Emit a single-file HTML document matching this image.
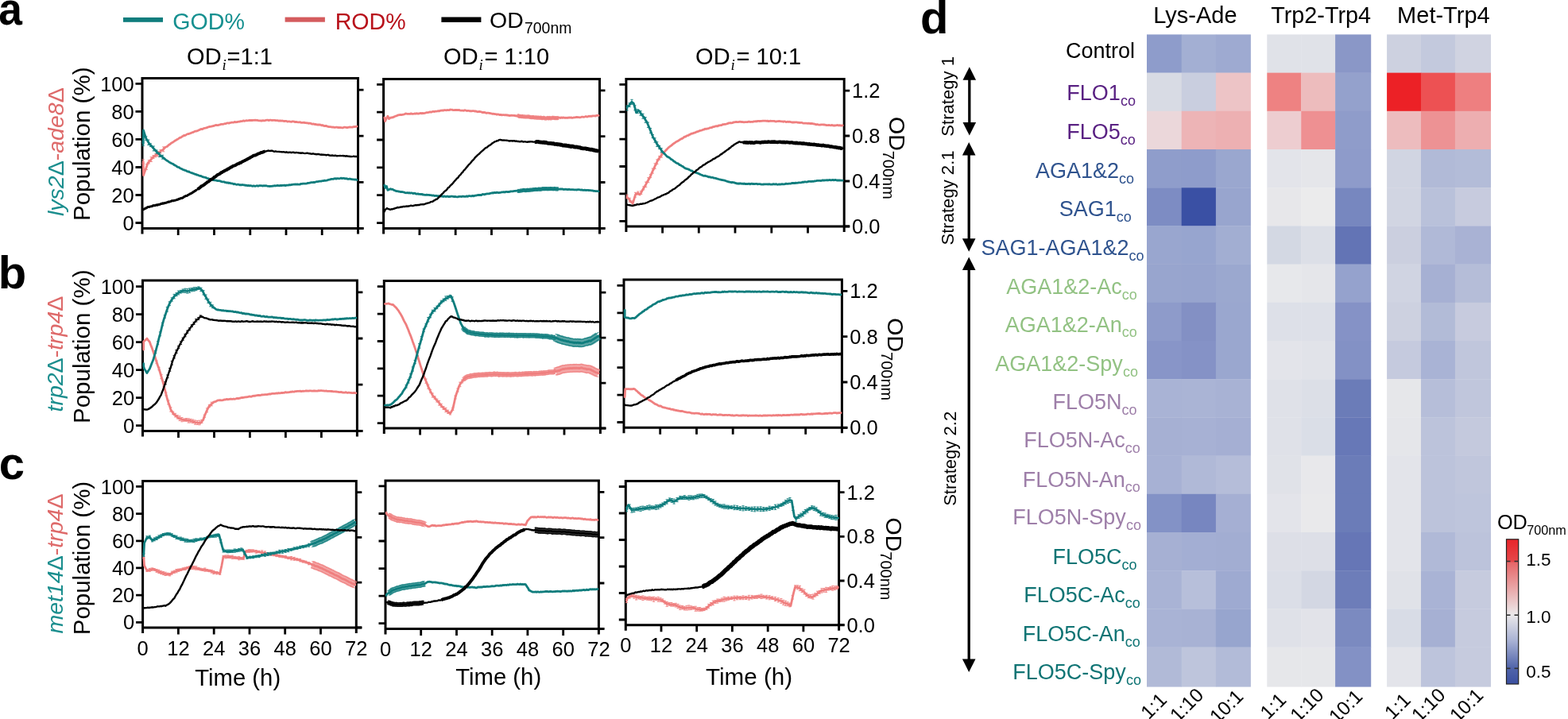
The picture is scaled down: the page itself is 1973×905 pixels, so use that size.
<!DOCTYPE html>
<html><head><meta charset="utf-8"><title>Figure</title><style>html,body{margin:0;padding:0;background:#fff;}svg{display:block;}</style></head><body>
<svg width="1973" height="905" viewBox="0 0 1973 905" font-family="'Liberation Sans', sans-serif">
<rect width="1973" height="905" fill="#fff"/>
<text transform="translate(-1.7,30.8) scale(0.92,1)" font-size="58" font-weight="bold">a</text>
<text x="-2.3" y="362.9" font-size="58" font-weight="bold">b</text>
<text x="-1.3" y="602.9" font-size="58" font-weight="bold">c</text>
<text x="1157.9" y="41.7" font-size="58" font-weight="bold">d</text>
<rect x="155" y="22" width="50" height="5.8" fill="#0f7d7d"/>
<text x="217.3" y="36.8" font-size="28.6" fill="#169090">GOD%</text>
<rect x="358.6" y="21.6" width="50.3" height="6.1" fill="#d45c5e"/>
<text x="421.7" y="36.8" font-size="28.6" fill="#b8111b">ROD%</text>
<rect x="555.4" y="21.5" width="50" height="6.5" fill="#000"/>
<text x="616.1" y="34.7" font-size="28.5">OD<tspan font-size="19.4" dx="1.2" dy="7.3">700nm</tspan></text>
<text x="235.1" y="80.6" font-size="29">OD<tspan font-size="19" font-style="italic" dx="0.9" dy="7.3" font-family="'Liberation Serif', serif">i</tspan><tspan dx="0.8" dy="-7.3">=1:1</tspan></text>
<text x="558.1" y="80.7" font-size="29">OD<tspan font-size="19" font-style="italic" dx="0.9" dy="7.3" font-family="'Liberation Serif', serif">i</tspan><tspan dx="1.8" dy="-7.3">= 1:10</tspan></text>
<text x="875.1" y="80.9" font-size="29">OD<tspan font-size="19" font-style="italic" dx="0.9" dy="7.3" font-family="'Liberation Serif', serif">i</tspan><tspan dx="1.8" dy="-7.3">= 10:1</tspan></text>
<path d="M179.0,294.4 L179.0,98.5 L450.5,98.5 L450.5,294.4 M179.0,287.4 L457.5,287.4" fill="none" stroke="#000" stroke-width="3.0" stroke-linejoin="miter" stroke-linecap="butt"/>
<path d="M170.5,280.5 L179.0,280.5 M170.5,245.5 L179.0,245.5 M170.5,210.5 L179.0,210.5 M170.5,175.4 L179.0,175.4 M170.5,140.4 L179.0,140.4 M170.5,105.4 L179.0,105.4 M450.5,287.4 L457.5,287.4 M450.5,229.3 L457.5,229.3 M450.5,171.2 L457.5,171.2 M450.5,113.1 L457.5,113.1 M224.2,287.4 L224.2,295.9 M269.5,287.4 L269.5,295.9 M314.8,287.4 L314.8,295.9 M360.0,287.4 L360.0,295.9 M405.2,287.4 L405.2,295.9" stroke="#000" stroke-width="2.8" fill="none"/>
<text x="168.7" y="289.6" font-size="25.5" text-anchor="end">0</text>
<text x="168.7" y="254.6" font-size="25.5" text-anchor="end">20</text>
<text x="168.7" y="219.6" font-size="25.5" text-anchor="end">40</text>
<text x="168.7" y="184.5" font-size="25.5" text-anchor="end">60</text>
<text x="168.7" y="149.5" font-size="25.5" text-anchor="end">80</text>
<text x="168.7" y="114.5" font-size="25.5" text-anchor="end">100</text>
<path d="M482.6,294.4 L482.6,99.4 L754.5,99.4 L754.5,294.4 M482.6,287.4 L761.5,287.4" fill="none" stroke="#000" stroke-width="3.0" stroke-linejoin="miter" stroke-linecap="butt"/>
<path d="M474.1,280.6 L482.6,280.6 M474.1,245.7 L482.6,245.7 M474.1,210.9 L482.6,210.9 M474.1,176.0 L482.6,176.0 M474.1,141.2 L482.6,141.2 M474.1,106.3 L482.6,106.3 M754.5,287.4 L761.5,287.4 M754.5,229.5 L761.5,229.5 M754.5,171.7 L761.5,171.7 M754.5,113.8 L761.5,113.8 M527.9,287.4 L527.9,295.9 M573.2,287.4 L573.2,295.9 M618.5,287.4 L618.5,295.9 M663.9,287.4 L663.9,295.9 M709.2,287.4 L709.2,295.9" stroke="#000" stroke-width="2.8" fill="none"/>
<path d="M787.9,291.9 L787.9,99.6 L1062.2,99.6 L1062.2,291.9 M787.9,284.9 L1069.2,284.9" fill="none" stroke="#000" stroke-width="3.0" stroke-linejoin="miter" stroke-linecap="butt"/>
<path d="M779.4,278.3 L787.9,278.3 M779.4,243.9 L787.9,243.9 M779.4,209.5 L787.9,209.5 M779.4,175.2 L787.9,175.2 M779.4,140.8 L787.9,140.8 M779.4,106.4 L787.9,106.4 M1062.2,284.9 L1069.2,284.9 M1062.2,228.0 L1069.2,228.0 M1062.2,171.0 L1069.2,171.0 M1062.2,114.1 L1069.2,114.1 M833.6,284.9 L833.6,293.4 M879.3,284.9 L879.3,293.4 M925.0,284.9 L925.0,293.4 M970.8,284.9 L970.8,293.4 M1016.5,284.9 L1016.5,293.4" stroke="#000" stroke-width="2.8" fill="none"/>
<text x="1072.0" y="294.0" font-size="25.5">0.0</text>
<text x="1072.0" y="237.1" font-size="25.5">0.4</text>
<text x="1072.0" y="180.1" font-size="25.5">0.8</text>
<text x="1072.0" y="123.2" font-size="25.5">1.2</text>
<path d="M179.5,549.4 L179.5,352.9 L449.4,352.9 L449.4,549.4 M179.5,542.4 L456.4,542.4" fill="none" stroke="#000" stroke-width="3.0" stroke-linejoin="miter" stroke-linecap="butt"/>
<path d="M171.0,535.6 L179.5,535.6 M171.0,500.6 L179.5,500.6 M171.0,465.6 L179.5,465.6 M171.0,430.7 L179.5,430.7 M171.0,395.7 L179.5,395.7 M171.0,360.7 L179.5,360.7 M449.4,542.4 L456.4,542.4 M449.4,484.2 L456.4,484.2 M449.4,426.0 L456.4,426.0 M449.4,367.8 L456.4,367.8 M224.5,542.4 L224.5,550.9 M269.5,542.4 L269.5,550.9 M314.4,542.4 L314.4,550.9 M359.4,542.4 L359.4,550.9 M404.4,542.4 L404.4,550.9" stroke="#000" stroke-width="2.8" fill="none"/>
<text x="169.2" y="544.7" font-size="25.5" text-anchor="end">0</text>
<text x="169.2" y="509.7" font-size="25.5" text-anchor="end">20</text>
<text x="169.2" y="474.7" font-size="25.5" text-anchor="end">40</text>
<text x="169.2" y="439.8" font-size="25.5" text-anchor="end">60</text>
<text x="169.2" y="404.8" font-size="25.5" text-anchor="end">80</text>
<text x="169.2" y="369.8" font-size="25.5" text-anchor="end">100</text>
<path d="M483.3,546.1 L483.3,353.6 L755.4,353.6 L755.4,546.1 M483.3,539.1 L762.4,539.1" fill="none" stroke="#000" stroke-width="3.0" stroke-linejoin="miter" stroke-linecap="butt"/>
<path d="M474.8,532.6 L483.3,532.6 M474.8,498.2 L483.3,498.2 M474.8,463.8 L483.3,463.8 M474.8,429.5 L483.3,429.5 M474.8,395.1 L483.3,395.1 M474.8,360.7 L483.3,360.7 M755.4,539.1 L762.4,539.1 M755.4,482.1 L762.4,482.1 M755.4,425.1 L762.4,425.1 M755.4,368.1 L762.4,368.1 M528.6,539.1 L528.6,547.6 M574.0,539.1 L574.0,547.6 M619.4,539.1 L619.4,547.6 M664.7,539.1 L664.7,547.6 M710.0,539.1 L710.0,547.6" stroke="#000" stroke-width="2.8" fill="none"/>
<path d="M785.0,545.3 L785.0,352.0 L1059.4,352.0 L1059.4,545.3 M785.0,538.3 L1066.4,538.3" fill="none" stroke="#000" stroke-width="3.0" stroke-linejoin="miter" stroke-linecap="butt"/>
<path d="M776.5,531.5 L785.0,531.5 M776.5,497.1 L785.0,497.1 M776.5,462.7 L785.0,462.7 M776.5,428.2 L785.0,428.2 M776.5,393.8 L785.0,393.8 M776.5,359.4 L785.0,359.4 M1059.4,538.3 L1066.4,538.3 M1059.4,481.0 L1066.4,481.0 M1059.4,423.6 L1066.4,423.6 M1059.4,366.3 L1066.4,366.3 M830.7,538.3 L830.7,546.8 M876.5,538.3 L876.5,546.8 M922.2,538.3 L922.2,546.8 M967.9,538.3 L967.9,546.8 M1013.7,538.3 L1013.7,546.8" stroke="#000" stroke-width="2.8" fill="none"/>
<text x="1069.2" y="547.4" font-size="25.5">0.0</text>
<text x="1069.2" y="490.1" font-size="25.5">0.4</text>
<text x="1069.2" y="432.7" font-size="25.5">0.8</text>
<text x="1069.2" y="375.4" font-size="25.5">1.2</text>
<path d="M179.6,796.9 L179.6,605.5 L448.3,605.5 L448.3,796.9 M179.6,789.9 L455.3,789.9" fill="none" stroke="#000" stroke-width="3.0" stroke-linejoin="miter" stroke-linecap="butt"/>
<path d="M171.1,783.3 L179.6,783.3 M171.1,749.1 L179.6,749.1 M171.1,714.9 L179.6,714.9 M171.1,680.8 L179.6,680.8 M171.1,646.6 L179.6,646.6 M171.1,612.4 L179.6,612.4 M448.3,789.9 L455.3,789.9 M448.3,733.1 L455.3,733.1 M448.3,676.4 L455.3,676.4 M448.3,619.6 L455.3,619.6 M224.4,789.9 L224.4,798.4 M269.2,789.9 L269.2,798.4 M314.0,789.9 L314.0,798.4 M358.7,789.9 L358.7,798.4 M403.5,789.9 L403.5,798.4" stroke="#000" stroke-width="2.8" fill="none"/>
<text x="169.3" y="792.4" font-size="25.5" text-anchor="end">0</text>
<text x="169.3" y="758.2" font-size="25.5" text-anchor="end">20</text>
<text x="169.3" y="724.0" font-size="25.5" text-anchor="end">40</text>
<text x="169.3" y="689.9" font-size="25.5" text-anchor="end">60</text>
<text x="169.3" y="655.7" font-size="25.5" text-anchor="end">80</text>
<text x="169.3" y="621.5" font-size="25.5" text-anchor="end">100</text>
<text x="179.6" y="824.6" font-size="25.5" text-anchor="middle">0</text>
<text x="224.4" y="824.6" font-size="25.5" text-anchor="middle">12</text>
<text x="269.2" y="824.6" font-size="25.5" text-anchor="middle">24</text>
<text x="314.0" y="824.6" font-size="25.5" text-anchor="middle">36</text>
<text x="358.7" y="824.6" font-size="25.5" text-anchor="middle">48</text>
<text x="403.5" y="824.6" font-size="25.5" text-anchor="middle">60</text>
<text x="448.3" y="824.6" font-size="25.5" text-anchor="middle">72</text>
<path d="M485.0,798.4 L485.0,605.0 L753.4,605.0 L753.4,798.4 M485.0,791.4 L760.4,791.4" fill="none" stroke="#000" stroke-width="3.0" stroke-linejoin="miter" stroke-linecap="butt"/>
<path d="M476.5,784.7 L485.0,784.7 M476.5,750.1 L485.0,750.1 M476.5,715.6 L485.0,715.6 M476.5,681.0 L485.0,681.0 M476.5,646.5 L485.0,646.5 M476.5,611.9 L485.0,611.9 M753.4,791.4 L760.4,791.4 M753.4,734.0 L760.4,734.0 M753.4,676.7 L760.4,676.7 M753.4,619.3 L760.4,619.3 M529.7,791.4 L529.7,799.9 M574.5,791.4 L574.5,799.9 M619.2,791.4 L619.2,799.9 M663.9,791.4 L663.9,799.9 M708.7,791.4 L708.7,799.9" stroke="#000" stroke-width="2.8" fill="none"/>
<text x="485.0" y="826.1" font-size="25.5" text-anchor="middle">0</text>
<text x="529.7" y="826.1" font-size="25.5" text-anchor="middle">12</text>
<text x="574.5" y="826.1" font-size="25.5" text-anchor="middle">24</text>
<text x="619.2" y="826.1" font-size="25.5" text-anchor="middle">36</text>
<text x="663.9" y="826.1" font-size="25.5" text-anchor="middle">48</text>
<text x="708.7" y="826.1" font-size="25.5" text-anchor="middle">60</text>
<text x="753.4" y="826.1" font-size="25.5" text-anchor="middle">72</text>
<path d="M787.3,793.7 L787.3,605.5 L1055.6,605.5 L1055.6,793.7 M787.3,786.7 L1062.6,786.7" fill="none" stroke="#000" stroke-width="3.0" stroke-linejoin="miter" stroke-linecap="butt"/>
<path d="M778.8,780.0 L787.3,780.0 M778.8,746.5 L787.3,746.5 M778.8,713.0 L787.3,713.0 M778.8,679.5 L787.3,679.5 M778.8,646.0 L787.3,646.0 M778.8,612.5 L787.3,612.5 M1055.6,786.7 L1062.6,786.7 M1055.6,731.0 L1062.6,731.0 M1055.6,675.3 L1062.6,675.3 M1055.6,619.6 L1062.6,619.6 M832.0,786.7 L832.0,795.2 M876.7,786.7 L876.7,795.2 M921.4,786.7 L921.4,795.2 M966.2,786.7 L966.2,795.2 M1010.9,786.7 L1010.9,795.2" stroke="#000" stroke-width="2.8" fill="none"/>
<text x="1065.4" y="795.8" font-size="25.5">0.0</text>
<text x="1065.4" y="740.1" font-size="25.5">0.4</text>
<text x="1065.4" y="684.4" font-size="25.5">0.8</text>
<text x="1065.4" y="628.7" font-size="25.5">1.2</text>
<text x="787.3" y="821.4" font-size="25.5" text-anchor="middle">0</text>
<text x="832.0" y="821.4" font-size="25.5" text-anchor="middle">12</text>
<text x="876.7" y="821.4" font-size="25.5" text-anchor="middle">24</text>
<text x="921.4" y="821.4" font-size="25.5" text-anchor="middle">36</text>
<text x="966.2" y="821.4" font-size="25.5" text-anchor="middle">48</text>
<text x="1010.9" y="821.4" font-size="25.5" text-anchor="middle">60</text>
<text x="1055.6" y="821.4" font-size="25.5" text-anchor="middle">72</text>
<path d="M180.2,203.3 L180.5,220.7 L182.7,214.6 L184.4,210.1 L186.0,205.3 L187.4,203.8 L188.8,202.1 L190.2,200.6 L191.6,199.1 L193.0,197.5 L194.3,196.3 L195.7,195.8 L197.1,194.4 L198.3,193.6 L199.6,192.1 L200.8,191.5 L202.0,190.7 L203.2,189.3 L204.5,188.9 L205.7,187.9 L206.9,186.3 L208.1,185.3 L209.4,184.8 L210.6,184.2 L211.8,182.9 L213.1,182.0 L214.3,181.3 L215.5,180.1 L216.7,179.4 L218.0,178.7 L219.2,177.9 L220.4,176.9 L221.7,176.2 L222.9,175.5 L224.1,174.9 L225.3,174.0 L226.6,173.1 L227.8,173.0 L229.0,172.0 L230.2,171.3 L231.5,170.5 L232.7,170.6 L233.9,170.0 L235.2,169.0 L236.4,168.7 L237.6,168.5 L238.8,168.0 L240.1,167.6 L241.3,166.8 L242.5,166.6 L243.8,166.1 L245.0,165.4 L246.2,165.2 L247.4,165.0 L248.7,164.6 L249.9,163.9 L251.1,163.5 L252.3,162.7 L253.6,162.5 L254.8,162.5 L256.0,161.8 L257.3,161.3 L258.5,161.1 L259.7,160.9 L260.9,160.4 L262.2,159.8 L263.4,159.5 L264.6,159.3 L265.9,159.2 L267.1,158.8 L268.3,158.5 L269.5,158.3 L270.8,157.7 L272.0,157.5 L273.2,157.7 L274.4,157.7 L275.7,157.1 L276.9,156.8 L278.1,156.4 L279.4,156.3 L280.6,156.4 L281.8,156.0 L283.0,155.6 L284.3,155.6 L285.5,154.9 L286.7,154.9 L288.0,155.1 L289.2,154.6 L290.4,154.4 L291.6,154.1 L292.9,154.1 L294.1,154.2 L295.3,153.4 L296.5,153.8 L297.8,153.6 L299.0,153.5 L300.2,153.2 L301.5,153.1 L302.7,152.7 L303.9,152.6 L305.1,152.3 L306.4,151.9 L307.6,152.3 L308.8,152.0 L310.1,151.7 L311.3,151.8 L312.5,151.7 L313.7,151.5 L315.0,151.5 L316.2,151.5 L317.4,151.5 L318.6,151.4 L319.9,151.4 L321.1,151.1 L322.3,151.3 L323.6,151.3 L324.8,151.7 L326.0,151.9 L327.2,151.9 L328.5,152.0 L329.7,152.0 L330.9,151.6 L332.2,151.9 L333.4,151.8 L334.6,151.3 L335.8,151.2 L337.1,151.2 L338.3,151.6 L339.5,151.2 L340.7,151.1 L342.0,151.5 L343.2,151.4 L344.4,151.3 L345.7,151.4 L346.9,151.7 L348.1,151.6 L349.3,151.7 L350.6,152.1 L351.8,152.0 L353.0,152.0 L354.3,152.2 L355.5,152.0 L356.7,152.3 L357.9,152.5 L359.2,152.4 L360.4,152.4 L361.6,153.1 L362.8,152.9 L364.1,152.8 L365.3,153.1 L366.5,153.3 L367.8,152.9 L369.0,152.9 L370.2,153.1 L371.4,153.6 L372.7,153.3 L373.9,153.7 L375.1,153.8 L376.4,153.8 L377.6,153.7 L378.8,154.4 L380.0,154.4 L381.3,154.3 L382.5,154.2 L383.7,154.6 L384.9,154.6 L386.2,154.9 L387.4,154.9 L388.6,155.3 L389.9,155.0 L391.1,155.4 L392.3,156.0 L393.5,156.1 L394.8,155.9 L396.0,156.5 L397.2,156.3 L398.4,156.9 L399.7,157.0 L400.9,156.9 L402.1,157.0 L403.4,157.1 L404.6,157.9 L405.8,157.5 L407.0,158.2 L408.3,158.6 L409.5,158.5 L410.7,158.5 L412.0,159.2 L413.2,159.5 L414.4,159.6 L415.6,159.7 L416.9,159.9 L418.1,160.1 L419.3,160.0 L420.5,160.4 L421.8,160.3 L423.0,160.2 L424.2,160.2 L425.5,160.6 L426.7,160.4 L427.9,160.6 L429.1,160.5 L430.4,160.8 L431.6,160.8 L432.8,160.2 L434.1,160.2 L435.3,160.3 L436.5,160.7 L437.7,160.5 L439.0,160.1 L440.2,160.0 L441.5,160.2 L442.7,160.1 L444.0,160.0 L445.2,159.5 L446.5,159.7 L447.8,159.4 L449.0,159.1" fill="none" stroke="#ef7f7f" stroke-width="2.8" stroke-linejoin="round" stroke-linecap="round"/>
<path d="M180.2,200.8 L180.2,205.8 M178.6,200.8 L181.8,200.8 M178.6,205.8 L181.8,205.8 M184.4,206.8 L184.4,213.4 M182.8,206.8 L186.0,206.8 M182.8,213.4 L186.0,213.4 M187.4,201.7 L187.4,206.0 M185.8,201.7 L189.0,201.7 M185.8,206.0 L189.0,206.0 M190.2,197.7 L190.2,203.5 M188.6,197.7 L191.8,197.7 M188.6,203.5 L191.8,203.5 M193.0,195.6 L193.0,199.4 M191.4,195.6 L194.6,195.6 M191.4,199.4 L194.6,199.4 M195.7,193.7 L195.7,197.8 M194.1,193.7 L197.3,193.7 M194.1,197.8 L197.3,197.8 M198.3,190.5 L198.3,196.8 M196.7,190.5 L199.9,190.5 M196.7,196.8 L199.9,196.8 M202.0,188.6 L202.0,192.8 M200.4,188.6 L203.6,188.6 M200.4,192.8 L203.6,192.8 M205.7,184.9 L205.7,190.8 M204.1,184.9 L207.3,184.9 M204.1,190.8 L207.3,190.8" fill="none" stroke="#ef7f7f" stroke-width="0.9"/>
<path d="M180.2,181.2 L180.5,163.8 L182.2,169.3 L183.8,174.2 L185.3,176.5 L186.8,179.2 L188.3,181.4 L189.5,182.7 L190.8,183.9 L192.0,185.5 L193.3,186.9 L194.6,188.3 L195.8,189.5 L197.1,191.1 L198.3,192.2 L199.6,193.5 L200.8,194.8 L202.0,195.9 L203.2,196.7 L204.5,197.7 L205.7,198.7 L206.9,199.6 L208.1,200.7 L209.4,201.8 L210.6,202.4 L211.8,203.2 L213.1,204.3 L214.3,204.8 L215.5,205.5 L216.7,206.0 L218.0,206.6 L219.2,207.6 L220.4,208.1 L221.7,208.9 L222.9,209.9 L224.1,210.3 L225.3,210.6 L226.6,211.7 L227.8,212.2 L229.0,212.8 L230.2,213.5 L231.5,213.9 L232.7,214.4 L233.9,214.6 L235.2,215.5 L236.4,216.0 L237.6,215.9 L238.8,216.8 L240.1,217.3 L241.3,217.6 L242.5,218.1 L243.8,218.5 L245.0,219.2 L246.2,219.3 L247.4,220.0 L248.7,220.1 L249.9,220.8 L251.1,221.3 L252.3,221.4 L253.6,221.9 L254.8,222.6 L256.0,222.9 L257.3,223.2 L258.5,223.4 L259.7,223.9 L260.9,224.6 L262.2,224.7 L263.4,225.7 L264.6,225.5 L265.9,226.2 L267.1,226.0 L268.3,226.7 L269.5,226.8 L270.8,226.9 L272.0,227.1 L273.2,227.5 L274.4,227.7 L275.7,227.7 L276.9,227.9 L278.1,228.3 L279.4,228.9 L280.6,228.9 L281.8,228.8 L283.0,229.5 L284.3,229.7 L285.5,230.1 L286.7,229.8 L288.0,230.5 L289.2,230.2 L290.4,230.9 L291.6,230.9 L292.9,231.1 L294.1,231.8 L295.3,231.5 L296.5,232.0 L297.8,232.4 L299.0,232.1 L300.2,232.2 L301.5,232.8 L302.7,232.6 L303.9,232.9 L305.1,232.5 L306.4,232.9 L307.6,232.9 L308.8,233.4 L310.1,233.1 L311.3,233.8 L312.5,233.3 L313.7,233.9 L315.0,233.5 L316.2,233.8 L317.4,234.3 L318.6,234.0 L319.9,234.0 L321.1,234.3 L322.3,234.0 L323.6,233.7 L324.8,234.3 L326.0,233.7 L327.2,233.6 L328.5,233.7 L329.7,233.9 L330.9,234.0 L332.2,233.6 L333.4,233.8 L334.6,233.7 L335.8,234.0 L337.1,234.3 L338.3,234.3 L339.5,234.5 L340.7,234.4 L342.0,234.4 L343.2,234.2 L344.4,234.0 L345.7,233.7 L346.9,234.0 L348.1,233.7 L349.3,233.4 L350.6,233.6 L351.8,233.8 L353.0,233.3 L354.3,233.5 L355.5,233.3 L356.7,233.4 L357.9,233.1 L359.2,233.6 L360.4,233.1 L361.6,233.2 L362.8,233.1 L364.1,232.7 L365.3,232.9 L366.5,232.5 L367.8,232.3 L369.0,232.2 L370.2,232.1 L371.4,232.0 L372.7,232.2 L373.9,232.0 L375.1,232.2 L376.4,232.1 L377.6,232.0 L378.8,231.3 L380.0,231.4 L381.3,231.1 L382.5,231.2 L383.7,231.1 L384.9,231.1 L386.2,230.9 L387.4,230.4 L388.6,230.3 L389.9,230.2 L391.1,229.7 L392.3,229.6 L393.5,229.6 L394.8,229.3 L396.0,229.5 L397.2,229.0 L398.4,228.7 L399.7,228.6 L400.9,228.4 L402.1,228.2 L403.4,228.2 L404.6,228.0 L405.8,227.7 L407.0,227.7 L408.3,227.1 L409.5,227.4 L410.7,227.2 L412.0,226.8 L413.2,226.3 L414.4,226.1 L415.6,225.9 L416.9,225.3 L418.1,225.3 L419.3,225.3 L420.5,224.9 L421.8,224.7 L423.0,225.1 L424.2,224.7 L425.5,224.7 L426.7,224.8 L427.9,224.5 L429.1,224.1 L430.4,224.7 L431.6,224.4 L432.8,224.3 L434.1,224.9 L435.3,224.6 L436.5,224.9 L437.7,225.4 L439.0,225.4 L440.2,225.0 L441.5,225.5 L442.7,225.6 L444.0,225.9 L445.2,225.8 L446.5,226.2 L447.8,226.0 L449.0,226.5" fill="none" stroke="#0f7d7d" stroke-width="2.8" stroke-linejoin="round" stroke-linecap="round"/>
<path d="M180.2,179.0 L180.2,183.4 M178.6,179.0 L181.8,179.0 M178.6,183.4 L181.8,183.4 M183.8,171.9 L183.8,176.6 M182.2,171.9 L185.4,171.9 M182.2,176.6 L185.4,176.6 M186.8,176.0 L186.8,182.4 M185.2,176.0 L188.4,176.0 M185.2,182.4 L188.4,182.4 M189.5,180.8 L189.5,184.6 M187.9,180.8 L191.1,180.8 M187.9,184.6 L191.1,184.6 M193.3,184.0 L193.3,189.9 M191.7,184.0 L194.9,184.0 M191.7,189.9 L194.9,189.9 M197.1,189.0 L197.1,193.2 M195.5,189.0 L198.7,189.0 M195.5,193.2 L198.7,193.2 M200.8,192.1 L200.8,197.5 M199.2,192.1 L202.4,192.1 M199.2,197.5 L202.4,197.5 M204.5,195.3 L204.5,200.1 M202.9,195.3 L206.1,195.3 M202.9,200.1 L206.1,200.1" fill="none" stroke="#0f7d7d" stroke-width="0.9"/>
<path d="M180.2,264.1 L180.7,263.4 L182.1,262.7 L183.4,262.1 L184.7,261.4 L186.0,260.6 L187.3,260.5 L188.5,260.1 L189.7,259.9 L191.0,259.7 L192.2,259.0 L193.4,258.6 L194.6,258.9 L195.9,258.2 L197.1,257.9 L198.3,258.1 L199.6,257.4 L200.8,257.4 L202.0,256.8 L203.2,256.6 L204.5,255.9 L205.7,256.0 L206.9,255.8 L208.1,255.2 L209.4,255.1 L210.6,254.7 L211.8,254.0 L213.1,254.1 L214.3,253.7 L215.5,253.2 L216.7,252.7 L218.0,252.9 L219.2,252.3 L220.4,252.1 L221.7,251.8 L222.9,251.2 L224.1,251.0 L225.3,250.2 L226.6,250.1 L227.8,249.4 L229.0,249.3 L230.2,248.9 L231.5,247.7 L232.7,247.1 L233.9,246.6 L235.2,246.5 L236.4,245.5 L237.6,245.0 L238.8,244.2 L240.1,243.7 L241.3,243.0 L242.5,242.1 L243.8,241.4 L245.0,240.5 L246.2,239.9 L247.4,238.9 L248.7,238.2 L249.9,237.3 L251.1,236.5 L252.3,235.5 L253.6,234.2 L254.8,233.9 L256.0,233.1 L257.3,232.2 L258.5,231.1 L259.7,230.3 L260.9,229.1 L262.2,228.7 L263.4,227.6 L264.6,226.6 L265.9,225.6 L267.1,225.3 L268.3,224.5 L269.5,223.0 L270.8,222.7 L272.0,221.5 L273.2,220.5 L274.4,219.7 L275.7,219.3 L276.9,218.6 L278.1,217.3 L279.4,217.0 L280.6,215.9 L281.8,215.6 L283.0,214.6 L284.3,214.2 L285.5,213.6 L286.7,212.6 L288.0,212.4 L289.2,211.3 L290.4,210.5 L291.6,210.2 L292.9,209.2 L294.1,208.7 L295.3,208.3 L296.5,207.8 L297.8,206.9 L299.0,206.2 L300.2,206.1 L301.5,205.1 L302.7,205.0 L303.9,204.3 L305.1,203.3 L306.4,202.8 L307.6,202.2 L308.8,201.6 L310.1,200.9 L311.3,200.2 L312.5,199.6 L313.7,199.2 L315.0,198.2 L316.2,197.5 L317.4,197.0 L318.6,196.0 L319.9,195.6 L321.1,195.6 L322.3,194.8 L323.6,194.3 L324.8,193.4 L326.0,193.2 L327.2,192.8 L328.5,192.0 L329.7,191.9 L331.0,191.5 L332.3,190.8 L333.6,190.8 L334.9,190.3 L336.1,190.1 L337.4,189.5 L338.7,189.9 L340.0,190.0 L341.3,189.7 L342.7,189.8 L344.0,190.4 L345.3,190.8 L346.6,190.4 L347.9,190.7 L349.2,190.9 L350.5,190.9 L351.8,191.0 L353.0,191.1 L354.3,191.2 L355.5,191.4 L356.7,191.3 L357.9,191.4 L359.2,191.8 L360.4,191.3 L361.6,191.8 L362.8,192.0 L364.1,191.7 L365.3,191.7 L366.5,192.2 L367.8,191.8 L369.0,191.8 L370.2,192.0 L371.4,192.3 L372.7,191.9 L373.9,192.1 L375.1,192.2 L376.4,192.6 L377.6,192.4 L378.8,192.8 L380.0,192.4 L381.3,192.6 L382.5,192.9 L383.7,193.1 L384.9,192.9 L386.2,192.8 L387.4,192.8 L388.6,193.2 L389.9,193.1 L391.1,193.6 L392.3,193.7 L393.5,193.4 L394.8,193.5 L396.0,194.0 L397.2,194.0 L398.4,194.2 L399.7,194.0 L400.9,194.0 L402.1,194.3 L403.4,194.7 L404.6,194.5 L405.8,194.7 L407.0,194.8 L408.3,194.9 L409.5,195.0 L410.7,195.4 L412.0,194.9 L413.2,194.9 L414.4,195.6 L415.6,195.7 L416.9,195.8 L418.1,195.5 L419.3,195.9 L420.5,196.0 L421.8,195.6 L423.0,196.0 L424.2,196.2 L425.5,196.1 L426.7,196.1 L427.9,196.0 L429.1,196.1 L430.4,196.1 L431.6,196.0 L432.8,196.4 L434.1,196.3 L435.3,196.7 L436.5,196.2 L437.7,196.8 L439.0,196.7 L440.2,197.0 L441.5,197.0 L442.7,197.1 L444.0,196.9 L445.2,196.6 L446.5,197.1 L447.8,196.8 L449.0,197.1" fill="none" stroke="#000" stroke-width="2.4" stroke-linejoin="round" stroke-linecap="round"/>
<path d="M180.2,264.1 L180.7,263.4 L182.1,262.7 L183.4,262.1 L184.7,261.4 L186.0,260.6 L187.3,260.5 L188.5,260.1 L189.7,259.9 L191.0,259.7 L192.2,259.0 L193.4,258.6 L194.6,258.9 L195.9,258.2 L197.1,257.9 L198.3,258.1 L199.6,257.4 L200.8,257.4 L202.0,256.8 L203.2,256.6 L204.5,255.9 L205.7,256.0 L206.9,255.8 L208.1,255.2 L209.4,255.1 L210.6,254.7 L211.8,254.0 L213.1,254.1 L214.3,253.7 L215.5,253.2 L216.7,252.7 L218.0,252.9 L219.2,252.3 L220.4,252.1 L221.7,251.8 L222.9,251.2 L224.1,251.0 L225.3,250.2 L226.6,250.1 L227.8,249.4 L229.0,249.3 L230.2,248.9 L231.5,247.7 L232.7,247.1 L233.9,246.6 L235.2,246.5 L236.4,245.5 L237.6,245.0 L238.8,244.2 L240.1,243.7 L241.3,243.0 L242.5,242.1 L243.8,241.4 L245.0,240.5 L246.2,239.9 L247.4,238.9" fill="none" stroke="#000" stroke-width="2.9" stroke-linejoin="round" stroke-linecap="butt"/>
<path d="M248.7,238.2 L249.9,237.3 L251.1,236.5 L252.3,235.5 L253.6,234.2 L254.8,233.9 L256.0,233.1 L257.3,232.2 L258.5,231.1 L259.7,230.3 L260.9,229.1 L262.2,228.7 L263.4,227.6 L264.6,226.6 L265.9,225.6 L267.1,225.3 L268.3,224.5 L269.5,223.0 L270.8,222.7 L272.0,221.5 L273.2,220.5 L274.4,219.7 L275.7,219.3 L276.9,218.6 L278.1,217.3 L279.4,217.0 L280.6,215.9 L281.8,215.6 L283.0,214.6 L284.3,214.2 L285.5,213.6 L286.7,212.6 L288.0,212.4 L289.2,211.3 L290.4,210.5 L291.6,210.2 L292.9,209.2 L294.1,208.7 L295.3,208.3 L296.5,207.8 L297.8,206.9 L299.0,206.2 L300.2,206.1 L301.5,205.1 L302.7,205.0 L303.9,204.3 L305.1,203.3 L306.4,202.8 L307.6,202.2 L308.8,201.6 L310.1,200.9 L311.3,200.2 L312.5,199.6 L313.7,199.2 L315.0,198.2 L316.2,197.5 L317.4,197.0 L318.6,196.0 L319.9,195.6 L321.1,195.6 L322.3,194.8 L323.6,194.3 L324.8,193.4 L326.0,193.2 L327.2,192.8 L328.5,192.0 L329.7,191.9 L331.0,191.5 L332.3,190.8 L333.6,190.8" fill="none" stroke="#000" stroke-width="4.0" stroke-linejoin="round" stroke-linecap="butt"/>
<path d="M483.8,148.0 L484.6,152.7 L486.4,148.9 L487.9,146.2 L489.5,149.6 L491.3,148.2 L492.5,148.0 L493.8,147.9 L495.0,147.4 L496.3,146.9 L497.6,146.1 L498.8,145.9 L500.1,145.2 L501.3,144.9 L502.6,144.6 L503.8,144.5 L505.0,144.7 L506.2,144.4 L507.5,144.1 L508.7,143.9 L509.9,143.2 L511.1,143.0 L512.4,143.3 L513.6,143.3 L514.8,143.4 L516.1,143.4 L517.3,142.9 L518.5,143.3 L519.7,143.3 L521.0,143.2 L522.2,143.0 L523.4,143.1 L524.7,142.7 L525.9,143.2 L527.1,143.0 L528.3,142.7 L529.6,142.4 L530.8,142.8 L532.0,142.4 L533.2,142.6 L534.5,142.4 L535.7,142.0 L536.9,141.7 L538.2,141.7 L539.4,141.4 L540.6,141.0 L541.8,141.0 L543.1,141.1 L544.3,140.4 L545.5,140.3 L546.8,140.5 L548.0,140.1 L549.2,140.1 L550.4,139.9 L551.7,139.6 L552.9,139.9 L554.1,139.2 L555.3,139.1 L556.6,138.9 L557.8,139.1 L559.0,138.7 L560.3,138.7 L561.5,138.9 L562.7,138.5 L563.9,138.6 L565.2,138.7 L566.4,138.0 L567.6,138.1 L568.9,138.2 L570.1,138.6 L571.3,138.6 L572.5,138.4 L573.8,138.5 L575.0,138.4 L576.2,138.7 L577.4,138.4 L578.7,138.9 L579.9,139.1 L581.1,139.2 L582.4,139.1 L583.6,139.3 L584.8,138.7 L586.0,139.0 L587.3,139.5 L588.5,139.4 L589.7,139.3 L591.0,139.8 L592.2,139.7 L593.4,139.9 L594.6,139.7 L595.9,139.7 L597.1,140.0 L598.3,139.9 L599.5,140.2 L600.8,140.8 L602.0,140.5 L603.2,140.5 L604.5,140.7 L605.7,140.9 L606.9,141.5 L608.1,141.4 L609.4,141.5 L610.6,141.6 L611.8,142.4 L613.1,142.2 L614.3,142.2 L615.5,142.3 L616.7,142.5 L618.0,142.8 L619.2,143.3 L620.4,143.2 L621.6,143.3 L622.9,143.7 L624.1,143.7 L625.3,144.3 L626.6,143.8 L627.8,144.3 L629.0,144.5 L630.2,144.4 L631.5,144.9 L632.7,144.7 L633.9,144.6 L635.2,144.8 L636.4,144.6 L637.6,145.0 L638.8,144.9 L640.1,145.4 L641.3,145.5 L642.5,145.3 L643.7,145.1 L645.0,145.3 L646.2,145.4 L647.4,145.5 L648.7,145.6 L649.9,146.1 L651.1,145.7 L652.3,145.8 L653.6,146.5 L654.8,146.3 L656.0,146.7 L657.3,146.4 L658.5,146.8 L659.7,146.8 L660.9,147.0 L662.2,147.0 L663.4,147.0 L664.6,146.8 L665.8,147.0 L667.1,147.5 L668.3,147.6 L669.5,147.7 L670.8,147.4 L672.0,147.8 L673.2,148.0 L674.4,147.9 L675.7,148.2 L676.9,148.1 L678.1,148.2 L679.4,148.3 L680.6,148.1 L681.8,148.6 L683.0,148.7 L684.3,148.2 L685.5,148.9 L686.7,149.0 L687.9,148.8 L689.2,148.4 L690.4,148.9 L691.6,148.4 L692.9,148.9 L694.1,148.7 L695.3,148.2 L696.5,148.3 L697.8,148.6 L699.0,148.5 L700.2,148.6 L701.4,148.7 L702.7,148.1 L703.9,147.9 L705.1,148.5 L706.4,147.8 L707.6,148.4 L708.8,147.8 L710.0,148.3 L711.3,148.2 L712.5,148.3 L713.7,148.1 L715.0,148.3 L716.2,147.8 L717.4,148.2 L718.6,147.9 L719.9,148.3 L721.1,148.2 L722.3,147.9 L723.5,147.9 L724.8,147.5 L726.0,147.4 L727.2,147.7 L728.5,147.6 L729.7,147.8 L730.9,147.5 L732.1,147.1 L733.4,147.2 L734.6,147.3 L735.8,147.0 L737.1,146.5 L738.3,147.0 L739.5,146.9 L740.7,146.2 L742.0,146.4 L743.2,146.2 L744.4,146.4 L745.7,145.9 L746.9,145.8 L748.2,145.8 L749.4,146.0 L750.7,145.3 L751.9,145.2 L753.1,145.4" fill="none" stroke="#ef7f7f" stroke-width="2.8" stroke-linejoin="round" stroke-linecap="round"/>
<path d="M651.1,145.7 L652.3,145.8 L653.6,146.5 L654.8,146.3 L656.0,146.7 L657.3,146.4 L658.5,146.8 L659.7,146.8 L660.9,147.0 L662.2,147.0 L663.4,147.0 L664.6,146.8 L665.8,147.0 L667.1,147.5 L668.3,147.6 L669.5,147.7 L670.8,147.4 L672.0,147.8 L673.2,148.0 L674.4,147.9 L675.7,148.2 L676.9,148.1 L678.1,148.2 L679.4,148.3 L680.6,148.1 L681.8,148.6 L683.0,148.7 L684.3,148.2 L685.5,148.9 L686.7,149.0 L687.9,148.8 L689.2,148.4 L690.4,148.9 L691.6,148.4 L692.9,148.9 L694.1,148.7 L695.3,148.2 L696.5,148.3 L697.8,148.6 L699.0,148.5 L700.2,148.6 L701.4,148.7 L702.7,148.1" fill="none" stroke="#ef7f7f" stroke-width="5.1" stroke-opacity="0.7" stroke-linejoin="round" stroke-linecap="butt"/>
<path d="M651.1,143.9 L652.3,144.0 L653.6,144.7 L654.8,144.5 L656.0,144.9 L657.3,144.6 L658.5,145.0 L659.7,145.0 L660.9,145.2 L662.2,145.2 L663.4,145.2 L664.6,145.0 L665.8,145.2 L667.1,145.7 L668.3,145.8 L669.5,145.9 L670.8,145.6 L672.0,146.0 L673.2,146.2 L674.4,146.1 L675.7,146.4 L676.9,146.3 L678.1,146.4 L679.4,146.5 L680.6,146.3 L681.8,146.8 L683.0,146.9 L684.3,146.4 L685.5,147.1 L686.7,147.2 L687.9,147.0 L689.2,146.6 L690.4,147.1 L691.6,146.6 L692.9,147.1 L694.1,146.9 L695.3,146.4 L696.5,146.5 L697.8,146.8 L699.0,146.7 L700.2,146.8 L701.4,146.9 L702.7,146.3 M651.1,147.5 L652.3,147.6 L653.6,148.3 L654.8,148.1 L656.0,148.5 L657.3,148.2 L658.5,148.6 L659.7,148.6 L660.9,148.8 L662.2,148.8 L663.4,148.8 L664.6,148.6 L665.8,148.8 L667.1,149.3 L668.3,149.4 L669.5,149.5 L670.8,149.2 L672.0,149.6 L673.2,149.8 L674.4,149.7 L675.7,150.0 L676.9,149.9 L678.1,150.0 L679.4,150.1 L680.6,149.9 L681.8,150.4 L683.0,150.5 L684.3,150.0 L685.5,150.7 L686.7,150.8 L687.9,150.6 L689.2,150.2 L690.4,150.7 L691.6,150.2 L692.9,150.7 L694.1,150.5 L695.3,150.0 L696.5,150.1 L697.8,150.4 L699.0,150.3 L700.2,150.4 L701.4,150.5 L702.7,149.9" fill="none" stroke="#ef7f7f" stroke-width="1.1" stroke-opacity="0.85"/>
<path d="M483.8,233.1 L484.6,236.5 L486.4,234.4 L487.9,239.3 L489.6,238.6 L491.3,237.7 L492.5,238.3 L493.8,238.2 L495.0,238.9 L496.3,239.7 L497.6,240.0 L498.8,240.7 L500.1,240.6 L501.3,241.0 L502.6,241.1 L503.8,241.5 L505.0,241.7 L506.2,241.5 L507.5,241.8 L508.7,242.1 L509.9,242.7 L511.1,242.8 L512.4,242.5 L513.6,243.0 L514.8,242.7 L516.1,243.1 L517.3,242.9 L518.5,242.9 L519.7,243.6 L521.0,243.2 L522.2,243.3 L523.4,244.0 L524.7,244.1 L525.9,243.8 L527.1,244.4 L528.3,244.3 L529.6,244.5 L530.8,244.3 L532.0,245.0 L533.2,245.0 L534.5,245.3 L535.7,245.4 L536.9,245.1 L538.2,245.3 L539.4,245.3 L540.6,245.5 L541.8,245.6 L543.1,245.9 L544.3,246.2 L545.5,245.9 L546.8,246.5 L548.0,246.3 L549.2,246.4 L550.4,246.9 L551.7,246.7 L552.9,246.7 L554.1,246.9 L555.3,247.2 L556.6,246.8 L557.8,247.5 L559.0,246.9 L560.3,247.4 L561.5,247.5 L562.7,247.0 L563.9,247.6 L565.2,247.3 L566.4,247.5 L567.6,247.1 L568.9,247.2 L570.1,247.3 L571.3,247.8 L572.5,247.3 L573.8,247.7 L575.0,247.8 L576.2,247.8 L577.4,247.4 L578.7,247.3 L579.9,247.4 L581.1,247.5 L582.4,247.0 L583.6,247.4 L584.8,247.4 L586.0,247.4 L587.3,246.8 L588.5,247.4 L589.7,246.7 L591.0,246.7 L592.2,246.8 L593.4,246.9 L594.6,246.4 L595.9,246.8 L597.1,246.4 L598.3,246.1 L599.5,246.0 L600.8,245.7 L602.0,245.5 L603.2,245.3 L604.5,245.5 L605.7,245.5 L606.9,244.7 L608.1,244.5 L609.4,244.9 L610.6,244.4 L611.8,244.1 L613.1,243.8 L614.3,243.9 L615.5,243.8 L616.7,243.4 L618.0,243.2 L619.2,242.7 L620.4,243.1 L621.6,242.3 L622.9,242.5 L624.1,242.7 L625.3,242.1 L626.6,242.5 L627.8,242.6 L629.0,242.3 L630.2,242.3 L631.5,241.8 L632.7,241.9 L633.9,241.6 L635.2,242.0 L636.4,241.4 L637.6,241.4 L638.8,241.7 L640.1,241.5 L641.3,241.4 L642.5,240.9 L643.7,240.8 L645.0,240.9 L646.2,240.6 L647.4,240.4 L648.7,240.4 L649.9,240.1 L651.1,240.2 L652.3,240.5 L653.6,240.4 L654.8,240.1 L656.0,239.9 L657.3,239.7 L658.5,239.4 L659.7,239.4 L660.9,239.7 L662.2,239.6 L663.4,239.2 L664.6,239.4 L665.8,239.3 L667.1,239.1 L668.3,239.0 L669.5,239.0 L670.8,238.6 L672.0,238.7 L673.2,238.3 L674.4,238.4 L675.7,238.5 L676.9,238.3 L678.1,238.0 L679.4,238.4 L680.6,238.1 L681.8,238.0 L683.0,237.5 L684.3,237.8 L685.5,237.5 L686.7,237.7 L687.9,237.5 L689.2,237.8 L690.4,237.6 L691.6,237.7 L692.9,237.4 L694.1,237.6 L695.3,237.7 L696.5,237.8 L697.8,237.4 L699.0,237.8 L700.2,237.9 L701.4,237.8 L702.7,238.1 L703.9,238.2 L705.1,237.9 L706.4,238.0 L707.6,237.8 L708.8,238.4 L710.0,238.5 L711.3,238.2 L712.5,238.4 L713.7,238.5 L715.0,238.6 L716.2,238.2 L717.4,238.7 L718.6,238.6 L719.9,238.7 L721.1,238.6 L722.3,238.8 L723.5,238.9 L724.8,238.9 L726.0,239.0 L727.2,238.6 L728.5,238.7 L729.7,238.9 L730.9,239.1 L732.1,238.9 L733.4,239.3 L734.6,239.4 L735.8,239.1 L737.1,239.5 L738.3,239.4 L739.5,239.4 L740.7,239.5 L742.0,239.7 L743.2,239.7 L744.4,239.9 L745.7,239.9 L746.9,240.3 L748.2,240.3 L749.4,240.6 L750.7,240.7 L751.9,240.6 L753.1,240.9" fill="none" stroke="#0f7d7d" stroke-width="2.8" stroke-linejoin="round" stroke-linecap="round"/>
<path d="M651.1,240.2 L652.3,240.5 L653.6,240.4 L654.8,240.1 L656.0,239.9 L657.3,239.7 L658.5,239.4 L659.7,239.4 L660.9,239.7 L662.2,239.6 L663.4,239.2 L664.6,239.4 L665.8,239.3 L667.1,239.1 L668.3,239.0 L669.5,239.0 L670.8,238.6 L672.0,238.7 L673.2,238.3 L674.4,238.4 L675.7,238.5 L676.9,238.3 L678.1,238.0 L679.4,238.4 L680.6,238.1 L681.8,238.0 L683.0,237.5 L684.3,237.8 L685.5,237.5 L686.7,237.7 L687.9,237.5 L689.2,237.8 L690.4,237.6 L691.6,237.7 L692.9,237.4 L694.1,237.6 L695.3,237.7 L696.5,237.8 L697.8,237.4 L699.0,237.8 L700.2,237.9 L701.4,237.8 L702.7,238.1" fill="none" stroke="#0f7d7d" stroke-width="5.1" stroke-opacity="0.7" stroke-linejoin="round" stroke-linecap="butt"/>
<path d="M651.1,238.4 L652.3,238.7 L653.6,238.6 L654.8,238.3 L656.0,238.1 L657.3,237.9 L658.5,237.6 L659.7,237.6 L660.9,237.9 L662.2,237.8 L663.4,237.4 L664.6,237.6 L665.8,237.5 L667.1,237.3 L668.3,237.2 L669.5,237.2 L670.8,236.8 L672.0,236.9 L673.2,236.5 L674.4,236.6 L675.7,236.7 L676.9,236.5 L678.1,236.2 L679.4,236.6 L680.6,236.3 L681.8,236.2 L683.0,235.7 L684.3,236.0 L685.5,235.7 L686.7,235.9 L687.9,235.7 L689.2,236.0 L690.4,235.8 L691.6,235.9 L692.9,235.6 L694.1,235.8 L695.3,235.9 L696.5,236.0 L697.8,235.6 L699.0,236.0 L700.2,236.1 L701.4,236.0 L702.7,236.3 M651.1,242.0 L652.3,242.3 L653.6,242.2 L654.8,241.9 L656.0,241.7 L657.3,241.5 L658.5,241.2 L659.7,241.2 L660.9,241.5 L662.2,241.4 L663.4,241.0 L664.6,241.2 L665.8,241.1 L667.1,240.9 L668.3,240.8 L669.5,240.8 L670.8,240.4 L672.0,240.5 L673.2,240.1 L674.4,240.2 L675.7,240.3 L676.9,240.1 L678.1,239.8 L679.4,240.2 L680.6,239.9 L681.8,239.8 L683.0,239.3 L684.3,239.6 L685.5,239.3 L686.7,239.5 L687.9,239.3 L689.2,239.6 L690.4,239.4 L691.6,239.5 L692.9,239.2 L694.1,239.4 L695.3,239.5 L696.5,239.6 L697.8,239.2 L699.0,239.6 L700.2,239.7 L701.4,239.6 L702.7,239.9" fill="none" stroke="#0f7d7d" stroke-width="1.1" stroke-opacity="0.85"/>
<path d="M483.8,266.3 L484.2,264.8 L485.5,263.3 L486.8,262.1 L488.3,262.8 L489.8,263.3 L491.3,263.9 L492.5,263.3 L493.8,263.4 L495.0,262.8 L496.3,262.6 L497.6,261.9 L498.8,261.8 L500.1,261.0 L501.3,261.2 L502.6,261.0 L503.8,260.6 L505.0,260.5 L506.2,260.5 L507.5,259.9 L508.7,260.0 L509.9,260.0 L511.1,259.5 L512.4,259.7 L513.6,259.5 L514.8,259.5 L516.1,259.0 L517.3,258.7 L518.5,259.1 L519.7,259.0 L521.0,258.6 L522.2,258.3 L523.4,258.2 L524.7,258.3 L525.9,257.9 L527.1,258.2 L528.3,257.7 L529.6,257.3 L530.8,257.4 L532.0,257.1 L533.2,257.3 L534.5,256.9 L535.7,256.3 L536.9,256.0 L538.2,255.7 L539.4,255.4 L540.6,255.1 L541.8,254.1 L543.1,253.9 L544.3,253.7 L545.6,252.7 L547.0,252.1 L548.3,251.0 L549.6,250.8 L550.9,249.7 L552.4,248.0 L553.9,246.9 L555.3,245.1 L556.6,243.8 L557.8,242.8 L559.0,241.3 L560.3,240.2 L561.5,239.4 L562.7,238.0 L563.9,236.3 L565.2,235.6 L566.4,233.9 L567.6,232.8 L568.9,231.8 L570.1,230.3 L571.3,228.7 L572.5,227.4 L573.8,226.0 L575.0,224.5 L576.2,223.8 L577.4,221.8 L578.7,220.5 L579.9,219.3 L581.1,217.6 L582.4,216.5 L583.6,214.5 L584.8,213.6 L586.0,212.0 L587.3,210.4 L588.5,209.1 L589.7,207.4 L591.0,206.3 L592.2,205.0 L593.4,203.4 L594.6,202.0 L595.9,200.9 L597.1,199.3 L598.3,197.7 L599.5,196.8 L600.8,195.4 L602.0,194.4 L603.2,193.5 L604.5,192.0 L605.7,190.8 L606.9,189.8 L608.1,189.0 L609.4,187.7 L610.6,186.5 L611.8,185.8 L613.1,185.3 L614.3,184.0 L615.5,183.2 L616.7,182.7 L618.0,181.6 L619.2,180.5 L620.4,179.8 L621.6,179.0 L622.9,178.2 L624.2,177.8 L625.5,177.2 L626.8,177.0 L628.1,176.1 L629.4,175.8 L631.0,176.3 L632.7,176.6 L633.9,176.4 L635.2,176.6 L636.4,176.6 L637.6,176.7 L638.8,176.9 L640.1,177.3 L641.3,177.5 L642.5,177.2 L643.7,177.1 L645.0,177.5 L646.2,177.3 L647.4,177.3 L648.7,177.9 L649.9,177.5 L651.1,178.0 L652.3,177.9 L653.6,178.3 L654.8,178.3 L656.0,177.8 L657.3,178.0 L658.5,178.6 L659.7,178.4 L660.9,178.3 L662.2,178.6 L663.4,178.7 L664.6,178.5 L665.8,178.5 L667.1,178.3 L668.3,178.4 L669.5,178.3 L670.8,178.6 L672.0,178.6 L673.2,178.3 L674.4,178.6 L675.7,178.3 L676.9,178.3 L678.1,178.8 L679.4,178.8 L680.6,179.2 L681.8,179.1 L683.0,179.3 L684.3,179.0 L685.5,179.6 L686.7,179.2 L687.9,179.7 L689.2,180.1 L690.4,180.3 L691.6,180.4 L692.9,180.3 L694.1,180.6 L695.3,180.9 L696.5,180.6 L697.8,181.3 L699.0,181.5 L700.2,181.3 L701.4,181.8 L702.7,181.7 L703.9,181.8 L705.1,182.3 L706.4,182.1 L707.6,182.8 L708.8,183.1 L710.0,182.8 L711.3,183.4 L712.5,183.0 L713.7,183.7 L715.0,183.5 L716.2,184.1 L717.4,183.9 L718.6,184.5 L719.9,184.0 L721.1,184.2 L722.3,184.9 L723.5,185.0 L724.8,185.1 L726.0,185.0 L727.2,185.3 L728.5,185.6 L729.7,185.6 L730.9,186.4 L732.1,186.5 L733.4,186.8 L734.6,186.9 L735.8,186.8 L737.1,186.9 L738.3,187.5 L739.5,187.3 L740.7,187.9 L742.0,188.0 L743.2,188.3 L744.4,188.2 L745.7,188.5 L746.9,189.1 L748.2,189.0 L749.4,189.7 L750.7,189.7 L751.9,190.0 L753.1,190.5" fill="none" stroke="#000" stroke-width="2.4" stroke-linejoin="round" stroke-linecap="round"/>
<path d="M673.2,178.3 L674.4,178.6 L675.7,178.3 L676.9,178.3 L678.1,178.8 L679.4,178.8 L680.6,179.2 L681.8,179.1 L683.0,179.3 L684.3,179.0 L685.5,179.6 L686.7,179.2 L687.9,179.7 L689.2,180.1 L690.4,180.3 L691.6,180.4 L692.9,180.3 L694.1,180.6 L695.3,180.9 L696.5,180.6 L697.8,181.3 L699.0,181.5 L700.2,181.3 L701.4,181.8 L702.7,181.7 L703.9,181.8 L705.1,182.3 L706.4,182.1 L707.6,182.8 L708.8,183.1 L710.0,182.8 L711.3,183.4 L712.5,183.0 L713.7,183.7 L715.0,183.5 L716.2,184.1 L717.4,183.9 L718.6,184.5 L719.9,184.0 L721.1,184.2 L722.3,184.9 L723.5,185.0 L724.8,185.1 L726.0,185.0 L727.2,185.3 L728.5,185.6 L729.7,185.6 L730.9,186.4 L732.1,186.5 L733.4,186.8 L734.6,186.9 L735.8,186.8 L737.1,186.9 L738.3,187.5 L739.5,187.3 L740.7,187.9 L742.0,188.0 L743.2,188.3 L744.4,188.2 L745.7,188.5 L746.9,189.1 L748.2,189.0 L749.4,189.7 L750.7,189.7 L751.9,190.0 L753.1,190.5" fill="none" stroke="#000" stroke-width="4.8" stroke-linejoin="round" stroke-linecap="butt"/>
<path d="M789.1,247.5 L789.1,248.6 L790.6,249.6 L792.3,251.7 L793.9,254.2 L796.2,256.0 L797.8,250.8 L799.5,245.2 L801.1,243.9 L802.8,243.1 L805.0,245.0 L806.7,242.5 L808.3,239.5 L809.8,236.9 L811.3,234.5 L812.7,232.2 L814.2,229.2 L815.7,226.7 L817.1,224.4 L818.5,221.6 L819.9,218.3 L821.3,215.1 L822.7,212.5 L824.1,209.0 L825.4,206.9 L826.8,203.7 L828.2,200.8 L829.6,198.9 L831.0,197.1 L832.3,195.5 L833.7,193.1 L835.1,192.0 L836.5,190.7 L837.9,189.1 L839.2,187.9 L840.6,186.3 L842.0,185.1 L843.4,184.0 L844.8,183.1 L846.2,181.9 L847.5,180.8 L848.9,180.0 L850.3,178.9 L851.5,178.1 L852.8,177.7 L854.0,176.9 L855.2,175.9 L856.4,175.3 L857.7,174.6 L858.9,174.1 L860.1,173.2 L861.3,172.2 L862.6,172.1 L863.8,171.0 L865.0,170.7 L866.3,170.4 L867.5,169.4 L868.7,169.1 L869.9,168.2 L871.2,168.1 L872.4,167.7 L873.6,167.1 L874.9,166.9 L876.1,166.0 L877.3,165.9 L878.5,165.3 L879.8,164.9 L881.0,164.4 L882.2,164.2 L883.4,163.8 L884.7,163.2 L885.9,163.0 L887.1,162.2 L888.4,162.4 L889.6,162.0 L890.8,161.9 L892.0,161.5 L893.3,160.8 L894.5,160.6 L895.7,160.5 L897.0,159.7 L898.2,159.7 L899.4,159.2 L900.6,158.9 L901.9,158.6 L903.1,158.8 L904.3,158.0 L905.5,157.8 L906.8,157.6 L908.0,157.6 L909.2,156.7 L910.5,156.7 L911.7,156.4 L912.9,156.3 L914.1,156.0 L915.4,155.7 L916.6,155.0 L917.8,154.9 L919.1,154.7 L920.3,154.9 L921.5,154.7 L922.7,154.0 L924.0,153.9 L925.2,153.7 L926.4,153.5 L927.6,153.6 L928.9,153.6 L930.1,153.4 L931.3,153.2 L932.6,153.5 L933.8,153.5 L935.0,153.6 L936.2,153.9 L937.5,153.7 L938.7,153.6 L939.9,153.6 L941.2,153.5 L942.4,153.0 L943.6,153.5 L944.8,153.4 L946.1,153.4 L947.3,153.3 L948.5,152.9 L949.7,152.8 L951.0,152.6 L952.2,152.9 L953.4,152.4 L954.7,152.4 L955.9,152.5 L957.1,152.4 L958.3,152.4 L959.6,152.2 L960.8,152.1 L962.0,152.2 L963.3,152.2 L964.5,152.4 L965.7,152.1 L966.9,152.7 L968.2,152.5 L969.4,152.2 L970.6,152.3 L971.8,152.4 L973.1,152.4 L974.3,152.3 L975.5,152.9 L976.8,153.0 L978.0,152.7 L979.2,152.7 L980.4,152.5 L981.7,152.6 L982.9,152.8 L984.1,152.8 L985.4,153.3 L986.6,152.9 L987.8,152.9 L989.0,153.6 L990.3,153.4 L991.5,153.2 L992.7,153.5 L993.9,153.2 L995.2,153.7 L996.4,154.0 L997.6,154.0 L998.9,154.0 L1000.1,153.8 L1001.3,153.9 L1002.5,153.8 L1003.8,154.3 L1005.0,154.2 L1006.2,154.5 L1007.4,154.3 L1008.7,154.3 L1009.9,154.8 L1011.1,155.1 L1012.4,155.1 L1013.6,155.1 L1014.8,155.2 L1016.0,155.3 L1017.3,155.1 L1018.5,155.4 L1019.7,155.5 L1021.0,155.4 L1022.2,155.5 L1023.4,155.8 L1024.6,156.0 L1025.9,156.4 L1027.1,156.8 L1028.3,156.5 L1029.5,156.9 L1030.8,157.1 L1032.0,157.1 L1033.2,156.8 L1034.5,156.8 L1035.7,156.9 L1036.9,157.0 L1038.1,157.1 L1039.4,157.5 L1040.6,157.7 L1041.8,157.7 L1043.1,157.5 L1044.3,157.7 L1045.5,157.8 L1046.7,157.4 L1048.0,157.8 L1049.2,158.0 L1050.4,158.0 L1051.6,157.9 L1052.9,157.7 L1054.1,157.5 L1055.3,158.0 L1056.6,157.6 L1057.8,158.0 L1059.0,158.1 L1060.2,157.8" fill="none" stroke="#ef7f7f" stroke-width="2.8" stroke-linejoin="round" stroke-linecap="round"/>
<path d="M789.1,245.1 L789.1,249.9 M787.5,245.1 L790.7,245.1 M787.5,249.9 L790.7,249.9 M792.3,249.3 L792.3,254.1 M790.7,249.3 L793.9,249.3 M790.7,254.1 L793.9,254.1 M796.2,252.8 L796.2,259.2 M794.6,252.8 L797.8,252.8 M794.6,259.2 L797.8,259.2 M799.5,242.3 L799.5,248.1 M797.9,242.3 L801.1,242.3 M797.9,248.1 L801.1,248.1 M802.8,241.0 L802.8,245.1 M801.2,241.0 L804.4,241.0 M801.2,245.1 L804.4,245.1 M806.7,240.5 L806.7,244.5 M805.1,240.5 L808.3,240.5 M805.1,244.5 L808.3,244.5 M809.8,234.9 L809.8,238.9 M808.2,234.9 L811.4,234.9 M808.2,238.9 L811.4,238.9 M812.7,229.1 L812.7,235.4 M811.1,229.1 L814.3,229.1 M811.1,235.4 L814.3,235.4 M815.7,223.7 L815.7,229.7 M814.1,223.7 L817.3,223.7 M814.1,229.7 L817.3,229.7 M818.5,219.5 L818.5,223.6 M816.9,219.5 L820.1,219.5 M816.9,223.6 L820.1,223.6 M821.3,212.1 L821.3,218.1 M819.7,212.1 L822.9,212.1 M819.7,218.1 L822.9,218.1 M824.1,205.8 L824.1,212.3 M822.5,205.8 L825.7,205.8 M822.5,212.3 L825.7,212.3 M826.8,200.9 L826.8,206.5 M825.2,200.9 L828.4,200.9 M825.2,206.5 L828.4,206.5 M829.6,196.6 L829.6,201.2 M828.0,196.6 L831.2,196.6 M828.0,201.2 L831.2,201.2 M832.3,192.9 L832.3,198.1 M830.7,192.9 L833.9,192.9 M830.7,198.1 L833.9,198.1" fill="none" stroke="#ef7f7f" stroke-width="0.9"/>
<path d="M789.1,135.9 L789.1,134.8 L790.6,133.5 L792.1,132.2 L793.6,129.7 L795.0,128.3 L797.3,130.1 L798.9,135.7 L800.6,141.8 L802.2,140.1 L803.9,139.3 L806.1,142.5 L807.6,144.3 L809.0,146.2 L810.5,147.8 L812.2,151.0 L813.8,153.3 L815.5,157.2 L817.1,161.0 L818.5,164.4 L819.9,167.9 L821.3,171.5 L822.7,174.5 L824.1,176.5 L825.4,178.8 L826.8,181.5 L828.2,183.1 L829.6,185.4 L831.0,187.2 L832.3,189.3 L833.7,191.0 L835.1,192.6 L836.5,193.9 L837.9,195.4 L839.2,196.9 L840.5,197.6 L841.7,198.1 L842.9,198.9 L844.2,200.4 L845.4,200.9 L846.6,201.6 L847.8,203.0 L849.1,203.6 L850.3,204.6 L851.5,205.4 L852.8,205.7 L854.0,206.5 L855.2,207.6 L856.4,207.8 L857.7,209.0 L858.9,209.3 L860.1,210.4 L861.3,211.2 L862.6,211.9 L863.8,212.4 L865.0,212.7 L866.3,213.1 L867.5,213.6 L868.7,214.4 L869.9,215.0 L871.2,215.2 L872.4,216.4 L873.6,216.6 L874.9,217.2 L876.1,217.4 L877.3,217.9 L878.5,218.2 L879.8,218.9 L881.0,219.4 L882.2,220.0 L883.4,220.4 L884.7,221.1 L885.9,221.4 L887.1,221.2 L888.4,221.6 L889.6,221.8 L890.8,222.4 L892.0,222.9 L893.3,222.7 L894.5,223.4 L895.7,223.3 L897.0,223.4 L898.2,224.2 L899.4,224.2 L900.6,224.4 L901.9,224.9 L903.1,225.1 L904.3,225.5 L905.5,225.8 L906.8,226.1 L908.0,226.5 L909.2,226.6 L910.5,226.8 L911.7,227.1 L912.9,227.5 L914.1,228.1 L915.4,228.3 L916.6,228.9 L917.8,229.0 L919.1,229.3 L920.3,229.8 L921.5,229.4 L922.7,229.6 L924.0,229.9 L925.2,230.3 L926.4,230.7 L927.6,231.1 L928.9,230.9 L930.1,231.3 L931.3,230.7 L932.6,231.3 L933.8,231.0 L935.0,231.5 L936.2,230.9 L937.5,231.6 L938.7,231.5 L939.9,231.7 L941.2,231.5 L942.4,231.2 L943.6,231.8 L944.8,231.4 L946.1,231.2 L947.3,231.6 L948.5,231.5 L949.7,231.6 L951.0,231.4 L952.2,231.4 L953.4,231.8 L954.7,231.7 L955.9,231.6 L957.1,231.8 L958.3,232.1 L959.6,232.1 L960.8,232.0 L962.0,231.9 L963.3,231.9 L964.5,231.8 L965.7,231.8 L966.9,232.0 L968.2,231.7 L969.4,232.2 L970.6,232.2 L971.8,232.1 L973.1,231.7 L974.3,231.9 L975.5,232.0 L976.8,231.7 L978.0,232.3 L979.2,232.2 L980.4,232.0 L981.7,232.2 L982.9,231.8 L984.1,231.7 L985.4,231.8 L986.6,231.8 L987.8,231.6 L989.0,231.1 L990.3,231.4 L991.5,231.4 L992.7,231.2 L993.9,231.2 L995.2,231.1 L996.4,230.5 L997.6,230.4 L998.9,230.5 L1000.1,230.6 L1001.3,230.1 L1002.5,230.4 L1003.8,230.2 L1005.0,229.8 L1006.2,229.8 L1007.4,229.9 L1008.7,229.6 L1009.9,229.2 L1011.1,229.4 L1012.4,228.9 L1013.6,228.9 L1014.8,229.1 L1016.0,228.9 L1017.3,228.4 L1018.5,228.3 L1019.7,228.4 L1021.0,228.5 L1022.2,228.2 L1023.4,228.3 L1024.6,228.0 L1025.9,227.9 L1027.1,227.7 L1028.3,227.4 L1029.5,227.4 L1030.8,227.4 L1032.0,227.3 L1033.2,227.5 L1034.5,227.0 L1035.7,226.8 L1036.9,227.2 L1038.1,226.8 L1039.4,226.8 L1040.6,226.6 L1041.8,227.0 L1043.1,226.6 L1044.3,226.5 L1045.5,226.9 L1046.7,226.6 L1048.0,226.4 L1049.2,226.8 L1050.4,226.5 L1051.6,226.5 L1052.9,227.0 L1054.1,227.0 L1055.3,227.0 L1056.6,226.8 L1057.8,227.2 L1059.0,227.1 L1060.2,227.2" fill="none" stroke="#0f7d7d" stroke-width="2.8" stroke-linejoin="round" stroke-linecap="round"/>
<path d="M789.1,132.8 L789.1,138.9 M787.5,132.8 L790.7,132.8 M787.5,138.9 L790.7,138.9 M792.1,129.8 L792.1,134.5 M790.5,129.8 L793.7,129.8 M790.5,134.5 L793.7,134.5 M795.0,125.3 L795.0,131.3 M793.4,125.3 L796.6,125.3 M793.4,131.3 L796.6,131.3 M798.9,132.7 L798.9,138.7 M797.3,132.7 L800.5,132.7 M797.3,138.7 L800.5,138.7 M802.2,137.7 L802.2,142.5 M800.6,137.7 L803.8,137.7 M800.6,142.5 L803.8,142.5 M806.1,139.7 L806.1,145.3 M804.5,139.7 L807.7,139.7 M804.5,145.3 L807.7,145.3 M809.0,143.2 L809.0,149.2 M807.4,143.2 L810.6,143.2 M807.4,149.2 L810.6,149.2 M812.2,147.7 L812.2,154.3 M810.6,147.7 L813.8,147.7 M810.6,154.3 L813.8,154.3 M815.5,154.1 L815.5,160.4 M813.9,154.1 L817.1,154.1 M813.9,160.4 L817.1,160.4 M818.5,161.5 L818.5,167.4 M816.9,161.5 L820.1,161.5 M816.9,167.4 L820.1,167.4 M821.3,169.5 L821.3,173.5 M819.7,169.5 L822.9,169.5 M819.7,173.5 L822.9,173.5 M824.1,173.8 L824.1,179.2 M822.5,173.8 L825.7,173.8 M822.5,179.2 L825.7,179.2 M826.8,178.7 L826.8,184.4 M825.2,178.7 L828.4,178.7 M825.2,184.4 L828.4,184.4 M829.6,183.5 L829.6,187.3 M828.0,183.5 L831.2,183.5 M828.0,187.3 L831.2,187.3 M832.3,186.8 L832.3,191.8 M830.7,186.8 L833.9,186.8 M830.7,191.8 L833.9,191.8" fill="none" stroke="#0f7d7d" stroke-width="0.9"/>
<path d="M789.1,257.4 L789.1,257.7 L789.8,257.9 L791.1,258.1 L792.4,258.3 L793.6,258.5 L794.9,258.8 L796.2,259.0 L797.5,258.5 L798.9,258.0 L800.3,258.1 L801.7,257.1 L802.9,257.3 L804.2,257.4 L805.5,256.7 L806.7,256.8 L808.0,256.7 L809.3,256.2 L810.5,256.2 L811.8,255.9 L813.2,255.2 L814.5,254.9 L815.8,254.0 L817.1,253.5 L818.4,252.8 L819.6,252.5 L820.8,252.3 L822.1,251.5 L823.3,251.0 L824.5,250.2 L825.7,249.9 L827.0,248.9 L828.2,248.4 L829.4,248.1 L830.7,247.6 L831.9,246.8 L833.1,246.0 L834.3,245.6 L835.6,245.0 L836.8,244.5 L838.0,244.3 L839.2,243.3 L840.5,243.0 L841.7,242.2 L842.9,240.8 L844.2,240.3 L845.4,239.6 L846.6,238.5 L847.8,238.0 L849.1,237.5 L850.3,236.2 L851.5,235.5 L852.8,234.2 L854.0,233.5 L855.2,232.8 L856.4,231.3 L857.7,230.2 L858.9,229.3 L860.1,228.6 L861.3,227.3 L862.6,226.2 L863.8,225.4 L865.0,224.6 L866.3,223.1 L867.5,222.0 L868.7,221.1 L869.9,219.6 L871.2,218.8 L872.4,217.4 L873.6,216.7 L874.9,216.0 L876.1,214.4 L877.3,213.8 L878.5,212.8 L879.8,211.5 L881.0,210.6 L882.2,210.1 L883.4,209.2 L884.7,207.8 L885.9,207.5 L887.1,206.9 L888.4,205.7 L889.6,205.2 L890.8,204.1 L892.0,203.6 L893.3,203.0 L894.5,202.2 L895.7,201.6 L897.0,200.4 L898.2,199.9 L899.4,199.5 L900.6,198.6 L901.9,197.7 L903.1,197.0 L904.3,196.6 L905.5,195.6 L906.8,194.4 L908.0,194.0 L909.2,192.9 L910.5,192.1 L911.7,191.1 L912.9,190.4 L914.1,189.4 L915.4,188.4 L916.6,187.9 L917.9,186.4 L919.2,185.8 L920.6,184.2 L921.9,183.6 L923.2,182.5 L924.6,181.5 L925.9,180.9 L927.2,179.9 L928.5,179.5 L929.9,178.5 L931.1,178.5 L932.4,179.1 L933.6,178.8 L934.9,179.0 L936.2,179.4 L937.4,179.2 L938.7,179.5 L939.9,179.2 L941.2,179.7 L942.4,179.3 L943.6,179.1 L944.8,179.8 L946.1,179.2 L947.3,179.7 L948.5,179.8 L949.7,179.5 L951.0,179.0 L952.2,179.0 L953.4,179.1 L954.7,179.1 L955.9,179.3 L957.1,179.5 L958.3,179.0 L959.6,178.8 L960.8,179.0 L962.0,178.7 L963.3,178.6 L964.5,178.9 L965.7,178.9 L966.9,178.4 L968.2,178.6 L969.4,178.8 L970.6,178.8 L971.8,178.5 L973.1,178.9 L974.3,178.4 L975.5,178.8 L976.8,178.9 L978.0,179.0 L979.2,178.8 L980.4,178.6 L981.7,178.6 L982.9,179.0 L984.1,178.8 L985.4,179.2 L986.6,178.8 L987.8,179.4 L989.0,179.0 L990.3,178.9 L991.5,179.1 L992.7,179.3 L993.9,179.5 L995.2,179.4 L996.4,179.3 L997.6,179.6 L998.9,180.0 L1000.1,179.8 L1001.3,180.2 L1002.5,179.6 L1003.8,180.4 L1005.0,180.4 L1006.2,180.2 L1007.4,180.3 L1008.7,180.5 L1009.9,180.9 L1011.1,180.4 L1012.4,180.9 L1013.6,181.0 L1014.8,180.9 L1016.0,181.3 L1017.3,181.5 L1018.5,181.2 L1019.7,181.7 L1021.0,181.6 L1022.2,181.8 L1023.4,182.0 L1024.6,181.7 L1025.9,182.2 L1027.1,182.2 L1028.3,182.7 L1029.5,182.4 L1030.8,182.9 L1032.0,182.9 L1033.2,183.0 L1034.5,183.3 L1035.7,182.8 L1036.9,183.3 L1038.1,183.5 L1039.4,183.7 L1040.6,183.7 L1041.8,183.7 L1043.1,184.0 L1044.3,184.5 L1045.5,184.4 L1046.7,184.5 L1048.0,184.9 L1049.2,185.1 L1050.4,185.4 L1051.6,185.2 L1052.9,185.9 L1054.1,185.7 L1055.3,186.2 L1056.6,185.9 L1057.8,186.7 L1059.0,186.6 L1060.2,186.7" fill="none" stroke="#000" stroke-width="2.4" stroke-linejoin="round" stroke-linecap="round"/>
<path d="M934.9,179.0 L936.2,179.4 L937.4,179.2 L938.7,179.5 L939.9,179.2 L941.2,179.7 L942.4,179.3 L943.6,179.1 L944.8,179.8 L946.1,179.2 L947.3,179.7 L948.5,179.8 L949.7,179.5 L951.0,179.0 L952.2,179.0 L953.4,179.1 L954.7,179.1 L955.9,179.3 L957.1,179.5 L958.3,179.0 L959.6,178.8 L960.8,179.0 L962.0,178.7 L963.3,178.6 L964.5,178.9 L965.7,178.9 L966.9,178.4 L968.2,178.6 L969.4,178.8 L970.6,178.8 L971.8,178.5 L973.1,178.9 L974.3,178.4 L975.5,178.8 L976.8,178.9 L978.0,179.0 L979.2,178.8 L980.4,178.6 L981.7,178.6 L982.9,179.0 L984.1,178.8 L985.4,179.2 L986.6,178.8 L987.8,179.4 L989.0,179.0 L990.3,178.9 L991.5,179.1 L992.7,179.3 L993.9,179.5 L995.2,179.4 L996.4,179.3 L997.6,179.6 L998.9,180.0 L1000.1,179.8 L1001.3,180.2 L1002.5,179.6 L1003.8,180.4 L1005.0,180.4 L1006.2,180.2 L1007.4,180.3 L1008.7,180.5 L1009.9,180.9 L1011.1,180.4 L1012.4,180.9 L1013.6,181.0 L1014.8,180.9 L1016.0,181.3 L1017.3,181.5 L1018.5,181.2 L1019.7,181.7 L1021.0,181.6 L1022.2,181.8 L1023.4,182.0 L1024.6,181.7 L1025.9,182.2 L1027.1,182.2 L1028.3,182.7 L1029.5,182.4 L1030.8,182.9 L1032.0,182.9 L1033.2,183.0 L1034.5,183.3 L1035.7,182.8 L1036.9,183.3 L1038.1,183.5 L1039.4,183.7 L1040.6,183.7 L1041.8,183.7 L1043.1,184.0 L1044.3,184.5 L1045.5,184.4 L1046.7,184.5 L1048.0,184.9 L1049.2,185.1 L1050.4,185.4 L1051.6,185.2 L1052.9,185.9 L1054.1,185.7 L1055.3,186.2 L1056.6,185.9 L1057.8,186.7 L1059.0,186.6 L1060.2,186.7" fill="none" stroke="#000" stroke-width="4.4" stroke-linejoin="round" stroke-linecap="butt"/>
<path d="M180.7,440.0 L180.7,430.1 L182.0,428.8 L183.5,427.6 L184.9,426.1 L186.6,428.4 L188.3,430.3 L189.7,434.2 L191.2,437.9 L192.7,442.3 L194.2,446.5 L195.6,450.9 L197.1,455.8 L198.6,460.3 L200.0,464.0 L201.5,469.0 L203.0,474.0 L204.5,479.0 L205.9,484.1 L207.4,490.2 L208.9,496.0 L210.4,502.0 L211.8,506.4 L213.3,510.5 L214.8,515.4 L216.3,517.7 L217.7,519.9 L219.2,521.9 L220.6,522.6 L222.0,523.7 L223.3,524.9 L224.7,526.5 L226.1,526.6 L227.5,527.2 L228.9,528.2 L230.2,528.3 L231.6,528.6 L233.0,528.6 L234.4,528.5 L235.8,528.9 L237.2,529.4 L238.5,529.3 L239.9,529.7 L241.3,530.1 L242.7,530.3 L244.1,531.0 L245.4,531.6 L246.8,531.9 L248.2,531.9 L249.6,532.3 L251.0,532.0 L252.3,532.5 L254.0,530.3 L255.7,528.5 L257.3,523.7 L259.0,519.8 L260.5,516.4 L261.9,513.5 L263.4,511.0 L264.8,510.0 L266.2,508.5 L267.5,507.4 L268.9,506.1 L270.3,505.6 L271.7,505.3 L273.1,504.4 L274.4,503.8 L275.7,503.9 L276.9,503.6 L278.1,503.8 L279.4,503.8 L280.6,503.6 L281.8,503.2 L283.0,503.0 L284.3,502.9 L285.5,502.4 L286.7,502.8 L288.0,502.5 L289.2,502.4 L290.4,502.1 L291.6,502.3 L292.9,502.3 L294.1,502.0 L295.3,502.3 L296.5,502.0 L297.8,501.5 L299.0,501.5 L300.2,501.6 L301.5,501.1 L302.7,501.0 L303.9,500.4 L305.1,500.5 L306.4,500.3 L307.6,500.1 L308.8,499.9 L310.1,499.9 L311.3,499.6 L312.5,499.4 L313.7,499.0 L315.0,499.1 L316.2,499.3 L317.4,498.7 L318.6,498.3 L319.9,498.1 L321.1,498.3 L322.3,497.8 L323.6,497.6 L324.8,497.5 L326.0,497.5 L327.2,497.7 L328.5,497.2 L329.7,497.0 L330.9,496.9 L332.2,496.8 L333.4,496.6 L334.6,496.6 L335.8,496.6 L337.1,496.3 L338.3,496.0 L339.5,496.0 L340.7,496.0 L342.0,495.4 L343.2,495.3 L344.4,495.4 L345.7,495.4 L346.9,495.2 L348.1,495.0 L349.3,495.1 L350.6,494.7 L351.8,494.8 L353.0,494.8 L354.3,494.3 L355.5,494.5 L356.7,494.3 L357.9,494.3 L359.2,493.6 L360.4,494.0 L361.6,493.8 L362.8,493.8 L364.1,493.7 L365.3,493.2 L366.5,493.3 L367.8,492.9 L369.0,493.1 L370.2,493.2 L371.4,492.6 L372.7,492.6 L373.9,492.3 L375.1,492.3 L376.4,492.3 L377.6,492.1 L378.8,492.7 L380.0,492.5 L381.3,492.2 L382.5,492.3 L383.7,492.2 L384.9,492.0 L386.2,491.9 L387.4,492.1 L388.6,492.0 L389.9,491.8 L391.1,491.9 L392.3,492.1 L393.5,492.1 L394.8,491.8 L396.0,492.0 L397.2,492.2 L398.4,492.2 L399.7,492.1 L400.9,491.7 L402.1,491.9 L403.4,491.7 L404.6,491.7 L405.8,491.8 L407.0,491.9 L408.3,492.2 L409.5,492.2 L410.7,492.0 L412.0,492.4 L413.2,492.3 L414.4,492.4 L415.6,492.3 L416.9,492.5 L418.1,492.5 L419.3,492.9 L420.5,492.8 L421.8,492.9 L423.0,493.0 L424.2,493.1 L425.5,493.3 L426.7,493.5 L427.9,493.6 L429.1,493.4 L430.4,493.8 L431.6,494.0 L432.8,494.1 L434.1,494.1 L435.3,493.7 L436.5,494.3 L437.7,494.4 L439.0,494.0 L440.2,494.3 L441.5,494.3 L442.8,494.7 L444.1,494.7 L445.3,494.5 L446.6,494.5 L447.9,494.8" fill="none" stroke="#ef7f7f" stroke-width="2.8" stroke-linejoin="round" stroke-linecap="round"/>
<path d="M197.1,454.0 L197.1,457.6 M195.5,454.0 L198.7,454.0 M195.5,457.6 L198.7,457.6 M200.0,462.3 L200.0,465.7 M198.4,462.3 L201.6,462.3 M198.4,465.7 L201.6,465.7 M203.0,471.4 L203.0,476.6 M201.4,471.4 L204.6,471.4 M201.4,476.6 L204.6,476.6 M205.9,481.3 L205.9,486.9 M204.3,481.3 L207.5,481.3 M204.3,486.9 L207.5,486.9 M208.9,494.1 L208.9,497.8 M207.3,494.1 L210.5,494.1 M207.3,497.8 L210.5,497.8 M211.8,503.9 L211.8,509.0 M210.2,503.9 L213.4,503.9 M210.2,509.0 L213.4,509.0 M214.8,512.6 L214.8,518.1 M213.2,512.6 L216.4,512.6 M213.2,518.1 L216.4,518.1 M217.7,518.1 L217.7,521.7 M216.1,518.1 L219.3,518.1 M216.1,521.7 L219.3,521.7 M220.6,520.3 L220.6,524.9 M219.0,520.3 L222.2,520.3 M219.0,524.9 L222.2,524.9 M223.3,522.7 L223.3,527.0 M221.7,522.7 L224.9,522.7 M221.7,527.0 L224.9,527.0 M226.1,523.8 L226.1,529.5 M224.5,523.8 L227.7,523.8 M224.5,529.5 L227.7,529.5 M228.9,525.5 L228.9,530.8 M227.3,525.5 L230.5,525.5 M227.3,530.8 L230.5,530.8 M231.6,527.0 L231.6,530.2 M230.0,527.0 L233.2,527.0 M230.0,530.2 L233.2,530.2 M234.4,526.6 L234.4,530.3 M232.8,526.6 L236.0,526.6 M232.8,530.3 L236.0,530.3 M237.2,526.8 L237.2,532.1 M235.6,526.8 L238.8,526.8 M235.6,532.1 L238.8,532.1 M239.9,527.4 L239.9,532.0 M238.3,527.4 L241.5,527.4 M238.3,532.0 L241.5,532.0 M242.7,528.0 L242.7,532.5 M241.1,528.0 L244.3,528.0 M241.1,532.5 L244.3,532.5 M245.4,529.0 L245.4,534.2 M243.8,529.0 L247.0,529.0 M243.8,534.2 L247.0,534.2 M248.2,529.4 L248.2,534.5 M246.6,529.4 L249.8,529.4 M246.6,534.5 L249.8,534.5 M251.0,529.2 L251.0,534.8 M249.4,529.2 L252.6,529.2 M249.4,534.8 L252.6,534.8 M254.0,528.3 L254.0,532.3 M252.4,528.3 L255.6,528.3 M252.4,532.3 L255.6,532.3 M257.3,522.1 L257.3,525.4 M255.7,522.1 L258.9,522.1 M255.7,525.4 L258.9,525.4 M260.5,513.9 L260.5,518.8 M258.9,513.9 L262.1,513.9 M258.9,518.8 L262.1,518.8 M263.4,509.3 L263.4,512.6 M261.8,509.3 L265.0,509.3 M261.8,512.6 L265.0,512.6 M266.2,506.2 L266.2,510.8 M264.6,506.2 L267.8,506.2 M264.6,510.8 L267.8,510.8" fill="none" stroke="#ef7f7f" stroke-width="0.9"/>
<path d="M180.7,457.7 L180.7,461.0 L181.6,464.3 L183.3,466.8 L184.9,469.5 L186.6,466.7 L188.3,464.3 L189.7,460.7 L191.2,456.7 L192.7,453.3 L194.2,448.2 L195.6,443.2 L197.1,437.5 L198.6,431.8 L200.0,425.7 L201.5,420.4 L203.0,414.4 L204.5,408.0 L205.9,402.8 L207.4,398.4 L208.9,393.7 L210.4,389.3 L211.8,385.6 L213.3,382.2 L214.8,379.3 L216.3,377.0 L217.7,375.1 L219.2,373.1 L220.6,371.7 L222.0,370.7 L223.3,369.4 L224.7,368.4 L226.1,367.7 L227.5,367.2 L228.9,366.5 L230.2,366.1 L231.6,366.0 L233.0,365.8 L234.4,366.3 L235.8,366.3 L237.2,366.0 L238.5,365.6 L239.9,365.0 L241.3,364.7 L242.7,364.5 L244.1,364.0 L245.4,364.2 L246.8,363.7 L248.3,363.5 L249.8,362.7 L251.2,362.6 L252.9,364.4 L254.6,365.6 L256.0,368.4 L257.5,371.4 L259.0,373.7 L260.5,376.6 L261.9,378.8 L263.4,381.2 L264.8,383.0 L266.2,384.6 L267.5,385.8 L268.9,387.1 L270.3,388.0 L271.7,389.2 L273.1,389.8 L274.4,390.0 L275.7,390.2 L276.9,390.3 L278.1,390.4 L279.4,391.0 L280.6,390.7 L281.8,391.1 L283.0,391.1 L284.3,391.1 L285.5,391.6 L286.7,391.3 L288.0,391.8 L289.2,391.5 L290.4,391.8 L291.6,391.8 L292.9,392.0 L294.1,392.6 L295.3,392.6 L296.5,392.4 L297.8,393.0 L299.0,392.8 L300.2,393.2 L301.5,393.7 L302.7,393.8 L303.9,393.7 L305.1,394.6 L306.4,394.3 L307.6,394.6 L308.8,395.1 L310.1,395.0 L311.3,395.2 L312.5,395.2 L313.7,395.4 L315.0,396.0 L316.2,395.9 L317.4,396.4 L318.6,396.4 L319.9,396.6 L321.1,397.2 L322.3,397.0 L323.6,397.2 L324.8,397.6 L326.0,397.3 L327.2,397.5 L328.5,398.2 L329.7,398.3 L330.9,398.0 L332.2,398.1 L333.4,398.6 L334.6,398.8 L335.8,398.4 L337.1,399.1 L338.3,399.2 L339.5,399.1 L340.7,399.1 L342.0,399.0 L343.2,399.1 L344.4,399.8 L345.7,399.5 L346.9,399.9 L348.1,399.7 L349.3,400.2 L350.6,400.2 L351.8,400.1 L353.0,400.1 L354.3,400.6 L355.5,400.3 L356.7,400.5 L357.9,400.9 L359.2,401.2 L360.4,401.2 L361.6,401.1 L362.8,401.6 L364.1,401.3 L365.3,401.3 L366.5,401.6 L367.8,401.8 L369.0,401.7 L370.2,401.9 L371.4,402.1 L372.7,402.4 L373.9,402.2 L375.1,402.4 L376.4,402.9 L377.6,403.0 L378.8,402.9 L380.0,403.0 L381.3,403.0 L382.5,402.7 L383.7,402.7 L384.9,402.8 L386.2,403.4 L387.4,403.3 L388.6,403.4 L389.9,402.8 L391.1,403.2 L392.3,403.1 L393.5,403.3 L394.8,403.0 L396.0,403.5 L397.2,402.8 L398.4,403.1 L399.7,403.2 L400.9,403.3 L402.1,403.2 L403.4,403.1 L404.6,403.2 L405.8,403.2 L407.0,402.8 L408.3,402.9 L409.5,403.0 L410.7,402.9 L412.0,402.4 L413.2,402.6 L414.4,402.6 L415.6,402.3 L416.9,402.2 L418.1,401.9 L419.3,402.0 L420.5,401.9 L421.8,401.5 L423.0,401.8 L424.2,402.0 L425.5,401.8 L426.7,401.7 L427.9,401.3 L429.1,401.5 L430.4,401.3 L431.6,401.2 L432.8,401.4 L434.1,400.8 L435.3,401.2 L436.5,400.6 L437.7,400.9 L439.0,400.8 L440.2,400.5 L441.5,400.8 L442.8,400.5 L444.1,400.5 L445.3,400.7 L446.6,400.2 L447.9,400.2" fill="none" stroke="#0f7d7d" stroke-width="2.8" stroke-linejoin="round" stroke-linecap="round"/>
<path d="M195.6,441.6 L195.6,444.8 M194.0,441.6 L197.2,441.6 M194.0,444.8 L197.2,444.8 M198.6,429.8 L198.6,433.7 M197.0,429.8 L200.2,429.8 M197.0,433.7 L200.2,433.7 M201.5,417.9 L201.5,422.8 M199.9,417.9 L203.1,417.9 M199.9,422.8 L203.1,422.8 M204.5,406.2 L204.5,409.9 M202.9,406.2 L206.1,406.2 M202.9,409.9 L206.1,409.9 M207.4,396.6 L207.4,400.1 M205.8,396.6 L209.0,396.6 M205.8,400.1 L209.0,400.1 M210.4,386.5 L210.4,392.0 M208.8,386.5 L212.0,386.5 M208.8,392.0 L212.0,392.0 M213.3,379.8 L213.3,384.6 M211.7,379.8 L214.9,379.8 M211.7,384.6 L214.9,384.6 M216.3,374.8 L216.3,379.1 M214.7,374.8 L217.9,374.8 M214.7,379.1 L217.9,379.1 M219.2,370.4 L219.2,375.8 M217.6,370.4 L220.8,370.4 M217.6,375.8 L220.8,375.8 M222.0,368.7 L222.0,372.7 M220.4,368.7 L223.6,368.7 M220.4,372.7 L223.6,372.7 M224.7,366.0 L224.7,370.9 M223.1,366.0 L226.3,366.0 M223.1,370.9 L226.3,370.9 M227.5,365.4 L227.5,369.0 M225.9,365.4 L229.1,365.4 M225.9,369.0 L229.1,369.0 M230.2,364.0 L230.2,368.2 M228.6,364.0 L231.8,364.0 M228.6,368.2 L231.8,368.2 M233.0,363.2 L233.0,368.4 M231.4,363.2 L234.6,363.2 M231.4,368.4 L234.6,368.4 M235.8,363.6 L235.8,369.1 M234.2,363.6 L237.4,363.6 M234.2,369.1 L237.4,369.1 M238.5,362.9 L238.5,368.3 M236.9,362.9 L240.1,362.9 M236.9,368.3 L240.1,368.3 M241.3,362.6 L241.3,366.8 M239.7,362.6 L242.9,362.6 M239.7,366.8 L242.9,366.8 M244.1,361.7 L244.1,366.4 M242.5,361.7 L245.7,361.7 M242.5,366.4 L245.7,366.4 M246.8,361.7 L246.8,365.7 M245.2,361.7 L248.4,361.7 M245.2,365.7 L248.4,365.7 M249.8,360.9 L249.8,364.4 M248.2,360.9 L251.4,360.9 M248.2,364.4 L251.4,364.4 M252.9,362.2 L252.9,366.6 M251.3,362.2 L254.5,362.2 M251.3,366.6 L254.5,366.6 M256.0,365.7 L256.0,371.0 M254.4,365.7 L257.6,365.7 M254.4,371.0 L257.6,371.0 M259.0,371.0 L259.0,376.4 M257.4,371.0 L260.6,371.0 M257.4,376.4 L260.6,376.4 M261.9,376.3 L261.9,381.3 M260.3,376.3 L263.5,376.3 M260.3,381.3 L263.5,381.3 M264.8,380.3 L264.8,385.8 M263.2,380.3 L266.4,380.3 M263.2,385.8 L266.4,385.8 M267.5,383.9 L267.5,387.7 M265.9,383.9 L269.1,383.9 M265.9,387.7 L269.1,387.7" fill="none" stroke="#0f7d7d" stroke-width="0.9"/>
<path d="M180.7,515.2 L180.7,515.3 L182.0,515.4 L183.5,515.5 L184.9,515.6 L186.3,515.1 L187.7,514.4 L189.1,513.4 L190.5,512.6 L191.8,511.5 L193.1,510.1 L194.4,509.2 L195.8,507.8 L197.1,506.4 L198.5,504.2 L199.9,502.0 L201.2,499.4 L202.6,497.4 L204.0,493.4 L205.4,490.0 L206.8,485.6 L208.1,482.2 L209.5,477.6 L210.9,473.9 L212.3,469.5 L213.7,465.4 L215.1,461.5 L216.4,456.8 L217.8,452.7 L219.2,449.2 L220.6,445.8 L222.0,442.5 L223.3,440.1 L224.7,437.0 L226.1,434.0 L227.5,431.7 L228.9,429.0 L230.2,426.6 L231.6,424.6 L233.0,422.1 L234.4,420.3 L235.8,417.6 L237.2,415.8 L238.5,414.3 L239.9,412.1 L241.3,410.1 L242.7,408.6 L244.1,406.9 L245.4,405.1 L246.8,403.2 L248.2,402.3 L249.6,401.1 L251.0,399.8 L252.3,398.2 L253.7,398.5 L255.1,399.0 L256.5,399.8 L257.9,400.4 L259.3,400.4 L260.6,400.9 L262.0,401.5 L263.4,402.0 L264.6,402.4 L265.9,402.4 L267.1,402.2 L268.3,402.9 L269.5,402.8 L270.8,403.1 L272.0,403.0 L273.2,403.3 L274.4,403.5 L275.7,403.8 L276.9,403.4 L278.1,403.8 L279.4,403.6 L280.6,404.1 L281.8,403.7 L283.0,403.9 L284.3,404.0 L285.5,404.3 L286.7,404.0 L288.0,404.3 L289.2,404.2 L290.4,404.3 L291.6,404.5 L292.9,404.8 L294.1,404.6 L295.3,404.9 L296.5,404.4 L297.8,405.0 L299.0,404.6 L300.2,404.5 L301.5,404.8 L302.7,405.0 L303.9,404.3 L305.1,404.5 L306.4,404.9 L307.6,404.6 L308.8,404.5 L310.1,404.3 L311.3,404.3 L312.5,404.8 L313.7,405.0 L315.0,405.0 L316.2,404.7 L317.4,404.3 L318.6,404.5 L319.9,404.9 L321.1,404.9 L322.3,404.8 L323.6,404.5 L324.8,404.7 L326.0,404.7 L327.2,404.8 L328.5,404.5 L329.7,405.0 L330.9,404.9 L332.2,404.4 L333.4,404.5 L334.6,404.9 L335.8,404.5 L337.1,405.0 L338.3,404.7 L339.5,404.8 L340.7,404.8 L342.0,404.5 L343.2,404.6 L344.4,404.6 L345.7,405.0 L346.9,405.0 L348.1,404.7 L349.3,405.3 L350.6,405.0 L351.8,404.9 L353.0,405.1 L354.3,405.5 L355.5,405.3 L356.7,405.4 L357.9,405.7 L359.2,405.7 L360.4,405.6 L361.6,405.4 L362.8,405.6 L364.1,405.9 L365.3,405.9 L366.5,405.8 L367.8,405.6 L369.0,405.7 L370.2,406.0 L371.4,405.9 L372.7,405.6 L373.9,406.1 L375.1,406.3 L376.4,406.3 L377.6,406.4 L378.8,406.5 L380.0,406.3 L381.3,406.5 L382.5,406.3 L383.7,406.1 L384.9,406.3 L386.2,406.4 L387.4,406.8 L388.6,406.7 L389.9,406.7 L391.1,406.8 L392.3,406.5 L393.5,406.8 L394.8,407.0 L396.0,406.8 L397.2,406.8 L398.4,407.0 L399.7,407.0 L400.9,407.4 L402.1,407.1 L403.4,407.2 L404.6,407.4 L405.8,407.8 L407.0,407.9 L408.3,408.0 L409.5,408.3 L410.7,408.0 L412.0,407.8 L413.2,408.2 L414.4,408.3 L415.6,408.2 L416.9,408.7 L418.1,408.5 L419.3,408.6 L420.5,408.7 L421.8,409.3 L423.0,408.7 L424.2,409.0 L425.5,409.1 L426.7,409.1 L427.9,409.4 L429.1,409.3 L430.4,409.9 L431.6,409.7 L432.8,410.0 L434.1,409.7 L435.3,410.0 L436.5,410.2 L437.7,410.5 L439.0,410.1 L440.2,410.4 L441.5,410.8 L442.8,410.9 L444.1,410.7 L445.3,411.0 L446.6,411.3 L447.9,411.3" fill="none" stroke="#000" stroke-width="2.4" stroke-linejoin="round" stroke-linecap="round"/>
<path d="M208.1,480.6 L208.1,483.8 M206.5,480.6 L209.7,480.6 M206.5,483.8 L209.7,483.8 M210.9,472.0 L210.9,475.7 M209.3,472.0 L212.5,472.0 M209.3,475.7 L212.5,475.7 M213.7,463.5 L213.7,467.2 M212.1,463.5 L215.3,463.5 M212.1,467.2 L215.3,467.2 M216.4,454.6 L216.4,459.0 M214.8,454.6 L218.0,454.6 M214.8,459.0 L218.0,459.0 M219.2,447.4 L219.2,450.9 M217.6,447.4 L220.8,447.4 M217.6,450.9 L220.8,450.9 M222.0,440.6 L222.0,444.4 M220.4,440.6 L223.6,440.6 M220.4,444.4 L223.6,444.4 M224.7,435.5 L224.7,438.6 M223.1,435.5 L226.3,435.5 M223.1,438.6 L226.3,438.6 M227.5,429.8 L227.5,433.6 M225.9,429.8 L229.1,429.8 M225.9,433.6 L229.1,433.6 M230.2,425.1 L230.2,428.2 M228.6,425.1 L231.8,425.1 M228.6,428.2 L231.8,428.2 M233.0,420.4 L233.0,423.8 M231.4,420.4 L234.6,420.4 M231.4,423.8 L234.6,423.8 M235.8,416.1 L235.8,419.2 M234.2,416.1 L237.4,416.1 M234.2,419.2 L237.4,419.2 M238.5,412.8 L238.5,415.8 M236.9,412.8 L240.1,412.8 M236.9,415.8 L240.1,415.8 M241.3,408.8 L241.3,411.5 M239.7,408.8 L242.9,408.8 M239.7,411.5 L242.9,411.5 M244.1,405.4 L244.1,408.3 M242.5,405.4 L245.7,405.4 M242.5,408.3 L245.7,408.3 M246.8,401.5 L246.8,405.0 M245.2,401.5 L248.4,401.5 M245.2,405.0 L248.4,405.0 M249.6,399.7 L249.6,402.6 M248.0,399.7 L251.2,399.7 M248.0,402.6 L251.2,402.6 M252.3,396.9 L252.3,399.4 M250.7,396.9 L253.9,396.9 M250.7,399.4 L253.9,399.4" fill="none" stroke="#000" stroke-width="0.9"/>
<path d="M484.5,382.6 L484.5,382.5 L485.3,382.4 L486.6,382.3 L487.8,382.2 L489.0,382.0 L490.4,382.6 L491.8,383.0 L493.2,383.5 L494.6,383.5 L496.0,384.9 L497.3,386.2 L498.7,387.6 L500.1,389.4 L501.5,391.1 L502.9,393.6 L504.2,395.6 L505.6,397.9 L507.0,400.8 L508.4,403.8 L509.8,406.4 L511.1,408.7 L512.5,412.2 L513.9,415.5 L515.3,419.3 L516.7,422.6 L518.1,426.4 L519.4,430.3 L520.8,434.1 L522.2,438.1 L523.6,442.4 L525.0,446.5 L526.3,451.3 L527.7,455.5 L529.1,460.1 L530.5,464.4 L531.9,468.7 L533.2,473.1 L534.6,476.4 L536.0,479.7 L537.4,482.9 L538.8,486.7 L540.2,489.4 L541.5,492.3 L542.9,494.9 L544.3,497.5 L545.7,499.3 L547.1,500.5 L548.4,502.6 L549.8,504.1 L551.2,505.5 L552.6,507.2 L554.0,509.1 L555.3,510.6 L556.7,512.1 L558.1,513.6 L559.5,514.8 L560.9,516.0 L562.3,517.4 L563.6,518.3 L565.0,519.4 L566.4,520.5 L568.1,517.8 L569.7,514.9 L571.4,507.5 L573.0,500.0 L574.5,495.2 L576.0,491.0 L577.4,486.7 L578.8,483.9 L580.2,481.8 L581.6,480.0 L583.0,477.8 L584.4,476.8 L585.7,475.5 L587.1,474.7 L588.5,474.1 L589.7,473.9 L591.0,473.7 L592.2,473.0 L593.4,473.3 L594.6,472.8 L595.9,472.8 L597.1,472.2 L598.3,472.6 L599.5,472.1 L600.8,472.2 L602.0,471.8 L603.2,472.0 L604.5,471.9 L605.7,471.9 L606.9,471.7 L608.1,471.9 L609.4,471.6 L610.6,471.5 L611.8,471.3 L613.1,471.6 L614.3,471.1 L615.5,471.1 L616.7,471.0 L618.0,471.3 L619.2,471.2 L620.4,471.1 L621.6,470.6 L622.9,471.0 L624.1,471.0 L625.3,470.8 L626.6,470.8 L627.8,471.6 L629.0,471.0 L630.2,471.2 L631.5,471.2 L632.7,471.5 L633.9,471.1 L635.2,471.4 L636.4,471.3 L637.6,471.6 L638.8,471.1 L640.1,471.3 L641.3,471.4 L642.5,471.7 L643.7,471.4 L645.0,471.3 L646.2,471.4 L647.4,471.1 L648.7,470.9 L649.9,471.2 L651.1,471.4 L652.3,471.2 L653.6,470.8 L654.8,471.1 L656.0,471.2 L657.3,470.7 L658.5,470.9 L659.7,470.7 L660.9,470.5 L662.2,470.5 L663.4,470.4 L664.6,470.5 L665.8,470.2 L667.1,470.4 L668.3,470.1 L669.5,470.6 L670.8,470.4 L672.0,469.9 L673.2,470.4 L674.4,470.0 L675.7,470.1 L676.9,470.1 L678.1,469.9 L679.4,469.7 L680.6,469.7 L681.8,469.4 L683.0,469.8 L684.3,469.2 L685.5,469.6 L686.7,469.1 L687.9,469.1 L689.2,468.9 L690.4,468.5 L691.6,468.4 L692.9,468.4 L694.1,468.3 L695.3,468.4 L696.5,468.3 L697.8,467.5 L699.0,467.7 L700.2,467.0 L701.4,467.1 L702.7,466.4 L703.9,466.5 L705.1,465.8 L706.4,465.2 L707.6,464.7 L708.8,464.5 L710.0,464.6 L711.3,464.0 L712.5,464.1 L713.7,463.9 L715.0,463.7 L716.2,463.9 L717.4,463.4 L718.6,463.6 L719.9,463.5 L721.1,463.5 L722.3,463.2 L723.5,463.5 L724.8,463.2 L726.0,463.3 L727.2,463.3 L728.5,463.5 L729.7,463.5 L730.9,463.0 L732.1,463.0 L733.4,463.5 L734.6,463.9 L735.8,464.0 L737.1,464.1 L738.3,464.8 L739.5,464.6 L740.7,464.7 L742.0,464.9 L743.2,465.1 L744.4,466.2 L745.7,466.3 L746.9,467.3 L748.2,467.9 L749.4,468.6 L750.7,469.0 L751.9,469.3 L753.1,469.9" fill="none" stroke="#ef7f7f" stroke-width="2.8" stroke-linejoin="round" stroke-linecap="round"/>
<path d="M533.2,470.7 L533.2,475.5 M531.6,470.7 L534.8,470.7 M531.6,475.5 L534.8,475.5 M536.0,477.0 L536.0,482.3 M534.4,477.0 L537.6,477.0 M534.4,482.3 L537.6,482.3 M538.8,484.2 L538.8,489.2 M537.2,484.2 L540.4,484.2 M537.2,489.2 L540.4,489.2 M541.5,490.4 L541.5,494.2 M539.9,490.4 L543.1,490.4 M539.9,494.2 L543.1,494.2 M544.3,495.0 L544.3,500.1 M542.7,495.0 L545.9,495.0 M542.7,500.1 L545.9,500.1 M547.1,498.8 L547.1,502.2 M545.5,498.8 L548.7,498.8 M545.5,502.2 L548.7,502.2 M549.8,502.1 L549.8,506.0 M548.2,502.1 L551.4,502.1 M548.2,506.0 L551.4,506.0 M552.6,504.4 L552.6,510.1 M551.0,504.4 L554.2,504.4 M551.0,510.1 L554.2,510.1 M555.3,508.4 L555.3,512.7 M553.7,508.4 L556.9,508.4 M553.7,512.7 L556.9,512.7 M558.1,511.7 L558.1,515.5 M556.5,511.7 L559.7,511.7 M556.5,515.5 L559.7,515.5 M560.9,513.4 L560.9,518.6 M559.3,513.4 L562.5,513.4 M559.3,518.6 L562.5,518.6 M563.6,516.2 L563.6,520.4 M562.0,516.2 L565.2,516.2 M562.0,520.4 L565.2,520.4 M566.4,518.9 L566.4,522.0 M564.8,518.9 L568.0,518.9 M564.8,522.0 L568.0,522.0 M569.7,513.3 L569.7,516.5 M568.1,513.3 L571.3,513.3 M568.1,516.5 L571.3,516.5 M573.0,498.1 L573.0,501.9 M571.4,498.1 L574.6,498.1 M571.4,501.9 L574.6,501.9 M576.0,489.0 L576.0,493.0 M574.4,489.0 L577.6,489.0 M574.4,493.0 L577.6,493.0 M578.8,481.1 L578.8,486.7 M577.2,481.1 L580.4,481.1 M577.2,486.7 L580.4,486.7 M581.6,478.1 L581.6,481.9 M580.0,478.1 L583.2,478.1 M580.0,481.9 L583.2,481.9" fill="none" stroke="#ef7f7f" stroke-width="0.9"/>
<path d="M583.0,477.8 L584.4,476.8 L585.7,475.5 L587.1,474.7 L588.5,474.1 L589.7,473.9 L591.0,473.7 L592.2,473.0 L593.4,473.3 L594.6,472.8 L595.9,472.8 L597.1,472.2 L598.3,472.6 L599.5,472.1 L600.8,472.2 L602.0,471.8 L603.2,472.0 L604.5,471.9 L605.7,471.9 L606.9,471.7 L608.1,471.9 L609.4,471.6 L610.6,471.5 L611.8,471.3 L613.1,471.6 L614.3,471.1 L615.5,471.1 L616.7,471.0 L618.0,471.3 L619.2,471.2 L620.4,471.1 L621.6,470.6 L622.9,471.0 L624.1,471.0 L625.3,470.8 L626.6,470.8 L627.8,471.6 L629.0,471.0 L630.2,471.2 L631.5,471.2 L632.7,471.5 L633.9,471.1 L635.2,471.4 L636.4,471.3 L637.6,471.6 L638.8,471.1 L640.1,471.3 L641.3,471.4 L642.5,471.7 L643.7,471.4 L645.0,471.3 L646.2,471.4 L647.4,471.1 L648.7,470.9 L649.9,471.2 L651.1,471.4 L652.3,471.2 L653.6,470.8 L654.8,471.1 L656.0,471.2 L657.3,470.7 L658.5,470.9 L659.7,470.7 L660.9,470.5 L662.2,470.5 L663.4,470.4 L664.6,470.5 L665.8,470.2 L667.1,470.4 L668.3,470.1 L669.5,470.6 L670.8,470.4 L672.0,469.9 L673.2,470.4 L674.4,470.0 L675.7,470.1 L676.9,470.1 L678.1,469.9 L679.4,469.7 L680.6,469.7 L681.8,469.4 L683.0,469.8 L684.3,469.2 L685.5,469.6 L686.7,469.1 L687.9,469.1 L689.2,468.9 L690.4,468.5 L691.6,468.4 L692.9,468.4 L694.1,468.3 L695.3,468.4 L696.5,468.3 L697.8,467.5 L699.0,467.7" fill="none" stroke="#ef7f7f" stroke-width="6.3" stroke-opacity="0.7" stroke-linejoin="round" stroke-linecap="butt"/>
<path d="M583.0,475.4 L584.4,474.4 L585.7,473.1 L587.1,472.3 L588.5,471.7 L589.7,471.5 L591.0,471.3 L592.2,470.6 L593.4,470.9 L594.6,470.4 L595.9,470.4 L597.1,469.8 L598.3,470.2 L599.5,469.7 L600.8,469.8 L602.0,469.4 L603.2,469.6 L604.5,469.5 L605.7,469.5 L606.9,469.3 L608.1,469.5 L609.4,469.2 L610.6,469.1 L611.8,468.9 L613.1,469.2 L614.3,468.7 L615.5,468.7 L616.7,468.6 L618.0,468.9 L619.2,468.8 L620.4,468.7 L621.6,468.2 L622.9,468.6 L624.1,468.6 L625.3,468.4 L626.6,468.4 L627.8,469.2 L629.0,468.6 L630.2,468.8 L631.5,468.8 L632.7,469.1 L633.9,468.7 L635.2,469.0 L636.4,468.9 L637.6,469.2 L638.8,468.7 L640.1,468.9 L641.3,469.0 L642.5,469.3 L643.7,469.0 L645.0,468.9 L646.2,469.0 L647.4,468.7 L648.7,468.5 L649.9,468.8 L651.1,469.0 L652.3,468.8 L653.6,468.4 L654.8,468.7 L656.0,468.8 L657.3,468.3 L658.5,468.5 L659.7,468.3 L660.9,468.1 L662.2,468.1 L663.4,468.0 L664.6,468.1 L665.8,467.8 L667.1,468.0 L668.3,467.7 L669.5,468.2 L670.8,468.0 L672.0,467.5 L673.2,468.0 L674.4,467.6 L675.7,467.7 L676.9,467.7 L678.1,467.5 L679.4,467.3 L680.6,467.3 L681.8,467.0 L683.0,467.4 L684.3,466.8 L685.5,467.2 L686.7,466.7 L687.9,466.7 L689.2,466.5 L690.4,466.1 L691.6,466.0 L692.9,466.0 L694.1,465.9 L695.3,466.0 L696.5,465.9 L697.8,465.1 L699.0,465.3 M583.0,480.2 L584.4,479.2 L585.7,477.9 L587.1,477.1 L588.5,476.5 L589.7,476.3 L591.0,476.1 L592.2,475.4 L593.4,475.7 L594.6,475.2 L595.9,475.2 L597.1,474.6 L598.3,475.0 L599.5,474.5 L600.8,474.6 L602.0,474.2 L603.2,474.4 L604.5,474.3 L605.7,474.3 L606.9,474.1 L608.1,474.3 L609.4,474.0 L610.6,473.9 L611.8,473.7 L613.1,474.0 L614.3,473.5 L615.5,473.5 L616.7,473.4 L618.0,473.7 L619.2,473.6 L620.4,473.5 L621.6,473.0 L622.9,473.4 L624.1,473.4 L625.3,473.2 L626.6,473.2 L627.8,474.0 L629.0,473.4 L630.2,473.6 L631.5,473.6 L632.7,473.9 L633.9,473.5 L635.2,473.8 L636.4,473.7 L637.6,474.0 L638.8,473.5 L640.1,473.7 L641.3,473.8 L642.5,474.1 L643.7,473.8 L645.0,473.7 L646.2,473.8 L647.4,473.5 L648.7,473.3 L649.9,473.6 L651.1,473.8 L652.3,473.6 L653.6,473.2 L654.8,473.5 L656.0,473.6 L657.3,473.1 L658.5,473.3 L659.7,473.1 L660.9,472.9 L662.2,472.9 L663.4,472.8 L664.6,472.9 L665.8,472.6 L667.1,472.8 L668.3,472.5 L669.5,473.0 L670.8,472.8 L672.0,472.3 L673.2,472.8 L674.4,472.4 L675.7,472.5 L676.9,472.5 L678.1,472.3 L679.4,472.1 L680.6,472.1 L681.8,471.8 L683.0,472.2 L684.3,471.6 L685.5,472.0 L686.7,471.5 L687.9,471.5 L689.2,471.3 L690.4,470.9 L691.6,470.8 L692.9,470.8 L694.1,470.7 L695.3,470.8 L696.5,470.7 L697.8,469.9 L699.0,470.1" fill="none" stroke="#ef7f7f" stroke-width="1.1" stroke-opacity="0.85"/>
<path d="M699.0,467.7 L700.2,467.0 L701.4,467.1 L702.7,466.4 L703.9,466.5 L705.1,465.8 L706.4,465.2 L707.6,464.7 L708.8,464.5 L710.0,464.6 L711.3,464.0 L712.5,464.1 L713.7,463.9 L715.0,463.7 L716.2,463.9 L717.4,463.4 L718.6,463.6 L719.9,463.5 L721.1,463.5 L722.3,463.2 L723.5,463.5 L724.8,463.2 L726.0,463.3 L727.2,463.3 L728.5,463.5 L729.7,463.5 L730.9,463.0 L732.1,463.0 L733.4,463.5 L734.6,463.9 L735.8,464.0 L737.1,464.1 L738.3,464.8 L739.5,464.6 L740.7,464.7 L742.0,464.9 L743.2,465.1 L744.4,466.2 L745.7,466.3 L746.9,467.3 L748.2,467.9 L749.4,468.6 L750.7,469.0 L751.9,469.3 L753.1,469.9" fill="none" stroke="#ef7f7f" stroke-width="10.7" stroke-opacity="0.7" stroke-linejoin="round" stroke-linecap="butt"/>
<path d="M699.0,463.1 L700.2,462.4 L701.4,462.5 L702.7,461.8 L703.9,461.9 L705.1,461.2 L706.4,460.6 L707.6,460.1 L708.8,459.9 L710.0,460.0 L711.3,459.4 L712.5,459.5 L713.7,459.3 L715.0,459.1 L716.2,459.3 L717.4,458.8 L718.6,459.0 L719.9,458.9 L721.1,458.9 L722.3,458.6 L723.5,458.9 L724.8,458.6 L726.0,458.7 L727.2,458.7 L728.5,458.9 L729.7,458.9 L730.9,458.4 L732.1,458.4 L733.4,458.9 L734.6,459.3 L735.8,459.4 L737.1,459.5 L738.3,460.2 L739.5,460.0 L740.7,460.1 L742.0,460.3 L743.2,460.5 L744.4,461.6 L745.7,461.7 L746.9,462.7 L748.2,463.3 L749.4,464.0 L750.7,464.4 L751.9,464.7 L753.1,465.3 M699.0,472.3 L700.2,471.6 L701.4,471.7 L702.7,471.0 L703.9,471.1 L705.1,470.4 L706.4,469.8 L707.6,469.3 L708.8,469.1 L710.0,469.2 L711.3,468.6 L712.5,468.7 L713.7,468.5 L715.0,468.3 L716.2,468.5 L717.4,468.0 L718.6,468.2 L719.9,468.1 L721.1,468.1 L722.3,467.8 L723.5,468.1 L724.8,467.8 L726.0,467.9 L727.2,467.9 L728.5,468.1 L729.7,468.1 L730.9,467.6 L732.1,467.6 L733.4,468.1 L734.6,468.5 L735.8,468.6 L737.1,468.7 L738.3,469.4 L739.5,469.2 L740.7,469.3 L742.0,469.5 L743.2,469.7 L744.4,470.8 L745.7,470.9 L746.9,471.9 L748.2,472.5 L749.4,473.2 L750.7,473.6 L751.9,473.9 L753.1,474.5" fill="none" stroke="#ef7f7f" stroke-width="1.1" stroke-opacity="0.85"/>
<path d="M484.5,510.3 L484.5,510.2 L485.7,510.1 L487.1,510.0 L488.5,509.9 L489.9,509.8 L491.3,509.4 L492.5,508.7 L493.8,507.5 L495.0,506.6 L496.3,505.1 L497.6,503.9 L498.8,503.2 L500.1,502.0 L501.5,500.1 L502.9,498.7 L504.2,496.9 L505.6,495.5 L507.0,492.8 L508.4,490.7 L509.8,488.9 L511.1,486.3 L512.5,483.0 L513.9,480.0 L515.3,476.6 L516.7,472.9 L518.1,468.8 L519.4,464.5 L520.8,459.7 L522.2,455.6 L523.6,450.3 L525.0,445.4 L526.3,440.3 L527.7,435.4 L529.1,431.0 L530.5,425.6 L531.9,421.0 L533.2,415.7 L534.6,412.5 L536.0,409.3 L537.4,405.9 L538.8,402.2 L540.2,400.0 L541.5,397.6 L542.9,394.8 L544.3,392.2 L545.7,391.4 L547.1,389.8 L548.4,388.2 L549.8,387.0 L551.2,385.1 L552.6,383.9 L554.0,382.0 L555.3,380.1 L556.7,379.5 L558.1,377.9 L559.5,376.9 L560.9,375.6 L562.2,375.4 L563.5,374.3 L564.9,374.0 L566.2,373.0 L567.5,372.6 L569.2,376.6 L570.8,380.4 L572.3,384.7 L573.8,389.2 L575.2,393.6 L576.7,398.1 L578.2,402.2 L579.7,406.9 L581.1,409.3 L582.6,412.3 L584.1,414.9 L585.6,415.4 L587.0,416.6 L588.5,418.1 L589.7,418.2 L591.0,418.1 L592.2,418.8 L593.4,419.2 L594.6,419.1 L595.9,419.3 L597.1,419.7 L598.3,420.2 L599.5,420.0 L600.8,420.1 L602.0,420.2 L603.2,420.6 L604.5,420.6 L605.7,420.6 L606.9,420.8 L608.1,420.7 L609.4,421.0 L610.6,421.6 L611.8,421.4 L613.1,421.2 L614.3,421.8 L615.5,421.4 L616.7,421.4 L618.0,421.4 L619.2,421.5 L620.4,421.6 L621.6,421.7 L622.9,422.1 L624.1,421.7 L625.3,421.7 L626.6,421.9 L627.8,422.1 L629.0,421.6 L630.2,421.9 L631.5,421.6 L632.7,421.7 L633.9,421.8 L635.2,422.0 L636.4,421.9 L637.6,421.8 L638.8,422.0 L640.1,421.7 L641.3,421.8 L642.5,422.2 L643.7,421.9 L645.0,422.1 L646.2,421.9 L647.4,422.3 L648.7,422.2 L649.9,422.0 L651.1,422.5 L652.3,422.2 L653.6,422.2 L654.8,422.2 L656.0,422.1 L657.3,422.1 L658.5,422.5 L659.7,422.1 L660.9,422.2 L662.2,422.3 L663.4,422.4 L664.6,422.3 L665.8,422.5 L667.1,422.2 L668.3,422.4 L669.5,422.4 L670.8,422.3 L672.0,422.4 L673.2,422.4 L674.4,422.8 L675.7,422.5 L676.9,422.9 L678.1,422.7 L679.4,423.0 L680.6,423.1 L681.8,423.0 L683.0,423.5 L684.3,423.3 L685.5,423.3 L686.7,423.1 L687.9,423.4 L689.2,423.5 L690.4,423.8 L691.6,424.3 L692.9,424.4 L694.1,424.0 L695.3,424.6 L696.5,425.0 L697.8,424.9 L699.0,424.7 L700.2,425.7 L701.4,425.8 L702.7,426.7 L703.9,427.0 L705.1,427.4 L706.4,428.0 L707.6,427.8 L708.8,428.7 L710.0,428.8 L711.3,429.0 L712.5,429.4 L713.7,429.8 L715.0,429.6 L716.2,430.2 L717.4,430.7 L718.6,430.7 L719.9,431.0 L721.1,431.0 L722.3,431.6 L723.5,431.1 L724.8,431.5 L726.0,431.5 L727.2,431.1 L728.5,431.8 L729.7,431.3 L730.9,431.9 L732.1,431.9 L733.4,431.6 L734.6,431.3 L735.8,430.7 L737.1,430.4 L738.3,430.0 L739.5,430.2 L740.7,429.2 L742.0,429.0 L743.2,429.3 L744.4,428.4 L745.7,427.6 L746.9,427.0 L748.2,425.9 L749.4,425.3 L750.7,424.3 L751.9,423.8 L753.1,422.8" fill="none" stroke="#0f7d7d" stroke-width="2.8" stroke-linejoin="round" stroke-linecap="round"/>
<path d="M511.1,484.7 L511.1,488.0 M509.5,484.7 L512.7,484.7 M509.5,488.0 L512.7,488.0 M513.9,477.9 L513.9,482.1 M512.3,477.9 L515.5,477.9 M512.3,482.1 L515.5,482.1 M516.7,470.6 L516.7,475.2 M515.1,470.6 L518.3,470.6 M515.1,475.2 L518.3,475.2 M519.4,461.9 L519.4,467.0 M517.8,461.9 L521.0,461.9 M517.8,467.0 L521.0,467.0 M522.2,453.5 L522.2,457.7 M520.6,453.5 L523.8,453.5 M520.6,457.7 L523.8,457.7 M525.0,443.0 L525.0,447.9 M523.4,443.0 L526.6,443.0 M523.4,447.9 L526.6,447.9 M527.7,432.6 L527.7,438.2 M526.1,432.6 L529.3,432.6 M526.1,438.2 L529.3,438.2 M530.5,423.5 L530.5,427.7 M528.9,423.5 L532.1,423.5 M528.9,427.7 L532.1,427.7 M533.2,413.9 L533.2,417.5 M531.6,413.9 L534.8,413.9 M531.6,417.5 L534.8,417.5 M536.0,407.7 L536.0,410.9 M534.4,407.7 L537.6,407.7 M534.4,410.9 L537.6,410.9 M538.8,399.5 L538.8,404.9 M537.2,399.5 L540.4,399.5 M537.2,404.9 L540.4,404.9 M541.5,395.4 L541.5,399.8 M539.9,395.4 L543.1,395.4 M539.9,399.8 L543.1,399.8 M544.3,390.2 L544.3,394.3 M542.7,390.2 L545.9,390.2 M542.7,394.3 L545.9,394.3 M547.1,387.5 L547.1,392.0 M545.5,387.5 L548.7,387.5 M545.5,392.0 L548.7,392.0 M549.8,385.2 L549.8,388.7 M548.2,385.2 L551.4,385.2 M548.2,388.7 L551.4,388.7 M552.6,382.0 L552.6,385.7 M551.0,382.0 L554.2,382.0 M551.0,385.7 L554.2,385.7 M555.3,378.2 L555.3,381.9 M553.7,378.2 L556.9,378.2 M553.7,381.9 L556.9,381.9 M558.1,376.0 L558.1,379.8 M556.5,376.0 L559.7,376.0 M556.5,379.8 L559.7,379.8 M560.9,372.9 L560.9,378.3 M559.3,372.9 L562.5,372.9 M559.3,378.3 L562.5,378.3 M563.5,372.5 L563.5,376.2 M561.9,372.5 L565.1,372.5 M561.9,376.2 L565.1,376.2 M566.2,371.3 L566.2,374.7 M564.6,371.3 L567.8,371.3 M564.6,374.7 L567.8,374.7 M569.2,373.9 L569.2,379.3 M567.6,373.9 L570.8,373.9 M567.6,379.3 L570.8,379.3" fill="none" stroke="#0f7d7d" stroke-width="0.9"/>
<path d="M582.6,412.3 L584.1,414.9 L585.6,415.4 L587.0,416.6 L588.5,418.1 L589.7,418.2 L591.0,418.1 L592.2,418.8 L593.4,419.2 L594.6,419.1 L595.9,419.3 L597.1,419.7 L598.3,420.2 L599.5,420.0 L600.8,420.1 L602.0,420.2 L603.2,420.6 L604.5,420.6 L605.7,420.6 L606.9,420.8 L608.1,420.7 L609.4,421.0 L610.6,421.6 L611.8,421.4 L613.1,421.2 L614.3,421.8 L615.5,421.4 L616.7,421.4 L618.0,421.4 L619.2,421.5 L620.4,421.6 L621.6,421.7 L622.9,422.1 L624.1,421.7 L625.3,421.7 L626.6,421.9 L627.8,422.1 L629.0,421.6 L630.2,421.9 L631.5,421.6 L632.7,421.7 L633.9,421.8 L635.2,422.0 L636.4,421.9 L637.6,421.8 L638.8,422.0 L640.1,421.7 L641.3,421.8 L642.5,422.2 L643.7,421.9 L645.0,422.1 L646.2,421.9 L647.4,422.3 L648.7,422.2 L649.9,422.0 L651.1,422.5 L652.3,422.2 L653.6,422.2 L654.8,422.2 L656.0,422.1 L657.3,422.1 L658.5,422.5 L659.7,422.1 L660.9,422.2 L662.2,422.3 L663.4,422.4 L664.6,422.3 L665.8,422.5 L667.1,422.2 L668.3,422.4 L669.5,422.4 L670.8,422.3 L672.0,422.4 L673.2,422.4 L674.4,422.8 L675.7,422.5 L676.9,422.9 L678.1,422.7 L679.4,423.0 L680.6,423.1 L681.8,423.0 L683.0,423.5 L684.3,423.3 L685.5,423.3 L686.7,423.1 L687.9,423.4 L689.2,423.5 L690.4,423.8 L691.6,424.3 L692.9,424.4 L694.1,424.0 L695.3,424.6 L696.5,425.0 L697.8,424.9 L699.0,424.7" fill="none" stroke="#0f7d7d" stroke-width="6.3" stroke-opacity="0.7" stroke-linejoin="round" stroke-linecap="butt"/>
<path d="M582.6,409.9 L584.1,412.5 L585.6,413.0 L587.0,414.2 L588.5,415.7 L589.7,415.8 L591.0,415.7 L592.2,416.4 L593.4,416.8 L594.6,416.7 L595.9,416.9 L597.1,417.3 L598.3,417.8 L599.5,417.6 L600.8,417.7 L602.0,417.8 L603.2,418.2 L604.5,418.2 L605.7,418.2 L606.9,418.4 L608.1,418.3 L609.4,418.6 L610.6,419.2 L611.8,419.0 L613.1,418.8 L614.3,419.4 L615.5,419.0 L616.7,419.0 L618.0,419.0 L619.2,419.1 L620.4,419.2 L621.6,419.3 L622.9,419.7 L624.1,419.3 L625.3,419.3 L626.6,419.5 L627.8,419.7 L629.0,419.2 L630.2,419.5 L631.5,419.2 L632.7,419.3 L633.9,419.4 L635.2,419.6 L636.4,419.5 L637.6,419.4 L638.8,419.6 L640.1,419.3 L641.3,419.4 L642.5,419.8 L643.7,419.5 L645.0,419.7 L646.2,419.5 L647.4,419.9 L648.7,419.8 L649.9,419.6 L651.1,420.1 L652.3,419.8 L653.6,419.8 L654.8,419.8 L656.0,419.7 L657.3,419.7 L658.5,420.1 L659.7,419.7 L660.9,419.8 L662.2,419.9 L663.4,420.0 L664.6,419.9 L665.8,420.1 L667.1,419.8 L668.3,420.0 L669.5,420.0 L670.8,419.9 L672.0,420.0 L673.2,420.0 L674.4,420.4 L675.7,420.1 L676.9,420.5 L678.1,420.3 L679.4,420.6 L680.6,420.7 L681.8,420.6 L683.0,421.1 L684.3,420.9 L685.5,420.9 L686.7,420.7 L687.9,421.0 L689.2,421.1 L690.4,421.4 L691.6,421.9 L692.9,422.0 L694.1,421.6 L695.3,422.2 L696.5,422.6 L697.8,422.5 L699.0,422.3 M582.6,414.7 L584.1,417.3 L585.6,417.8 L587.0,419.0 L588.5,420.5 L589.7,420.6 L591.0,420.5 L592.2,421.2 L593.4,421.6 L594.6,421.5 L595.9,421.7 L597.1,422.1 L598.3,422.6 L599.5,422.4 L600.8,422.5 L602.0,422.6 L603.2,423.0 L604.5,423.0 L605.7,423.0 L606.9,423.2 L608.1,423.1 L609.4,423.4 L610.6,424.0 L611.8,423.8 L613.1,423.6 L614.3,424.2 L615.5,423.8 L616.7,423.8 L618.0,423.8 L619.2,423.9 L620.4,424.0 L621.6,424.1 L622.9,424.5 L624.1,424.1 L625.3,424.1 L626.6,424.3 L627.8,424.5 L629.0,424.0 L630.2,424.3 L631.5,424.0 L632.7,424.1 L633.9,424.2 L635.2,424.4 L636.4,424.3 L637.6,424.2 L638.8,424.4 L640.1,424.1 L641.3,424.2 L642.5,424.6 L643.7,424.3 L645.0,424.5 L646.2,424.3 L647.4,424.7 L648.7,424.6 L649.9,424.4 L651.1,424.9 L652.3,424.6 L653.6,424.6 L654.8,424.6 L656.0,424.5 L657.3,424.5 L658.5,424.9 L659.7,424.5 L660.9,424.6 L662.2,424.7 L663.4,424.8 L664.6,424.7 L665.8,424.9 L667.1,424.6 L668.3,424.8 L669.5,424.8 L670.8,424.7 L672.0,424.8 L673.2,424.8 L674.4,425.2 L675.7,424.9 L676.9,425.3 L678.1,425.1 L679.4,425.4 L680.6,425.5 L681.8,425.4 L683.0,425.9 L684.3,425.7 L685.5,425.7 L686.7,425.5 L687.9,425.8 L689.2,425.9 L690.4,426.2 L691.6,426.7 L692.9,426.8 L694.1,426.4 L695.3,427.0 L696.5,427.4 L697.8,427.3 L699.0,427.1" fill="none" stroke="#0f7d7d" stroke-width="1.1" stroke-opacity="0.85"/>
<path d="M699.0,424.7 L700.2,425.7 L701.4,425.8 L702.7,426.7 L703.9,427.0 L705.1,427.4 L706.4,428.0 L707.6,427.8 L708.8,428.7 L710.0,428.8 L711.3,429.0 L712.5,429.4 L713.7,429.8 L715.0,429.6 L716.2,430.2 L717.4,430.7 L718.6,430.7 L719.9,431.0 L721.1,431.0 L722.3,431.6 L723.5,431.1 L724.8,431.5 L726.0,431.5 L727.2,431.1 L728.5,431.8 L729.7,431.3 L730.9,431.9 L732.1,431.9 L733.4,431.6 L734.6,431.3 L735.8,430.7 L737.1,430.4 L738.3,430.0 L739.5,430.2 L740.7,429.2 L742.0,429.0 L743.2,429.3 L744.4,428.4 L745.7,427.6 L746.9,427.0 L748.2,425.9 L749.4,425.3 L750.7,424.3 L751.9,423.8 L753.1,422.8" fill="none" stroke="#0f7d7d" stroke-width="10.7" stroke-opacity="0.7" stroke-linejoin="round" stroke-linecap="butt"/>
<path d="M699.0,420.1 L700.2,421.1 L701.4,421.2 L702.7,422.1 L703.9,422.4 L705.1,422.8 L706.4,423.4 L707.6,423.2 L708.8,424.1 L710.0,424.2 L711.3,424.4 L712.5,424.8 L713.7,425.2 L715.0,425.0 L716.2,425.6 L717.4,426.1 L718.6,426.1 L719.9,426.4 L721.1,426.4 L722.3,427.0 L723.5,426.5 L724.8,426.9 L726.0,426.9 L727.2,426.5 L728.5,427.2 L729.7,426.7 L730.9,427.3 L732.1,427.3 L733.4,427.0 L734.6,426.7 L735.8,426.1 L737.1,425.8 L738.3,425.4 L739.5,425.6 L740.7,424.6 L742.0,424.4 L743.2,424.7 L744.4,423.8 L745.7,423.0 L746.9,422.4 L748.2,421.3 L749.4,420.7 L750.7,419.7 L751.9,419.2 L753.1,418.2 M699.0,429.3 L700.2,430.3 L701.4,430.4 L702.7,431.3 L703.9,431.6 L705.1,432.0 L706.4,432.6 L707.6,432.4 L708.8,433.3 L710.0,433.4 L711.3,433.6 L712.5,434.0 L713.7,434.4 L715.0,434.2 L716.2,434.8 L717.4,435.3 L718.6,435.3 L719.9,435.6 L721.1,435.6 L722.3,436.2 L723.5,435.7 L724.8,436.1 L726.0,436.1 L727.2,435.7 L728.5,436.4 L729.7,435.9 L730.9,436.5 L732.1,436.5 L733.4,436.2 L734.6,435.9 L735.8,435.3 L737.1,435.0 L738.3,434.6 L739.5,434.8 L740.7,433.8 L742.0,433.6 L743.2,433.9 L744.4,433.0 L745.7,432.2 L746.9,431.6 L748.2,430.5 L749.4,429.9 L750.7,428.9 L751.9,428.4 L753.1,427.4" fill="none" stroke="#0f7d7d" stroke-width="1.1" stroke-opacity="0.85"/>
<path d="M484.5,512.5 L484.5,512.6 L485.7,512.7 L487.1,512.7 L488.5,512.8 L489.9,512.9 L491.3,513.3 L492.5,512.1 L493.8,512.2 L495.0,511.3 L496.3,511.4 L497.6,510.2 L498.8,510.4 L500.1,509.8 L501.3,509.3 L502.6,508.8 L503.8,507.6 L505.0,507.1 L506.2,506.7 L507.5,505.8 L508.7,505.2 L509.9,504.5 L511.1,504.4 L512.4,503.2 L513.6,501.9 L514.8,500.2 L516.1,499.5 L517.3,498.0 L518.5,496.6 L519.7,495.5 L521.0,494.2 L522.2,492.8 L523.6,490.9 L525.0,488.5 L526.3,486.5 L527.7,484.5 L529.1,481.0 L530.5,477.5 L531.9,474.5 L533.2,471.3 L534.6,467.1 L536.0,463.5 L537.4,459.0 L538.8,455.2 L540.2,451.4 L541.5,448.1 L542.9,444.0 L544.3,440.2 L545.7,436.6 L547.1,433.4 L548.4,430.4 L549.8,426.5 L551.2,423.2 L552.6,419.8 L554.0,416.8 L555.3,413.7 L556.7,411.3 L558.1,409.0 L559.5,406.9 L560.9,404.4 L562.2,403.7 L563.5,401.9 L564.9,400.5 L566.2,399.2 L567.5,398.3 L569.0,398.5 L570.4,399.5 L571.9,399.7 L573.3,400.3 L574.7,400.6 L576.1,401.7 L577.4,402.2 L578.8,402.3 L580.2,402.3 L581.6,402.8 L583.0,403.0 L584.4,403.5 L585.7,403.8 L587.1,403.8 L588.5,403.6 L589.7,403.5 L591.0,404.1 L592.2,404.2 L593.4,403.6 L594.6,403.9 L595.9,403.9 L597.1,404.3 L598.3,403.7 L599.5,403.7 L600.8,404.2 L602.0,404.0 L603.2,403.9 L604.5,404.1 L605.7,403.9 L606.9,404.0 L608.1,403.7 L609.4,403.5 L610.6,403.4 L611.8,403.6 L613.1,403.8 L614.3,403.6 L615.5,403.6 L616.7,403.7 L618.0,403.8 L619.2,403.7 L620.4,403.5 L621.6,403.8 L622.9,403.7 L624.1,403.8 L625.3,403.8 L626.6,403.1 L627.8,403.6 L629.0,403.3 L630.2,403.3 L631.5,403.4 L632.7,403.1 L633.9,403.2 L635.2,403.7 L636.4,403.3 L637.6,403.7 L638.8,403.6 L640.1,403.4 L641.3,403.4 L642.5,403.6 L643.7,403.7 L645.0,403.5 L646.2,403.3 L647.4,403.4 L648.7,403.9 L649.9,403.8 L651.1,403.4 L652.3,404.0 L653.6,403.8 L654.8,403.7 L656.0,404.1 L657.3,403.6 L658.5,403.6 L659.7,403.8 L660.9,404.1 L662.2,404.0 L663.4,403.9 L664.6,404.3 L665.8,403.9 L667.1,404.2 L668.3,403.7 L669.5,404.3 L670.8,403.9 L672.0,404.2 L673.2,404.4 L674.4,404.3 L675.7,404.3 L676.9,404.3 L678.1,404.4 L679.4,404.1 L680.6,404.0 L681.8,404.3 L683.0,404.2 L684.3,404.0 L685.5,404.2 L686.7,404.2 L687.9,404.0 L689.2,404.4 L690.4,404.4 L691.6,404.1 L692.9,404.5 L694.1,404.6 L695.3,404.3 L696.5,404.2 L697.8,404.1 L699.0,404.0 L700.2,404.1 L701.4,404.6 L702.7,404.0 L703.9,404.6 L705.1,404.5 L706.4,404.6 L707.6,404.1 L708.8,404.5 L710.0,404.2 L711.3,404.6 L712.5,404.7 L713.7,404.7 L715.0,404.6 L716.2,404.8 L717.4,404.4 L718.6,404.4 L719.9,404.9 L721.1,404.4 L722.3,404.6 L723.5,404.7 L724.8,405.0 L726.0,404.7 L727.2,404.8 L728.5,404.8 L729.7,404.8 L730.9,404.8 L732.1,404.9 L733.4,405.0 L734.6,404.9 L735.8,404.9 L737.1,405.3 L738.3,405.3 L739.5,404.9 L740.7,405.4 L742.0,404.8 L743.2,405.0 L744.4,405.4 L745.7,404.9 L746.9,405.3 L748.2,405.6 L749.4,405.3 L750.7,405.2 L751.9,405.0 L753.1,405.3" fill="none" stroke="#000" stroke-width="2.4" stroke-linejoin="round" stroke-linecap="round"/>
<path d="M786.2,499.7 L786.7,489.7 L787.9,489.7 L789.1,489.7 L790.4,489.7 L791.6,489.7 L792.8,489.9 L794.2,489.6 L795.6,489.8 L797.0,489.4 L798.4,489.6 L800.0,491.1 L801.7,492.4 L803.2,494.0 L804.6,495.0 L806.1,496.6 L807.5,497.6 L808.9,498.1 L810.2,499.5 L811.6,500.4 L813.0,501.1 L814.4,501.6 L815.8,502.8 L817.1,503.8 L818.5,504.5 L819.9,505.4 L821.3,506.4 L822.7,507.3 L824.1,508.4 L825.4,508.8 L826.8,509.5 L828.2,510.4 L829.4,511.0 L830.7,511.0 L831.9,511.2 L833.1,512.3 L834.3,512.6 L835.6,513.0 L836.8,513.2 L838.0,513.5 L839.2,513.8 L840.5,514.2 L841.7,514.5 L842.9,514.5 L844.2,515.2 L845.4,515.4 L846.6,515.2 L847.8,516.0 L849.1,516.0 L850.3,516.6 L851.5,516.5 L852.8,517.0 L854.0,517.0 L855.2,517.3 L856.4,517.5 L857.7,517.4 L858.9,517.7 L860.1,518.0 L861.3,518.4 L862.6,518.6 L863.8,518.9 L865.0,519.1 L866.3,519.1 L867.5,519.2 L868.7,519.5 L869.9,520.0 L871.2,520.1 L872.4,520.1 L873.6,520.4 L874.9,520.1 L876.1,520.1 L877.3,520.2 L878.5,520.4 L879.8,520.4 L881.0,521.0 L882.2,521.3 L883.4,520.9 L884.7,521.3 L885.9,521.6 L887.1,521.5 L888.4,521.2 L889.6,521.6 L890.8,521.4 L892.0,521.4 L893.3,521.4 L894.5,521.8 L895.7,522.1 L897.0,521.6 L898.2,521.7 L899.4,521.9 L900.6,521.7 L901.9,522.1 L903.1,522.3 L904.3,522.2 L905.5,521.9 L906.8,522.0 L908.0,522.1 L909.2,522.5 L910.5,522.7 L911.7,522.5 L912.9,522.3 L914.1,522.4 L915.4,522.6 L916.6,522.4 L917.8,522.4 L919.1,522.7 L920.3,523.0 L921.5,522.6 L922.7,523.1 L924.0,523.1 L925.2,522.8 L926.4,522.7 L927.6,522.7 L928.9,523.0 L930.1,523.2 L931.3,523.2 L932.6,522.8 L933.8,523.0 L935.0,522.7 L936.2,522.9 L937.5,523.0 L938.7,522.9 L939.9,522.8 L941.2,523.5 L942.4,523.0 L943.6,523.1 L944.8,523.1 L946.1,523.1 L947.3,523.2 L948.5,523.1 L949.7,523.1 L951.0,522.8 L952.2,523.2 L953.4,523.2 L954.7,523.3 L955.9,523.0 L957.1,523.1 L958.3,523.3 L959.6,523.3 L960.8,522.8 L962.0,523.0 L963.3,522.8 L964.5,523.2 L965.7,523.0 L966.9,522.9 L968.2,522.8 L969.4,522.9 L970.6,523.1 L971.8,523.0 L973.1,522.7 L974.3,522.8 L975.5,522.9 L976.8,522.5 L978.0,523.1 L979.2,522.4 L980.4,522.8 L981.7,522.5 L982.9,523.0 L984.1,522.8 L985.4,522.4 L986.6,522.5 L987.8,522.7 L989.0,522.7 L990.3,522.5 L991.5,522.4 L992.7,522.5 L993.9,522.5 L995.2,522.2 L996.4,522.2 L997.6,522.3 L998.9,522.0 L1000.1,521.8 L1001.3,522.0 L1002.5,521.8 L1003.8,522.0 L1005.0,522.0 L1006.2,522.0 L1007.4,521.4 L1008.7,521.3 L1009.9,521.9 L1011.1,521.7 L1012.4,521.8 L1013.6,521.7 L1014.8,521.7 L1016.0,521.1 L1017.3,521.1 L1018.5,521.3 L1019.7,521.4 L1021.0,520.9 L1022.2,521.4 L1023.4,520.9 L1024.6,520.8 L1025.9,520.9 L1027.1,520.7 L1028.3,520.6 L1029.5,520.5 L1030.8,520.4 L1032.0,520.5 L1033.2,520.8 L1034.5,520.8 L1035.7,520.8 L1036.9,520.5 L1038.1,520.6 L1039.4,520.2 L1040.6,520.6 L1041.8,520.3 L1043.1,520.0 L1044.3,520.1 L1045.5,520.0 L1046.7,520.3 L1048.0,520.0 L1049.2,519.7 L1050.5,519.7 L1051.7,519.6 L1053.0,520.2 L1054.2,519.7 L1055.5,519.9 L1056.8,519.7 L1058.0,519.6" fill="none" stroke="#ef7f7f" stroke-width="2.8" stroke-linejoin="round" stroke-linecap="round"/>
<path d="M786.2,390.3 L786.2,399.2 L787.5,399.7 L788.9,400.1 L790.2,399.9 L791.5,400.6 L792.8,400.8 L794.2,400.8 L795.6,400.4 L797.0,400.4 L798.4,400.6 L800.0,399.5 L801.7,397.9 L803.2,396.7 L804.6,395.3 L806.1,394.3 L807.5,393.4 L808.9,392.1 L810.2,391.6 L811.6,390.0 L813.0,389.6 L814.4,388.7 L815.8,387.2 L817.1,386.7 L818.5,385.7 L819.9,385.1 L821.3,383.7 L822.7,383.0 L824.1,382.5 L825.4,381.6 L826.8,380.6 L828.2,379.6 L829.6,379.7 L831.0,378.8 L832.3,378.6 L833.7,377.5 L835.1,377.5 L836.5,377.0 L837.9,376.7 L839.2,375.6 L840.5,375.6 L841.7,375.0 L842.9,375.2 L844.2,374.7 L845.4,374.8 L846.6,374.1 L847.8,374.1 L849.1,373.8 L850.3,373.1 L851.5,373.1 L852.8,373.2 L854.0,372.7 L855.2,372.4 L856.4,372.1 L857.7,372.3 L858.9,371.7 L860.1,371.8 L861.3,371.6 L862.6,371.4 L863.8,370.9 L865.0,371.1 L866.3,371.1 L867.5,370.5 L868.7,370.4 L869.9,370.6 L871.2,370.2 L872.4,369.8 L873.6,369.5 L874.9,369.9 L876.1,369.5 L877.3,369.5 L878.5,369.2 L879.8,369.3 L881.0,369.3 L882.2,368.9 L883.4,368.6 L884.7,369.1 L885.9,369.0 L887.1,368.2 L888.4,368.5 L889.6,368.5 L890.8,368.2 L892.0,368.3 L893.3,368.4 L894.5,368.0 L895.7,367.9 L897.0,367.7 L898.2,367.7 L899.4,367.5 L900.6,367.5 L901.9,367.5 L903.1,367.9 L904.3,367.6 L905.5,367.8 L906.8,367.8 L908.0,367.7 L909.2,367.1 L910.5,367.6 L911.7,367.0 L912.9,367.4 L914.1,367.4 L915.4,367.3 L916.6,367.0 L917.8,366.8 L919.1,366.8 L920.3,367.2 L921.5,366.9 L922.7,367.1 L924.0,366.9 L925.2,366.9 L926.4,367.0 L927.6,367.3 L928.9,367.1 L930.1,367.0 L931.3,367.1 L932.6,367.1 L933.8,367.1 L935.0,367.1 L936.2,367.4 L937.5,367.3 L938.7,366.9 L939.9,367.0 L941.2,366.9 L942.4,367.0 L943.6,366.8 L944.8,367.3 L946.1,367.1 L947.3,367.0 L948.5,367.4 L949.7,367.0 L951.0,367.2 L952.2,367.4 L953.4,367.1 L954.7,367.2 L955.9,367.0 L957.1,367.4 L958.3,367.3 L959.6,367.0 L960.8,367.0 L962.0,367.2 L963.3,367.1 L964.5,367.2 L965.7,366.9 L966.9,367.2 L968.2,367.3 L969.4,367.4 L970.6,367.2 L971.8,367.2 L973.1,367.2 L974.3,367.3 L975.5,367.2 L976.8,366.9 L978.0,367.1 L979.2,367.6 L980.4,367.5 L981.7,367.3 L982.9,367.5 L984.1,367.1 L985.4,367.2 L986.6,367.4 L987.8,367.6 L989.0,367.1 L990.3,367.4 L991.5,367.8 L992.7,367.6 L993.9,367.9 L995.2,367.3 L996.4,367.9 L997.6,367.9 L998.9,367.3 L1000.1,367.7 L1001.3,367.9 L1002.5,367.5 L1003.8,367.8 L1005.0,368.0 L1006.2,368.0 L1007.4,367.8 L1008.7,367.6 L1009.9,368.0 L1011.1,367.9 L1012.4,368.2 L1013.6,368.0 L1014.8,368.1 L1016.0,368.3 L1017.3,368.6 L1018.5,368.8 L1019.7,368.4 L1021.0,368.2 L1022.2,368.8 L1023.4,368.6 L1024.6,368.9 L1025.9,369.0 L1027.1,368.5 L1028.3,369.1 L1029.5,368.9 L1030.8,369.0 L1032.0,369.1 L1033.2,369.3 L1034.5,369.2 L1035.7,369.5 L1036.9,369.4 L1038.1,369.4 L1039.4,369.6 L1040.6,369.9 L1041.8,369.8 L1043.1,369.8 L1044.3,370.0 L1045.5,370.0 L1046.7,370.6 L1048.0,370.5 L1049.2,370.2 L1050.5,370.3 L1051.7,370.5 L1053.0,370.6 L1054.2,370.6 L1055.5,370.7 L1056.8,371.0 L1058.0,370.9" fill="none" stroke="#0f7d7d" stroke-width="2.8" stroke-linejoin="round" stroke-linecap="round"/>
<path d="M786.2,509.6 L786.4,509.8 L787.6,510.0 L788.9,510.1 L790.2,510.3 L791.4,510.4 L792.7,510.6 L793.9,510.5 L795.2,510.5 L796.5,509.9 L797.8,509.4 L799.1,509.3 L800.4,508.9 L801.7,508.5 L803.2,507.6 L804.6,506.6 L806.1,505.7 L807.3,505.3 L808.6,504.4 L809.8,503.9 L811.0,503.3 L812.2,502.7 L813.5,502.1 L814.7,500.9 L815.9,500.2 L817.1,499.9 L818.4,498.9 L819.6,497.8 L820.8,497.2 L822.1,496.5 L823.3,495.6 L824.5,494.3 L825.7,493.5 L827.0,492.5 L828.2,492.3 L829.4,491.0 L830.7,490.6 L831.9,489.8 L833.1,489.1 L834.3,488.3 L835.6,487.8 L836.8,486.9 L838.0,485.9 L839.2,485.1 L840.5,484.6 L841.7,484.2 L842.9,482.9 L844.2,482.5 L845.4,481.7 L846.6,480.7 L847.8,480.0 L849.1,479.6 L850.3,478.7 L851.5,478.0 L852.8,477.4 L854.0,476.4 L855.2,476.2 L856.4,475.4 L857.7,474.7 L858.9,473.9 L860.1,473.6 L861.3,473.0 L862.6,472.2 L863.8,471.2 L865.0,470.6 L866.3,470.0 L867.5,469.4 L868.7,469.2 L869.9,468.5 L871.2,467.6 L872.4,467.5 L873.6,466.9 L874.9,466.5 L876.1,466.1 L877.3,465.6 L878.5,465.0 L879.8,464.9 L881.0,463.9 L882.2,463.8 L883.4,463.5 L884.7,462.9 L885.9,462.8 L887.1,462.1 L888.4,461.9 L889.6,461.5 L890.8,461.2 L892.0,461.1 L893.3,460.4 L894.5,460.2 L895.7,460.4 L897.0,459.7 L898.2,459.4 L899.4,459.7 L900.6,459.2 L901.9,458.5 L903.1,458.7 L904.3,458.1 L905.5,457.9 L906.8,458.1 L908.0,457.9 L909.2,457.5 L910.5,457.4 L911.7,457.2 L912.9,456.9 L914.1,456.5 L915.4,456.8 L916.6,456.6 L917.8,456.2 L919.1,456.0 L920.3,456.0 L921.5,455.8 L922.7,455.6 L924.0,455.8 L925.2,455.6 L926.4,455.0 L927.6,454.8 L928.9,455.1 L930.1,455.1 L931.3,454.8 L932.6,454.4 L933.8,454.1 L935.0,454.5 L936.2,454.5 L937.5,454.3 L938.7,454.1 L939.9,454.2 L941.2,453.8 L942.4,454.0 L943.6,453.4 L944.8,453.2 L946.1,453.6 L947.3,453.4 L948.5,453.4 L949.7,452.8 L951.0,452.8 L952.2,452.9 L953.4,452.5 L954.7,452.6 L955.9,452.6 L957.1,452.8 L958.3,452.5 L959.6,452.2 L960.8,452.1 L962.0,452.1 L963.3,452.2 L964.5,452.2 L965.7,451.4 L966.9,452.0 L968.2,451.8 L969.4,451.2 L970.6,451.2 L971.8,451.1 L973.1,451.0 L974.3,450.9 L975.5,450.7 L976.8,451.0 L978.0,450.8 L979.2,450.4 L980.4,450.9 L981.7,450.7 L982.9,450.2 L984.1,450.5 L985.4,450.4 L986.6,450.1 L987.8,449.6 L989.0,449.9 L990.3,449.9 L991.5,449.8 L992.7,449.7 L993.9,449.1 L995.2,449.5 L996.4,448.8 L997.6,448.9 L998.9,448.9 L1000.1,448.9 L1001.3,448.7 L1002.5,448.9 L1003.8,448.7 L1005.0,448.7 L1006.2,448.5 L1007.4,448.2 L1008.7,447.8 L1009.9,448.1 L1011.1,448.2 L1012.4,447.6 L1013.6,448.1 L1014.8,447.3 L1016.0,447.5 L1017.3,447.6 L1018.5,447.5 L1019.7,447.4 L1021.0,447.1 L1022.2,447.0 L1023.4,446.8 L1024.6,447.1 L1025.9,446.6 L1027.1,446.6 L1028.3,447.0 L1029.5,446.7 L1030.8,446.3 L1032.0,446.5 L1033.2,446.8 L1034.5,446.4 L1035.7,446.2 L1036.9,446.0 L1038.1,446.2 L1039.4,446.0 L1040.6,446.0 L1041.8,445.8 L1043.1,446.1 L1044.3,446.2 L1045.5,445.9 L1046.7,446.0 L1048.0,445.7 L1049.2,446.1 L1050.5,445.6 L1051.7,446.0 L1053.0,445.3 L1054.2,445.8 L1055.5,445.9 L1056.8,445.6 L1058.0,445.6" fill="none" stroke="#000" stroke-width="2.4" stroke-linejoin="round" stroke-linecap="round"/>
<path d="M850.3,478.7 L851.5,478.0 L852.8,477.4 L854.0,476.4 L855.2,476.2 L856.4,475.4 L857.7,474.7 L858.9,473.9 L860.1,473.6 L861.3,473.0 L862.6,472.2 L863.8,471.2 L865.0,470.6 L866.3,470.0 L867.5,469.4 L868.7,469.2 L869.9,468.5 L871.2,467.6 L872.4,467.5 L873.6,466.9 L874.9,466.5 L876.1,466.1 L877.3,465.6 L878.5,465.0 L879.8,464.9 L881.0,463.9 L882.2,463.8 L883.4,463.5 L884.7,462.9 L885.9,462.8 L887.1,462.1 L888.4,461.9 L889.6,461.5 L890.8,461.2 L892.0,461.1 L893.3,460.4 L894.5,460.2 L895.7,460.4 L897.0,459.7 L898.2,459.4 L899.4,459.7 L900.6,459.2 L901.9,458.5 L903.1,458.7 L904.3,458.1 L905.5,457.9 L906.8,458.1 L908.0,457.9 L909.2,457.5 L910.5,457.4 L911.7,457.2 L912.9,456.9 L914.1,456.5 L915.4,456.8 L916.6,456.6 L917.8,456.2 L919.1,456.0 L920.3,456.0 L921.5,455.8 L922.7,455.6 L924.0,455.8 L925.2,455.6 L926.4,455.0 L927.6,454.8 L928.9,455.1 L930.1,455.1 L931.3,454.8 L932.6,454.4 L933.8,454.1 L935.0,454.5 L936.2,454.5 L937.5,454.3 L938.7,454.1 L939.9,454.2 L941.2,453.8 L942.4,454.0 L943.6,453.4 L944.8,453.2 L946.1,453.6 L947.3,453.4 L948.5,453.4 L949.7,452.8 L951.0,452.8 L952.2,452.9 L953.4,452.5 L954.7,452.6 L955.9,452.6 L957.1,452.8 L958.3,452.5 L959.6,452.2 L960.8,452.1 L962.0,452.1 L963.3,452.2 L964.5,452.2 L965.7,451.4 L966.9,452.0 L968.2,451.8 L969.4,451.2 L970.6,451.2 L971.8,451.1 L973.1,451.0 L974.3,450.9 L975.5,450.7 L976.8,451.0 L978.0,450.8 L979.2,450.4 L980.4,450.9 L981.7,450.7 L982.9,450.2 L984.1,450.5 L985.4,450.4 L986.6,450.1 L987.8,449.6 L989.0,449.9 L990.3,449.9 L991.5,449.8 L992.7,449.7 L993.9,449.1 L995.2,449.5 L996.4,448.8 L997.6,448.9 L998.9,448.9 L1000.1,448.9 L1001.3,448.7 L1002.5,448.9 L1003.8,448.7 L1005.0,448.7 L1006.2,448.5 L1007.4,448.2 L1008.7,447.8 L1009.9,448.1 L1011.1,448.2 L1012.4,447.6 L1013.6,448.1 L1014.8,447.3 L1016.0,447.5 L1017.3,447.6 L1018.5,447.5 L1019.7,447.4 L1021.0,447.1 L1022.2,447.0 L1023.4,446.8 L1024.6,447.1 L1025.9,446.6 L1027.1,446.6 L1028.3,447.0 L1029.5,446.7 L1030.8,446.3 L1032.0,446.5 L1033.2,446.8 L1034.5,446.4 L1035.7,446.2 L1036.9,446.0 L1038.1,446.2 L1039.4,446.0 L1040.6,446.0 L1041.8,445.8 L1043.1,446.1 L1044.3,446.2 L1045.5,445.9 L1046.7,446.0 L1048.0,445.7 L1049.2,446.1 L1050.5,445.6 L1051.7,446.0 L1053.0,445.3 L1054.2,445.8 L1055.5,445.9 L1056.8,445.6 L1058.0,445.6" fill="none" stroke="#000" stroke-width="3.6" stroke-linejoin="round" stroke-linecap="butt"/>
<path d="M180.8,700.9 L181.6,712.0 L183.3,715.2 L184.9,718.1 L186.6,717.8 L188.3,717.4 L189.7,717.4 L191.2,716.6 L192.7,716.1 L194.2,716.9 L195.6,717.6 L197.1,718.4 L198.5,718.9 L199.9,719.4 L201.2,720.1 L202.6,720.6 L204.0,721.2 L205.4,721.4 L206.8,721.8 L208.1,722.3 L209.5,722.7 L210.9,722.7 L212.3,723.0 L213.7,723.2 L215.1,722.1 L216.4,721.0 L217.8,720.6 L219.2,719.8 L220.6,719.0 L222.0,718.7 L223.3,717.9 L224.7,717.7 L226.1,717.4 L227.5,717.1 L228.9,716.9 L230.2,716.2 L231.6,716.0 L233.0,715.7 L234.4,715.4 L235.8,714.7 L237.2,714.4 L238.5,714.5 L239.9,714.0 L241.3,714.3 L242.7,714.1 L244.1,714.6 L245.4,714.9 L246.8,715.0 L248.2,715.5 L249.6,715.8 L251.0,716.0 L252.3,716.6 L253.7,716.9 L255.1,717.2 L256.5,717.0 L257.9,717.1 L259.3,717.6 L260.6,717.7 L262.0,718.4 L263.4,718.4 L264.8,718.7 L266.2,719.3 L267.5,719.8 L268.9,720.5 L270.2,720.5 L271.5,720.7 L272.8,721.2 L274.1,721.0 L275.4,721.4 L276.7,722.0 L278.9,712.1 L281.1,700.6 L282.6,700.6 L284.0,700.9 L285.5,701.0 L286.9,700.6 L288.3,701.0 L289.6,701.0 L291.0,701.0 L292.4,701.2 L293.8,701.5 L295.2,701.8 L296.5,701.7 L297.9,702.2 L299.3,702.6 L300.7,702.6 L302.1,702.3 L303.5,702.9 L305.0,703.0 L306.5,702.7 L308.7,694.2 L310.4,693.8 L312.0,693.4 L313.3,693.5 L314.7,693.4 L316.0,693.5 L317.3,693.8 L318.6,693.4 L319.9,693.8 L321.1,693.7 L322.3,694.4 L323.6,694.5 L324.8,694.4 L326.0,694.5 L327.2,695.0 L328.5,695.3 L329.7,695.1 L330.9,695.5 L332.2,695.8 L333.4,695.9 L334.6,696.6 L335.8,696.7 L337.1,697.1 L338.3,697.2 L339.5,697.4 L340.7,697.4 L342.0,697.8 L343.2,698.0 L344.4,698.3 L345.7,698.2 L346.9,699.0 L348.1,698.8 L349.3,699.2 L350.6,699.8 L351.8,699.8 L353.0,700.3 L354.3,700.1 L355.5,700.5 L356.7,700.7 L357.9,700.9 L359.2,701.1 L360.4,701.4 L361.6,702.0 L362.8,702.3 L364.1,701.9 L365.3,702.6 L366.5,702.7 L367.8,702.9 L369.0,702.9 L370.2,703.3 L371.4,703.6 L372.7,703.8 L373.9,704.2 L375.1,704.5 L376.4,704.8 L377.6,705.1 L378.8,706.0 L380.0,705.9 L381.3,706.7 L382.5,706.5 L383.7,707.2 L384.9,707.5 L386.2,708.1 L387.4,708.5 L388.6,709.2 L389.9,709.5 L391.1,709.6 L392.3,710.6 L393.5,711.0 L394.8,711.2 L396.0,712.1 L397.2,712.6 L398.4,712.7 L399.7,713.1 L400.9,713.7 L402.1,714.4 L403.4,714.8 L404.6,715.1 L405.8,715.8 L407.0,716.4 L408.3,717.0 L409.5,717.5 L410.7,718.4 L412.0,718.9 L413.2,719.2 L414.4,719.9 L415.6,720.9 L416.9,721.1 L418.1,721.8 L419.3,722.3 L420.5,723.1 L421.8,723.9 L423.0,724.1 L424.2,724.7 L425.5,725.2 L426.7,725.9 L427.9,726.8 L429.1,727.4 L430.4,728.3 L431.6,728.6 L432.8,729.2 L434.1,729.5 L435.3,730.3 L436.5,730.9 L437.7,731.5 L439.0,732.5 L440.2,732.9 L441.5,733.3 L442.8,734.3 L444.2,734.7 L445.5,735.3 L446.8,736.2" fill="none" stroke="#ef7f7f" stroke-width="2.8" stroke-linejoin="round" stroke-linecap="round"/>
<path d="M180.8,699.1 L180.8,702.7 M179.2,699.1 L182.4,699.1 M179.2,702.7 L182.4,702.7 M184.9,716.8 L184.9,719.4 M183.3,716.8 L186.5,716.8 M183.3,719.4 L186.5,719.4 M188.3,715.4 L188.3,719.3 M186.7,715.4 L189.9,715.4 M186.7,719.3 L189.9,719.3 M191.2,714.9 L191.2,718.2 M189.6,714.9 L192.8,714.9 M189.6,718.2 L192.8,718.2 M194.2,715.6 L194.2,718.2 M192.6,715.6 L195.8,715.6 M192.6,718.2 L195.8,718.2 M197.1,716.6 L197.1,720.3 M195.5,716.6 L198.7,716.6 M195.5,720.3 L198.7,720.3 M199.9,717.2 L199.9,721.5 M198.3,717.2 L201.5,717.2 M198.3,721.5 L201.5,721.5 M202.6,718.7 L202.6,722.6 M201.0,718.7 L204.2,718.7 M201.0,722.6 L204.2,722.6 M205.4,719.4 L205.4,723.5 M203.8,719.4 L207.0,719.4 M203.8,723.5 L207.0,723.5 M208.1,720.2 L208.1,724.5 M206.5,720.2 L209.7,720.2 M206.5,724.5 L209.7,724.5 M210.9,721.2 L210.9,724.1 M209.3,721.2 L212.5,721.2 M209.3,724.1 L212.5,724.1 M213.7,721.5 L213.7,724.9 M212.1,721.5 L215.3,721.5 M212.1,724.9 L215.3,724.9 M216.4,719.1 L216.4,723.0 M214.8,719.1 L218.0,719.1 M214.8,723.0 L218.0,723.0 M219.2,718.2 L219.2,721.4 M217.6,718.2 L220.8,718.2 M217.6,721.4 L220.8,721.4 M222.0,716.5 L222.0,720.8 M220.4,716.5 L223.6,716.5 M220.4,720.8 L223.6,720.8 M224.7,716.1 L224.7,719.4 M223.1,716.1 L226.3,716.1 M223.1,719.4 L226.3,719.4 M227.5,715.9 L227.5,718.3 M225.9,715.9 L229.1,715.9 M225.9,718.3 L229.1,718.3 M230.2,714.9 L230.2,717.4 M228.6,714.9 L231.8,714.9 M228.6,717.4 L231.8,717.4 M233.0,714.1 L233.0,717.4 M231.4,714.1 L234.6,714.1 M231.4,717.4 L234.6,717.4 M235.8,713.5 L235.8,715.9 M234.2,713.5 L237.4,713.5 M234.2,715.9 L237.4,715.9 M238.5,712.7 L238.5,716.4 M236.9,712.7 L240.1,712.7 M236.9,716.4 L240.1,716.4 M241.3,712.1 L241.3,716.5 M239.7,712.1 L242.9,712.1 M239.7,716.5 L242.9,716.5 M244.1,712.5 L244.1,716.8 M242.5,712.5 L245.7,712.5 M242.5,716.8 L245.7,716.8 M246.8,712.8 L246.8,717.2 M245.2,712.8 L248.4,712.8 M245.2,717.2 L248.4,717.2 M249.6,714.3 L249.6,717.2 M248.0,714.3 L251.2,714.3 M248.0,717.2 L251.2,717.2 M252.3,715.2 L252.3,718.0 M250.7,715.2 L253.9,715.2 M250.7,718.0 L253.9,718.0 M255.1,715.9 L255.1,718.4 M253.5,715.9 L256.7,715.9 M253.5,718.4 L256.7,718.4 M257.9,715.0 L257.9,719.2 M256.3,715.0 L259.5,715.0 M256.3,719.2 L259.5,719.2 M260.6,716.5 L260.6,719.0 M259.0,716.5 L262.2,716.5 M259.0,719.0 L262.2,719.0 M263.4,717.1 L263.4,719.7 M261.8,717.1 L265.0,717.1 M261.8,719.7 L265.0,719.7 M266.2,717.4 L266.2,721.1 M264.6,717.4 L267.8,717.4 M264.6,721.1 L267.8,721.1 M268.9,718.3 L268.9,722.6 M267.3,718.3 L270.5,718.3 M267.3,722.6 L270.5,722.6 M272.8,719.5 L272.8,722.9 M271.2,719.5 L274.4,719.5 M271.2,722.9 L274.4,722.9 M276.7,720.7 L276.7,723.3 M275.1,720.7 L278.3,720.7 M275.1,723.3 L278.3,723.3 M281.1,699.4 L281.1,701.8 M279.5,699.4 L282.7,699.4 M279.5,701.8 L282.7,701.8 M284.0,698.9 L284.0,702.9 M282.4,698.9 L285.6,698.9 M282.4,702.9 L285.6,702.9 M286.9,698.8 L286.9,702.5 M285.3,698.8 L288.5,698.8 M285.3,702.5 L288.5,702.5 M289.6,699.5 L289.6,702.6 M288.0,699.5 L291.2,699.5 M288.0,702.6 L291.2,702.6 M292.4,699.1 L292.4,703.4 M290.8,699.1 L294.0,699.1 M290.8,703.4 L294.0,703.4 M295.2,700.3 L295.2,703.3 M293.6,700.3 L296.8,700.3 M293.6,703.3 L296.8,703.3 M297.9,700.9 L297.9,703.6 M296.3,700.9 L299.5,700.9 M296.3,703.6 L299.5,703.6 M300.7,700.4 L300.7,704.8 M299.1,700.4 L302.3,700.4 M299.1,704.8 L302.3,704.8 M303.5,701.6 L303.5,704.1 M301.9,701.6 L305.1,701.6 M301.9,704.1 L305.1,704.1 M306.5,701.2 L306.5,704.3 M304.9,701.2 L308.1,701.2 M304.9,704.3 L308.1,704.3 M310.4,692.4 L310.4,695.2 M308.8,692.4 L312.0,692.4 M308.8,695.2 L312.0,695.2 M313.3,691.7 L313.3,695.4 M311.7,691.7 L314.9,691.7 M311.7,695.4 L314.9,695.4 M316.0,691.8 L316.0,695.1 M314.4,691.8 L317.6,691.8 M314.4,695.1 L317.6,695.1 M318.6,691.9 L318.6,694.8 M317.0,691.9 L320.2,691.9 M317.0,694.8 L320.2,694.8 M322.3,692.5 L322.3,696.2 M320.7,692.5 L323.9,692.5 M320.7,696.2 L323.9,696.2 M326.0,693.2 L326.0,695.8 M324.4,693.2 L327.6,693.2 M324.4,695.8 L327.6,695.8 M329.7,692.9 L329.7,697.3 M328.1,692.9 L331.3,692.9 M328.1,697.3 L331.3,697.3 M333.4,693.9 L333.4,697.9 M331.8,693.9 L335.0,693.9 M331.8,697.9 L335.0,697.9 M337.1,695.7 L337.1,698.5 M335.5,695.7 L338.7,695.7 M335.5,698.5 L338.7,698.5 M340.7,695.6 L340.7,699.2 M339.1,695.6 L342.3,695.6 M339.1,699.2 L342.3,699.2 M344.4,696.8 L344.4,699.7 M342.8,696.8 L346.0,696.8 M342.8,699.7 L346.0,699.7 M348.1,697.0 L348.1,700.6 M346.5,697.0 L349.7,697.0 M346.5,700.6 L349.7,700.6 M351.8,698.3 L351.8,701.3 M350.2,698.3 L353.4,698.3 M350.2,701.3 L353.4,701.3 M355.5,699.1 L355.5,701.9 M353.9,699.1 L357.1,699.1 M353.9,701.9 L357.1,701.9 M359.2,699.5 L359.2,702.8 M357.6,699.5 L360.8,699.5 M357.6,702.8 L360.8,702.8 M362.8,701.0 L362.8,703.6 M361.2,701.0 L364.4,701.0 M361.2,703.6 L364.4,703.6 M366.5,700.5 L366.5,704.9 M364.9,700.5 L368.1,700.5 M364.9,704.9 L368.1,704.9 M370.2,701.4 L370.2,705.3 M368.6,701.4 L371.8,701.4 M368.6,705.3 L371.8,705.3 M373.9,702.8 L373.9,705.7 M372.3,702.8 L375.5,702.8 M372.3,705.7 L375.5,705.7 M377.6,703.3 L377.6,706.9 M376.0,703.3 L379.2,703.3 M376.0,706.9 L379.2,706.9 M381.3,705.3 L381.3,708.1 M379.7,705.3 L382.9,705.3 M379.7,708.1 L382.9,708.1 M384.9,706.2 L384.9,708.9 M383.3,706.2 L386.5,706.2 M383.3,708.9 L386.5,708.9 M388.6,707.6 L388.6,710.8 M387.0,707.6 L390.2,707.6 M387.0,710.8 L390.2,710.8" fill="none" stroke="#ef7f7f" stroke-width="0.9"/>
<path d="M392.3,710.6 L393.5,711.0 L394.8,711.2 L396.0,712.1 L397.2,712.6 L398.4,712.7 L399.7,713.1 L400.9,713.7 L402.1,714.4 L403.4,714.8 L404.6,715.1 L405.8,715.8 L407.0,716.4 L408.3,717.0 L409.5,717.5 L410.7,718.4 L412.0,718.9 L413.2,719.2 L414.4,719.9 L415.6,720.9 L416.9,721.1 L418.1,721.8 L419.3,722.3 L420.5,723.1 L421.8,723.9 L423.0,724.1 L424.2,724.7 L425.5,725.2 L426.7,725.9 L427.9,726.8 L429.1,727.4 L430.4,728.3 L431.6,728.6 L432.8,729.2 L434.1,729.5 L435.3,730.3 L436.5,730.9 L437.7,731.5 L439.0,732.5 L440.2,732.9 L441.5,733.3 L442.8,734.3 L444.2,734.7 L445.5,735.3 L446.8,736.2" fill="none" stroke="#ef7f7f" stroke-width="9.9" stroke-opacity="0.7" stroke-linejoin="round" stroke-linecap="butt"/>
<path d="M392.3,706.4 L393.5,706.8 L394.8,707.0 L396.0,707.9 L397.2,708.4 L398.4,708.5 L399.7,708.9 L400.9,709.5 L402.1,710.2 L403.4,710.6 L404.6,710.9 L405.8,711.6 L407.0,712.2 L408.3,712.8 L409.5,713.3 L410.7,714.2 L412.0,714.7 L413.2,715.0 L414.4,715.7 L415.6,716.7 L416.9,716.9 L418.1,717.6 L419.3,718.1 L420.5,718.9 L421.8,719.7 L423.0,719.9 L424.2,720.5 L425.5,721.0 L426.7,721.7 L427.9,722.6 L429.1,723.2 L430.4,724.1 L431.6,724.4 L432.8,725.0 L434.1,725.3 L435.3,726.1 L436.5,726.7 L437.7,727.3 L439.0,728.3 L440.2,728.7 L441.5,729.1 L442.8,730.1 L444.2,730.5 L445.5,731.1 L446.8,732.0 M392.3,714.8 L393.5,715.2 L394.8,715.4 L396.0,716.3 L397.2,716.8 L398.4,716.9 L399.7,717.3 L400.9,717.9 L402.1,718.6 L403.4,719.0 L404.6,719.3 L405.8,720.0 L407.0,720.6 L408.3,721.2 L409.5,721.7 L410.7,722.6 L412.0,723.1 L413.2,723.4 L414.4,724.1 L415.6,725.1 L416.9,725.3 L418.1,726.0 L419.3,726.5 L420.5,727.3 L421.8,728.1 L423.0,728.3 L424.2,728.9 L425.5,729.4 L426.7,730.1 L427.9,731.0 L429.1,731.6 L430.4,732.5 L431.6,732.8 L432.8,733.4 L434.1,733.7 L435.3,734.5 L436.5,735.1 L437.7,735.7 L439.0,736.7 L440.2,737.1 L441.5,737.5 L442.8,738.5 L444.2,738.9 L445.5,739.5 L446.8,740.4" fill="none" stroke="#ef7f7f" stroke-width="1.1" stroke-opacity="0.85"/>
<path d="M180.8,698.7 L181.6,683.5 L183.3,680.0 L184.9,676.7 L186.6,676.6 L188.3,675.9 L189.9,678.1 L191.6,680.2 L193.0,679.6 L194.3,678.8 L195.7,678.0 L197.1,677.6 L198.5,677.2 L199.9,675.7 L201.2,675.1 L202.6,674.7 L204.0,673.8 L205.4,673.0 L206.8,672.6 L208.1,672.4 L209.5,672.0 L210.9,672.1 L212.3,672.2 L213.7,672.4 L215.1,673.0 L216.4,673.5 L217.8,674.7 L219.2,675.1 L220.6,675.7 L222.0,676.3 L223.3,677.2 L224.7,677.5 L226.1,678.2 L227.5,678.2 L228.9,678.6 L230.2,678.9 L231.6,679.7 L233.0,680.1 L234.4,680.0 L235.8,680.4 L237.2,680.3 L238.5,680.9 L239.9,680.7 L241.3,680.7 L242.7,680.8 L244.1,680.5 L245.4,680.1 L246.8,679.6 L248.2,679.7 L249.6,679.4 L251.0,679.0 L252.3,678.5 L253.7,678.8 L255.1,678.5 L256.5,678.1 L257.9,678.0 L259.3,677.2 L260.6,676.4 L262.0,675.7 L263.4,675.5 L264.8,675.2 L266.2,674.9 L267.5,675.0 L268.9,674.6 L270.2,673.9 L271.6,674.2 L272.9,673.3 L274.2,673.6 L275.6,673.1 L277.8,681.1 L279.4,687.4 L281.1,693.2 L282.6,693.7 L284.0,693.6 L285.5,694.4 L286.9,693.9 L288.3,694.0 L289.6,693.8 L291.0,693.5 L292.4,693.8 L293.8,693.2 L295.2,693.1 L296.5,692.8 L297.9,693.1 L299.3,692.7 L300.7,692.3 L302.1,692.1 L303.7,691.8 L305.4,691.6 L307.6,696.1 L309.3,698.9 L310.9,702.1 L312.2,701.9 L313.5,701.5 L314.8,701.5 L316.1,701.3 L317.4,701.3 L318.6,701.2 L319.9,700.9 L321.1,700.6 L322.3,700.4 L323.6,700.2 L324.8,700.1 L326.0,700.1 L327.2,699.7 L328.5,699.3 L329.7,698.8 L330.9,698.6 L332.2,698.7 L333.4,698.3 L334.6,698.4 L335.8,698.2 L337.1,697.5 L338.3,697.3 L339.5,697.0 L340.7,697.0 L342.0,696.4 L343.2,696.2 L344.4,696.4 L345.7,695.8 L346.9,696.0 L348.1,695.3 L349.3,695.4 L350.6,694.9 L351.8,694.4 L353.0,694.5 L354.3,694.0 L355.5,694.2 L356.7,693.8 L357.9,693.5 L359.2,693.5 L360.4,693.0 L361.6,693.0 L362.8,692.6 L364.1,692.0 L365.3,691.7 L366.5,691.8 L367.8,691.0 L369.0,691.3 L370.2,690.4 L371.4,690.6 L372.7,690.2 L373.9,689.8 L375.1,689.6 L376.4,689.3 L377.6,688.8 L378.8,688.5 L380.0,688.0 L381.3,688.2 L382.5,688.0 L383.7,687.4 L384.9,687.4 L386.2,686.7 L387.4,686.2 L388.6,686.2 L389.9,685.9 L391.1,684.9 L392.3,685.1 L393.5,684.3 L394.8,684.2 L396.0,683.5 L397.2,683.5 L398.4,682.5 L399.7,682.0 L400.9,681.4 L402.1,680.9 L403.4,680.4 L404.6,680.4 L405.8,679.4 L407.0,678.9 L408.3,678.4 L409.5,677.6 L410.7,677.4 L412.0,676.2 L413.2,676.0 L414.4,675.1 L415.6,674.3 L416.9,673.7 L418.1,673.3 L419.3,672.4 L420.5,671.8 L421.8,671.2 L423.0,670.6 L424.2,670.1 L425.5,669.1 L426.7,668.7 L427.9,668.1 L429.1,667.1 L430.4,666.8 L431.6,665.6 L432.8,665.2 L434.1,664.4 L435.3,663.6 L436.5,663.3 L437.7,662.7 L439.0,661.8 L440.2,661.0 L441.5,660.6 L442.8,659.8 L444.2,658.8 L445.5,657.9 L446.8,657.1" fill="none" stroke="#0f7d7d" stroke-width="2.8" stroke-linejoin="round" stroke-linecap="round"/>
<path d="M180.8,696.8 L180.8,700.5 M179.2,696.8 L182.4,696.8 M179.2,700.5 L182.4,700.5 M184.9,674.8 L184.9,678.6 M183.3,674.8 L186.5,674.8 M183.3,678.6 L186.5,678.6 M188.3,674.1 L188.3,677.8 M186.7,674.1 L189.9,674.1 M186.7,677.8 L189.9,677.8 M191.6,678.4 L191.6,681.9 M190.0,678.4 L193.2,678.4 M190.0,681.9 L193.2,681.9 M194.3,676.9 L194.3,680.8 M192.7,676.9 L195.9,676.9 M192.7,680.8 L195.9,680.8 M197.1,675.7 L197.1,679.5 M195.5,675.7 L198.7,675.7 M195.5,679.5 L198.7,679.5 M199.9,673.9 L199.9,677.6 M198.3,673.9 L201.5,673.9 M198.3,677.6 L201.5,677.6 M202.6,672.9 L202.6,676.4 M201.0,672.9 L204.2,672.9 M201.0,676.4 L204.2,676.4 M205.4,671.5 L205.4,674.6 M203.8,671.5 L207.0,671.5 M203.8,674.6 L207.0,674.6 M208.1,671.0 L208.1,673.8 M206.5,671.0 L209.7,671.0 M206.5,673.8 L209.7,673.8 M210.9,670.4 L210.9,673.8 M209.3,670.4 L212.5,670.4 M209.3,673.8 L212.5,673.8 M213.7,670.8 L213.7,673.9 M212.1,670.8 L215.3,670.8 M212.1,673.9 L215.3,673.9 M216.4,671.8 L216.4,675.2 M214.8,671.8 L218.0,671.8 M214.8,675.2 L218.0,675.2 M219.2,673.7 L219.2,676.5 M217.6,673.7 L220.8,673.7 M217.6,676.5 L220.8,676.5 M222.0,674.2 L222.0,678.4 M220.4,674.2 L223.6,674.2 M220.4,678.4 L223.6,678.4 M224.7,676.2 L224.7,678.8 M223.1,676.2 L226.3,676.2 M223.1,678.8 L226.3,678.8 M227.5,676.1 L227.5,680.3 M225.9,676.1 L229.1,676.1 M225.9,680.3 L229.1,680.3 M230.2,677.1 L230.2,680.6 M228.6,677.1 L231.8,677.1 M228.6,680.6 L231.8,680.6 M233.0,678.0 L233.0,682.2 M231.4,678.0 L234.6,678.0 M231.4,682.2 L234.6,682.2 M235.8,678.3 L235.8,682.4 M234.2,678.3 L237.4,678.3 M234.2,682.4 L237.4,682.4 M238.5,679.5 L238.5,682.2 M236.9,679.5 L240.1,679.5 M236.9,682.2 L240.1,682.2 M241.3,679.2 L241.3,682.2 M239.7,679.2 L242.9,679.2 M239.7,682.2 L242.9,682.2 M244.1,678.3 L244.1,682.7 M242.5,678.3 L245.7,678.3 M242.5,682.7 L245.7,682.7 M246.8,677.8 L246.8,681.5 M245.2,677.8 L248.4,677.8 M245.2,681.5 L248.4,681.5 M249.6,678.1 L249.6,680.6 M248.0,678.1 L251.2,678.1 M248.0,680.6 L251.2,680.6 M252.3,677.1 L252.3,680.0 M250.7,677.1 L253.9,677.1 M250.7,680.0 L253.9,680.0 M255.1,677.2 L255.1,679.8 M253.5,677.2 L256.7,677.2 M253.5,679.8 L256.7,679.8 M257.9,676.5 L257.9,679.5 M256.3,676.5 L259.5,676.5 M256.3,679.5 L259.5,679.5 M260.6,675.2 L260.6,677.7 M259.0,675.2 L262.2,675.2 M259.0,677.7 L262.2,677.7 M263.4,674.3 L263.4,676.8 M261.8,674.3 L265.0,674.3 M261.8,676.8 L265.0,676.8 M266.2,673.6 L266.2,676.1 M264.6,673.6 L267.8,673.6 M264.6,676.1 L267.8,676.1 M268.9,672.9 L268.9,676.3 M267.3,672.9 L270.5,672.9 M267.3,676.3 L270.5,676.3 M271.6,672.3 L271.6,676.1 M270.0,672.3 L273.2,672.3 M270.0,676.1 L273.2,676.1 M274.2,671.9 L274.2,675.3 M272.6,671.9 L275.8,671.9 M272.6,675.3 L275.8,675.3 M277.8,679.3 L277.8,683.0 M276.2,679.3 L279.4,679.3 M276.2,683.0 L279.4,683.0 M281.1,691.3 L281.1,695.0 M279.5,691.3 L282.7,691.3 M279.5,695.0 L282.7,695.0 M284.0,692.2 L284.0,694.9 M282.4,692.2 L285.6,692.2 M282.4,694.9 L285.6,694.9 M286.9,692.0 L286.9,695.8 M285.3,692.0 L288.5,692.0 M285.3,695.8 L288.5,695.8 M289.6,692.1 L289.6,695.5 M288.0,692.1 L291.2,692.1 M288.0,695.5 L291.2,695.5 M292.4,692.2 L292.4,695.4 M290.8,692.2 L294.0,692.2 M290.8,695.4 L294.0,695.4 M295.2,691.0 L295.2,695.3 M293.6,691.0 L296.8,691.0 M293.6,695.3 L296.8,695.3 M297.9,691.4 L297.9,694.7 M296.3,691.4 L299.5,691.4 M296.3,694.7 L299.5,694.7 M300.7,690.4 L300.7,694.2 M299.1,690.4 L302.3,690.4 M299.1,694.2 L302.3,694.2 M303.7,689.9 L303.7,693.8 M302.1,689.9 L305.3,689.9 M302.1,693.8 L305.3,693.8 M307.6,694.4 L307.6,697.8 M306.0,694.4 L309.2,694.4 M306.0,697.8 L309.2,697.8 M310.9,700.7 L310.9,703.4 M309.3,700.7 L312.5,700.7 M309.3,703.4 L312.5,703.4 M314.8,700.1 L314.8,702.9 M313.2,700.1 L316.4,700.1 M313.2,702.9 L316.4,702.9 M318.6,699.7 L318.6,702.7 M317.0,699.7 L320.2,699.7 M317.0,702.7 L320.2,702.7 M322.3,699.0 L322.3,701.8 M320.7,699.0 L323.9,699.0 M320.7,701.8 L323.9,701.8 M326.0,698.5 L326.0,701.7 M324.4,698.5 L327.6,698.5 M324.4,701.7 L327.6,701.7 M329.7,697.5 L329.7,700.0 M328.1,697.5 L331.3,697.5 M328.1,700.0 L331.3,700.0 M333.4,696.3 L333.4,700.3 M331.8,696.3 L335.0,696.3 M331.8,700.3 L335.0,700.3 M337.1,695.5 L337.1,699.5 M335.5,695.5 L338.7,695.5 M335.5,699.5 L338.7,699.5 M340.7,695.2 L340.7,698.8 M339.1,695.2 L342.3,695.2 M339.1,698.8 L342.3,698.8 M344.4,695.1 L344.4,697.7 M342.8,695.1 L346.0,695.1 M342.8,697.7 L346.0,697.7 M348.1,693.9 L348.1,696.8 M346.5,693.9 L349.7,693.9 M346.5,696.8 L349.7,696.8 M351.8,692.3 L351.8,696.5 M350.2,692.3 L353.4,692.3 M350.2,696.5 L353.4,696.5 M355.5,692.2 L355.5,696.3 M353.9,692.2 L357.1,692.2 M353.9,696.3 L357.1,696.3 M359.2,691.6 L359.2,695.4 M357.6,691.6 L360.8,691.6 M357.6,695.4 L360.8,695.4 M362.8,690.6 L362.8,694.7 M361.2,690.6 L364.4,690.6 M361.2,694.7 L364.4,694.7 M366.5,690.4 L366.5,693.2 M364.9,690.4 L368.1,690.4 M364.9,693.2 L368.1,693.2 M370.2,688.9 L370.2,691.9 M368.6,688.9 L371.8,688.9 M368.6,691.9 L371.8,691.9 M373.9,688.1 L373.9,691.4 M372.3,688.1 L375.5,688.1 M372.3,691.4 L375.5,691.4 M377.6,687.2 L377.6,690.5 M376.0,687.2 L379.2,687.2 M376.0,690.5 L379.2,690.5 M381.3,686.6 L381.3,689.7 M379.7,686.6 L382.9,686.6 M379.7,689.7 L382.9,689.7 M384.9,686.0 L384.9,688.9 M383.3,686.0 L386.5,686.0 M383.3,688.9 L386.5,688.9 M388.6,684.2 L388.6,688.2 M387.0,684.2 L390.2,684.2 M387.0,688.2 L390.2,688.2" fill="none" stroke="#0f7d7d" stroke-width="0.9"/>
<path d="M392.3,685.1 L393.5,684.3 L394.8,684.2 L396.0,683.5 L397.2,683.5 L398.4,682.5 L399.7,682.0 L400.9,681.4 L402.1,680.9 L403.4,680.4 L404.6,680.4 L405.8,679.4 L407.0,678.9 L408.3,678.4 L409.5,677.6 L410.7,677.4 L412.0,676.2 L413.2,676.0 L414.4,675.1 L415.6,674.3 L416.9,673.7 L418.1,673.3 L419.3,672.4 L420.5,671.8 L421.8,671.2 L423.0,670.6 L424.2,670.1 L425.5,669.1 L426.7,668.7 L427.9,668.1 L429.1,667.1 L430.4,666.8 L431.6,665.6 L432.8,665.2 L434.1,664.4 L435.3,663.6 L436.5,663.3 L437.7,662.7 L439.0,661.8 L440.2,661.0 L441.5,660.6 L442.8,659.8 L444.2,658.8 L445.5,657.9 L446.8,657.1" fill="none" stroke="#0f7d7d" stroke-width="8.7" stroke-opacity="0.7" stroke-linejoin="round" stroke-linecap="butt"/>
<path d="M392.3,681.5 L393.5,680.7 L394.8,680.6 L396.0,679.9 L397.2,679.9 L398.4,678.9 L399.7,678.4 L400.9,677.8 L402.1,677.3 L403.4,676.8 L404.6,676.8 L405.8,675.8 L407.0,675.3 L408.3,674.8 L409.5,674.0 L410.7,673.8 L412.0,672.6 L413.2,672.4 L414.4,671.5 L415.6,670.7 L416.9,670.1 L418.1,669.7 L419.3,668.8 L420.5,668.2 L421.8,667.6 L423.0,667.0 L424.2,666.5 L425.5,665.5 L426.7,665.1 L427.9,664.5 L429.1,663.5 L430.4,663.2 L431.6,662.0 L432.8,661.6 L434.1,660.8 L435.3,660.0 L436.5,659.7 L437.7,659.1 L439.0,658.2 L440.2,657.4 L441.5,657.0 L442.8,656.2 L444.2,655.2 L445.5,654.3 L446.8,653.5 M392.3,688.7 L393.5,687.9 L394.8,687.8 L396.0,687.1 L397.2,687.1 L398.4,686.1 L399.7,685.6 L400.9,685.0 L402.1,684.5 L403.4,684.0 L404.6,684.0 L405.8,683.0 L407.0,682.5 L408.3,682.0 L409.5,681.2 L410.7,681.0 L412.0,679.8 L413.2,679.6 L414.4,678.7 L415.6,677.9 L416.9,677.3 L418.1,676.9 L419.3,676.0 L420.5,675.4 L421.8,674.8 L423.0,674.2 L424.2,673.7 L425.5,672.7 L426.7,672.3 L427.9,671.7 L429.1,670.7 L430.4,670.4 L431.6,669.2 L432.8,668.8 L434.1,668.0 L435.3,667.2 L436.5,666.9 L437.7,666.3 L439.0,665.4 L440.2,664.6 L441.5,664.2 L442.8,663.4 L444.2,662.4 L445.5,661.5 L446.8,660.7" fill="none" stroke="#0f7d7d" stroke-width="1.1" stroke-opacity="0.85"/>
<path d="M180.8,765.4 L181.1,765.3 L182.3,765.2 L183.6,765.1 L184.8,765.0 L186.0,764.7 L187.3,765.0 L188.5,764.8 L189.7,764.6 L191.0,764.3 L192.2,764.5 L193.4,764.4 L194.6,764.1 L195.9,764.0 L197.1,763.7 L198.3,763.3 L199.6,763.4 L200.8,763.4 L202.0,762.9 L203.2,763.2 L204.5,762.6 L205.7,762.5 L206.9,762.2 L208.1,762.7 L209.5,761.8 L210.9,761.1 L212.3,760.2 L213.7,759.1 L215.1,757.7 L216.4,756.1 L217.8,754.2 L219.2,753.1 L220.6,750.5 L222.0,748.1 L223.3,746.4 L224.7,743.7 L226.1,741.7 L227.5,738.7 L228.9,736.2 L230.2,733.5 L231.6,730.6 L233.0,727.5 L234.4,724.5 L235.8,722.1 L237.2,718.9 L238.5,716.5 L239.9,713.4 L241.3,711.1 L242.7,708.3 L244.1,705.5 L245.4,702.7 L246.8,699.8 L248.2,697.4 L249.6,694.5 L251.0,692.3 L252.3,690.0 L253.7,687.4 L255.1,685.7 L256.5,683.5 L257.9,680.9 L259.3,678.9 L260.6,677.1 L262.0,675.1 L263.4,673.6 L264.8,671.5 L266.2,669.6 L267.5,668.0 L268.9,666.8 L270.3,665.9 L271.7,664.4 L273.1,663.3 L274.4,662.2 L276.1,661.6 L277.8,660.5 L279.1,661.3 L280.5,661.8 L281.9,662.4 L283.3,662.6 L284.6,662.9 L285.9,663.4 L287.3,664.1 L288.6,664.0 L289.9,664.5 L291.2,664.5 L292.6,664.6 L293.9,664.8 L295.2,665.5 L296.5,665.7 L298.2,665.6 L299.9,666.1 L301.5,665.0 L303.2,664.0 L304.7,663.8 L306.1,663.1 L307.6,663.2 L308.8,663.1 L310.1,662.8 L311.3,663.0 L312.5,662.7 L313.7,662.5 L315.0,662.4 L316.2,662.8 L317.4,662.2 L318.6,662.1 L319.9,662.7 L321.1,662.7 L322.3,662.5 L323.6,662.7 L324.8,662.2 L326.0,662.4 L327.2,662.4 L328.5,662.6 L329.7,662.4 L330.9,662.4 L332.2,662.7 L333.4,663.1 L334.6,663.3 L335.8,663.2 L337.1,663.1 L338.3,663.0 L339.5,663.5 L340.7,663.3 L342.0,663.5 L343.2,663.1 L344.4,663.2 L345.7,663.7 L346.9,663.8 L348.1,663.9 L349.3,663.7 L350.6,663.6 L351.8,663.8 L353.0,664.1 L354.3,663.8 L355.5,664.0 L356.7,663.9 L357.9,664.3 L359.2,663.8 L360.4,664.4 L361.6,664.6 L362.8,664.1 L364.1,664.5 L365.3,664.6 L366.5,664.8 L367.8,664.7 L369.0,664.5 L370.2,664.6 L371.4,665.1 L372.7,665.1 L373.9,664.6 L375.1,664.6 L376.4,664.7 L377.6,664.7 L378.8,665.1 L380.0,665.0 L381.3,665.5 L382.5,665.5 L383.7,665.2 L384.9,665.5 L386.2,665.4 L387.4,665.6 L388.6,665.5 L389.9,665.5 L391.1,665.5 L392.3,665.7 L393.5,666.0 L394.8,665.9 L396.0,665.6 L397.2,666.1 L398.4,666.3 L399.7,666.3 L400.9,666.4 L402.1,665.9 L403.4,666.2 L404.6,666.0 L405.8,666.5 L407.0,666.2 L408.3,666.6 L409.5,666.3 L410.7,666.7 L412.0,666.5 L413.2,666.3 L414.4,666.6 L415.6,666.6 L416.9,667.1 L418.1,666.7 L419.3,666.9 L420.5,667.0 L421.8,667.3 L423.0,666.7 L424.2,667.2 L425.5,667.1 L426.7,667.3 L427.9,667.6 L429.1,667.1 L430.4,667.5 L431.6,667.4 L432.8,667.5 L434.1,667.2 L435.3,667.7 L436.5,667.9 L437.7,667.5 L439.0,667.5 L440.2,668.1 L441.5,667.5 L442.8,667.6 L444.2,667.7 L445.5,668.3 L446.8,668.2" fill="none" stroke="#000" stroke-width="2.4" stroke-linejoin="round" stroke-linecap="round"/>
<path d="M486.2,645.2 L486.2,646.4 L487.6,647.7 L489.0,649.3 L490.4,649.5 L491.8,650.3 L493.2,651.8 L494.6,652.0 L496.0,652.4 L497.3,653.2 L498.7,653.5 L500.1,654.3 L501.5,653.9 L502.9,654.6 L504.2,654.2 L505.6,654.5 L507.0,655.0 L508.4,655.1 L509.8,655.6 L511.1,655.7 L512.5,655.4 L513.9,656.2 L515.3,656.1 L516.7,656.1 L518.1,656.2 L519.4,656.9 L520.8,656.9 L522.2,657.4 L523.6,657.5 L525.0,657.8 L526.3,657.7 L527.7,657.9 L529.1,658.2 L530.5,658.4 L531.9,659.3 L533.2,659.2 L534.6,660.4 L536.0,661.4 L537.4,662.1 L538.8,662.6 L540.2,662.8 L541.5,662.3 L542.9,661.6 L544.3,661.2 L545.7,661.6 L547.1,661.3 L548.4,662.0 L549.8,661.8 L551.2,661.7 L552.6,661.6 L554.0,661.7 L555.3,661.8 L556.7,661.2 L558.1,661.0 L559.5,660.9 L560.9,660.5 L562.3,660.5 L563.6,660.3 L565.0,660.1 L566.4,660.1 L567.8,659.8 L569.2,659.4 L570.5,659.8 L571.9,659.2 L573.3,659.1 L574.7,658.8 L576.1,659.0 L577.4,658.8 L578.8,658.2 L580.2,657.8 L581.6,657.3 L583.0,657.6 L584.4,656.9 L585.7,657.0 L587.1,656.7 L588.5,656.5 L589.7,656.5 L591.0,656.4 L592.2,656.2 L593.4,656.5 L594.6,656.6 L595.9,656.5 L597.1,656.1 L598.3,656.4 L599.5,655.9 L600.8,656.3 L602.0,656.7 L603.2,656.8 L604.5,656.6 L605.7,657.0 L606.9,656.8 L608.1,656.9 L609.4,657.1 L610.6,657.5 L611.8,657.4 L613.1,657.3 L614.3,657.6 L615.5,657.6 L616.7,657.5 L618.0,657.9 L619.2,658.0 L620.4,658.0 L621.6,658.3 L622.9,657.8 L624.1,658.2 L625.3,658.4 L626.6,658.3 L627.8,658.3 L629.0,658.7 L630.2,658.6 L631.5,658.6 L632.7,658.6 L633.9,659.3 L635.2,659.0 L636.4,658.9 L637.6,659.1 L638.8,659.2 L640.1,659.7 L641.3,659.3 L642.5,659.5 L643.7,659.5 L645.0,659.8 L646.2,659.7 L647.4,659.8 L648.7,660.1 L649.9,660.3 L651.1,660.3 L652.3,659.8 L653.6,660.1 L654.8,660.4 L656.1,660.0 L657.4,660.2 L658.8,660.5 L660.1,660.5 L661.4,660.8 L663.6,655.7 L665.1,654.1 L666.6,652.4 L668.1,651.0 L669.3,650.9 L670.6,650.7 L671.8,651.1 L673.1,650.7 L674.4,651.1 L675.6,650.9 L676.9,650.4 L678.1,650.7 L679.4,650.8 L680.6,650.5 L681.8,650.8 L683.0,650.5 L684.3,651.0 L685.5,650.5 L686.7,651.0 L687.9,651.3 L689.2,651.2 L690.4,650.8 L691.6,651.1 L692.9,650.9 L694.1,651.1 L695.3,651.5 L696.5,651.5 L697.8,651.0 L699.0,651.3 L700.2,651.5 L701.4,651.2 L702.7,651.7 L703.9,651.8 L705.1,651.6 L706.4,651.6 L707.6,652.0 L708.8,651.8 L710.0,651.6 L711.3,651.7 L712.5,651.7 L713.7,652.2 L715.0,652.0 L716.2,652.2 L717.4,652.3 L718.6,652.5 L719.9,652.0 L721.1,652.2 L722.3,652.6 L723.5,652.6 L724.8,652.5 L726.0,652.8 L727.2,652.5 L728.5,652.6 L729.7,652.6 L730.9,653.0 L732.1,652.9 L733.4,653.2 L734.6,653.7 L735.8,653.2 L737.1,653.6 L738.3,653.9 L739.5,653.8 L740.7,653.8 L742.0,654.1 L743.2,653.7 L744.5,654.4 L745.7,654.3 L747.0,654.4 L748.2,654.5 L749.5,654.1 L750.8,654.1 L752.0,654.5" fill="none" stroke="#ef7f7f" stroke-width="2.8" stroke-linejoin="round" stroke-linecap="round"/>
<path d="M489.0,649.3 L490.4,649.5 L491.8,650.3 L493.2,651.8 L494.6,652.0 L496.0,652.4 L497.3,653.2 L498.7,653.5 L500.1,654.3 L501.5,653.9 L502.9,654.6 L504.2,654.2 L505.6,654.5 L507.0,655.0 L508.4,655.1 L509.8,655.6 L511.1,655.7 L512.5,655.4 L513.9,656.2 L515.3,656.1 L516.7,656.1 L518.1,656.2 L519.4,656.9 L520.8,656.9 L522.2,657.4 L523.6,657.5 L525.0,657.8 L526.3,657.7 L527.7,657.9 L529.1,658.2 L530.5,658.4 L531.9,659.3 L533.2,659.2 L534.6,660.4" fill="none" stroke="#ef7f7f" stroke-width="7.5" stroke-opacity="0.7" stroke-linejoin="round" stroke-linecap="butt"/>
<path d="M489.0,646.3 L490.4,646.5 L491.8,647.3 L493.2,648.8 L494.6,649.0 L496.0,649.4 L497.3,650.2 L498.7,650.5 L500.1,651.3 L501.5,650.9 L502.9,651.6 L504.2,651.2 L505.6,651.5 L507.0,652.0 L508.4,652.1 L509.8,652.6 L511.1,652.7 L512.5,652.4 L513.9,653.2 L515.3,653.1 L516.7,653.1 L518.1,653.2 L519.4,653.9 L520.8,653.9 L522.2,654.4 L523.6,654.5 L525.0,654.8 L526.3,654.7 L527.7,654.9 L529.1,655.2 L530.5,655.4 L531.9,656.3 L533.2,656.2 L534.6,657.4 M489.0,652.3 L490.4,652.5 L491.8,653.3 L493.2,654.8 L494.6,655.0 L496.0,655.4 L497.3,656.2 L498.7,656.5 L500.1,657.3 L501.5,656.9 L502.9,657.6 L504.2,657.2 L505.6,657.5 L507.0,658.0 L508.4,658.1 L509.8,658.6 L511.1,658.7 L512.5,658.4 L513.9,659.2 L515.3,659.1 L516.7,659.1 L518.1,659.2 L519.4,659.9 L520.8,659.9 L522.2,660.4 L523.6,660.5 L525.0,660.8 L526.3,660.7 L527.7,660.9 L529.1,661.2 L530.5,661.4 L531.9,662.3 L533.2,662.2 L534.6,663.4" fill="none" stroke="#ef7f7f" stroke-width="1.1" stroke-opacity="0.85"/>
<path d="M486.2,749.5 L486.2,748.4 L487.6,747.3 L489.0,746.5 L490.4,745.7 L491.8,744.8 L493.2,743.4 L494.6,742.9 L496.0,742.4 L497.3,742.0 L498.7,741.3 L500.1,740.9 L501.5,740.7 L502.9,740.1 L504.2,739.9 L505.6,739.2 L507.0,739.0 L508.4,739.1 L509.8,738.7 L511.1,738.4 L512.5,738.4 L513.9,737.9 L515.3,737.5 L516.7,737.8 L518.1,737.4 L519.4,737.2 L520.8,737.0 L522.2,737.0 L523.6,736.5 L525.0,736.6 L526.3,736.2 L527.7,736.3 L529.1,736.1 L530.5,735.5 L531.9,735.1 L533.2,735.1 L534.6,734.6 L536.0,733.7 L537.4,732.9 L538.8,732.3 L540.2,732.2 L541.5,732.4 L542.9,732.6 L544.3,733.1 L545.5,732.8 L546.8,732.9 L548.0,733.0 L549.2,733.1 L550.4,733.4 L551.7,733.7 L552.9,734.0 L554.1,733.8 L555.3,733.9 L556.6,734.1 L557.8,734.4 L559.0,734.9 L560.3,735.0 L561.5,735.1 L562.7,735.2 L563.9,735.9 L565.2,736.1 L566.4,736.5 L567.6,736.2 L568.9,736.7 L570.1,737.1 L571.3,737.1 L572.5,737.5 L573.8,737.2 L575.0,737.9 L576.2,737.5 L577.4,737.9 L578.7,737.8 L579.9,738.5 L581.1,738.5 L582.4,738.8 L583.6,738.8 L584.8,739.0 L586.0,738.9 L587.3,739.3 L588.5,739.3 L589.7,739.0 L591.0,739.5 L592.2,739.2 L593.4,739.1 L594.6,739.0 L595.9,739.4 L597.1,739.2 L598.3,739.8 L599.5,739.9 L600.8,739.2 L602.0,739.0 L603.2,739.2 L604.5,738.8 L605.7,739.0 L606.9,739.0 L608.1,738.5 L609.4,738.5 L610.6,738.7 L611.8,738.3 L613.1,738.1 L614.3,738.4 L615.5,738.3 L616.7,738.2 L618.0,738.0 L619.2,737.7 L620.4,737.8 L621.6,737.8 L622.9,737.6 L624.1,737.2 L625.3,737.1 L626.6,737.1 L627.8,737.3 L629.0,737.0 L630.2,736.9 L631.5,737.0 L632.7,736.4 L633.9,736.7 L635.2,736.4 L636.4,736.4 L637.6,736.5 L638.8,736.0 L640.1,736.4 L641.3,735.7 L642.5,735.9 L643.7,735.8 L645.0,735.5 L646.2,735.7 L647.4,735.6 L648.7,735.6 L649.9,735.7 L651.1,735.1 L652.3,735.4 L653.6,735.6 L654.8,735.1 L656.1,735.7 L657.4,735.3 L658.8,735.7 L660.1,735.5 L661.4,735.7 L662.9,738.1 L664.4,740.2 L665.8,743.0 L667.3,743.6 L668.8,744.5 L670.3,745.1 L671.6,745.1 L672.9,745.1 L674.2,744.9 L675.6,745.3 L676.9,744.8 L678.1,745.3 L679.4,745.2 L680.6,744.9 L681.8,745.1 L683.0,744.9 L684.3,744.8 L685.5,744.6 L686.7,744.5 L687.9,744.5 L689.2,744.5 L690.4,744.9 L691.6,744.5 L692.9,744.5 L694.1,744.6 L695.3,744.8 L696.5,744.6 L697.8,744.7 L699.0,744.5 L700.2,744.4 L701.4,744.2 L702.7,744.3 L703.9,744.3 L705.1,744.6 L706.4,744.3 L707.6,744.0 L708.8,744.2 L710.0,743.9 L711.3,744.2 L712.5,744.0 L713.7,744.3 L715.0,743.8 L716.2,744.2 L717.4,743.7 L718.6,744.2 L719.9,743.9 L721.1,743.4 L722.3,743.9 L723.5,743.4 L724.8,743.3 L726.0,743.1 L727.2,743.5 L728.5,742.9 L729.7,743.2 L730.9,742.9 L732.1,743.0 L733.4,742.6 L734.6,742.4 L735.8,742.9 L737.1,742.6 L738.3,742.1 L739.5,742.6 L740.7,742.5 L742.0,741.8 L743.2,741.6 L744.5,742.0 L745.7,741.6 L747.0,741.9 L748.2,741.7 L749.5,741.8 L750.8,741.6 L752.0,741.5" fill="none" stroke="#0f7d7d" stroke-width="2.8" stroke-linejoin="round" stroke-linecap="round"/>
<path d="M489.0,746.5 L490.4,745.7 L491.8,744.8 L493.2,743.4 L494.6,742.9 L496.0,742.4 L497.3,742.0 L498.7,741.3 L500.1,740.9 L501.5,740.7 L502.9,740.1 L504.2,739.9 L505.6,739.2 L507.0,739.0 L508.4,739.1 L509.8,738.7 L511.1,738.4 L512.5,738.4 L513.9,737.9 L515.3,737.5 L516.7,737.8 L518.1,737.4 L519.4,737.2 L520.8,737.0 L522.2,737.0 L523.6,736.5 L525.0,736.6 L526.3,736.2 L527.7,736.3 L529.1,736.1 L530.5,735.5 L531.9,735.1 L533.2,735.1 L534.6,734.6" fill="none" stroke="#0f7d7d" stroke-width="7.5" stroke-opacity="0.7" stroke-linejoin="round" stroke-linecap="butt"/>
<path d="M489.0,743.5 L490.4,742.7 L491.8,741.8 L493.2,740.4 L494.6,739.9 L496.0,739.4 L497.3,739.0 L498.7,738.3 L500.1,737.9 L501.5,737.7 L502.9,737.1 L504.2,736.9 L505.6,736.2 L507.0,736.0 L508.4,736.1 L509.8,735.7 L511.1,735.4 L512.5,735.4 L513.9,734.9 L515.3,734.5 L516.7,734.8 L518.1,734.4 L519.4,734.2 L520.8,734.0 L522.2,734.0 L523.6,733.5 L525.0,733.6 L526.3,733.2 L527.7,733.3 L529.1,733.1 L530.5,732.5 L531.9,732.1 L533.2,732.1 L534.6,731.6 M489.0,749.5 L490.4,748.7 L491.8,747.8 L493.2,746.4 L494.6,745.9 L496.0,745.4 L497.3,745.0 L498.7,744.3 L500.1,743.9 L501.5,743.7 L502.9,743.1 L504.2,742.9 L505.6,742.2 L507.0,742.0 L508.4,742.1 L509.8,741.7 L511.1,741.4 L512.5,741.4 L513.9,740.9 L515.3,740.5 L516.7,740.8 L518.1,740.4 L519.4,740.2 L520.8,740.0 L522.2,740.0 L523.6,739.5 L525.0,739.6 L526.3,739.2 L527.7,739.3 L529.1,739.1 L530.5,738.5 L531.9,738.1 L533.2,738.1 L534.6,737.6" fill="none" stroke="#0f7d7d" stroke-width="1.1" stroke-opacity="0.85"/>
<path d="M486.2,758.3 L486.3,758.1 L487.9,758.0 L489.3,758.7 L490.6,758.7 L491.9,759.8 L493.2,759.8 L494.6,760.7 L496.0,760.4 L497.3,760.9 L498.7,760.6 L500.1,761.1 L501.3,761.1 L502.6,761.1 L503.8,760.8 L505.0,761.0 L506.2,761.1 L507.5,760.4 L508.7,760.6 L509.9,760.9 L511.1,760.7 L512.4,760.4 L513.6,760.2 L514.8,760.6 L516.1,759.9 L517.3,760.2 L518.5,760.2 L519.7,759.6 L521.0,759.6 L522.2,759.5 L523.4,759.6 L524.7,759.4 L525.9,759.6 L527.1,759.6 L528.3,759.0 L529.6,759.3 L530.8,758.7 L532.0,758.6 L533.2,758.9 L534.5,758.8 L535.7,758.6 L536.9,758.6 L538.2,758.3 L539.4,757.7 L540.6,757.9 L541.8,757.9 L543.1,757.1 L544.3,757.2 L545.5,756.7 L546.8,756.5 L548.0,756.5 L549.2,756.4 L550.4,756.3 L551.7,755.5 L552.9,755.5 L554.1,755.6 L555.3,755.2 L556.6,754.7 L557.8,754.1 L559.0,754.0 L560.3,753.4 L561.5,753.3 L562.7,752.9 L563.9,752.4 L565.2,752.3 L566.4,751.6 L567.6,751.1 L568.9,750.7 L570.1,749.7 L571.3,749.0 L572.5,748.7 L573.8,748.0 L575.0,747.7 L576.2,746.6 L577.4,746.1 L578.8,744.8 L580.2,743.9 L581.6,742.7 L583.0,741.7 L584.4,740.6 L585.7,738.7 L587.1,738.0 L588.5,736.4 L589.9,734.8 L591.3,732.9 L592.6,731.3 L594.0,729.5 L595.4,727.6 L596.8,725.5 L598.2,723.7 L599.5,721.7 L600.9,719.5 L602.3,717.7 L603.7,715.4 L605.1,713.1 L606.5,710.5 L607.8,708.4 L609.2,706.4 L610.6,704.3 L612.0,702.5 L613.4,701.0 L614.7,699.5 L616.1,697.4 L617.5,696.1 L618.9,695.0 L620.3,693.3 L621.6,692.2 L623.0,690.9 L624.4,689.5 L625.8,688.7 L627.2,687.3 L628.6,686.7 L629.9,685.6 L631.3,684.3 L632.7,683.5 L634.1,682.0 L635.5,681.2 L636.8,680.0 L638.2,678.9 L639.6,678.5 L641.0,677.0 L642.4,676.7 L643.7,675.5 L645.1,674.8 L646.5,673.5 L647.9,673.3 L649.3,672.3 L650.7,671.0 L652.0,670.3 L653.4,669.4 L654.8,668.8 L656.2,667.9 L657.6,667.8 L658.9,667.0 L660.3,666.5 L662.0,666.0 L663.6,666.1 L664.9,666.1 L666.2,666.5 L667.5,666.6 L668.8,667.2 L670.1,667.3 L671.4,667.5 L672.8,667.3 L674.1,667.3 L675.5,667.4 L676.9,667.5 L678.1,668.1 L679.4,667.7 L680.6,668.2 L681.8,667.8 L683.0,668.2 L684.3,668.0 L685.5,668.1 L686.7,668.5 L687.9,668.5 L689.2,668.8 L690.4,668.3 L691.6,668.4 L692.9,668.4 L694.1,668.5 L695.3,669.2 L696.5,668.9 L697.8,669.0 L699.0,668.9 L700.2,669.3 L701.4,669.3 L702.7,669.0 L703.9,668.9 L705.1,669.1 L706.4,669.6 L707.6,669.6 L708.8,669.2 L710.0,669.3 L711.3,669.4 L712.5,669.8 L713.7,670.0 L715.0,669.7 L716.2,669.9 L717.4,669.9 L718.6,670.5 L719.9,670.3 L721.1,670.7 L722.3,670.3 L723.5,670.7 L724.8,670.7 L726.0,671.1 L727.2,670.8 L728.5,670.8 L729.7,671.3 L730.9,671.5 L732.1,671.3 L733.4,671.2 L734.6,671.2 L735.8,671.5 L737.1,671.9 L738.3,671.6 L739.5,671.8 L740.7,672.0 L742.0,671.9 L743.2,671.9 L744.5,672.2 L745.7,672.6 L747.0,672.6 L748.2,672.3 L749.5,672.7 L750.8,672.7 L752.0,672.6" fill="none" stroke="#000" stroke-width="2.4" stroke-linejoin="round" stroke-linecap="round"/>
<path d="M487.9,758.0 L489.3,758.7 L490.6,758.7 L491.9,759.8 L493.2,759.8 L494.6,760.7 L496.0,760.4 L497.3,760.9 L498.7,760.6 L500.1,761.1 L501.3,761.1 L502.6,761.1 L503.8,760.8 L505.0,761.0 L506.2,761.1 L507.5,760.4 L508.7,760.6 L509.9,760.9 L511.1,760.7 L512.4,760.4 L513.6,760.2 L514.8,760.6 L516.1,759.9 L517.3,760.2 L518.5,760.2 L519.7,759.6 L521.0,759.6 L522.2,759.5 L523.4,759.6 L524.7,759.4 L525.9,759.6 L527.1,759.6 L528.3,759.0 L529.6,759.3 L530.8,758.7 L532.0,758.6 L533.2,758.9" fill="none" stroke="#000" stroke-width="5.9" stroke-opacity="0.8" stroke-linejoin="round" stroke-linecap="butt"/>
<path d="M487.9,755.8 L489.3,756.5 L490.6,756.5 L491.9,757.6 L493.2,757.6 L494.6,758.5 L496.0,758.2 L497.3,758.7 L498.7,758.4 L500.1,758.9 L501.3,758.9 L502.6,758.9 L503.8,758.6 L505.0,758.8 L506.2,758.9 L507.5,758.2 L508.7,758.4 L509.9,758.7 L511.1,758.5 L512.4,758.2 L513.6,758.0 L514.8,758.4 L516.1,757.7 L517.3,758.0 L518.5,758.0 L519.7,757.4 L521.0,757.4 L522.2,757.3 L523.4,757.4 L524.7,757.2 L525.9,757.4 L527.1,757.4 L528.3,756.8 L529.6,757.1 L530.8,756.5 L532.0,756.4 L533.2,756.7 M487.9,760.2 L489.3,760.9 L490.6,760.9 L491.9,762.0 L493.2,762.0 L494.6,762.9 L496.0,762.6 L497.3,763.1 L498.7,762.8 L500.1,763.3 L501.3,763.3 L502.6,763.3 L503.8,763.0 L505.0,763.2 L506.2,763.3 L507.5,762.6 L508.7,762.8 L509.9,763.1 L511.1,762.9 L512.4,762.6 L513.6,762.4 L514.8,762.8 L516.1,762.1 L517.3,762.4 L518.5,762.4 L519.7,761.8 L521.0,761.8 L522.2,761.7 L523.4,761.8 L524.7,761.6 L525.9,761.8 L527.1,761.8 L528.3,761.2 L529.6,761.5 L530.8,760.9 L532.0,760.8 L533.2,761.1" fill="none" stroke="#000" stroke-width="1.1" stroke-opacity="0.85"/>
<path d="M555.3,755.2 L556.6,754.7 L557.8,754.1 L559.0,754.0 L560.3,753.4 L561.5,753.3 L562.7,752.9 L563.9,752.4 L565.2,752.3 L566.4,751.6 L567.6,751.1 L568.9,750.7 L570.1,749.7 L571.3,749.0 L572.5,748.7 L573.8,748.0 L575.0,747.7 L576.2,746.6 L577.4,746.1 L578.8,744.8 L580.2,743.9 L581.6,742.7 L583.0,741.7 L584.4,740.6 L585.7,738.7 L587.1,738.0 L588.5,736.4 L589.9,734.8 L591.3,732.9 L592.6,731.3 L594.0,729.5 L595.4,727.6 L596.8,725.5 L598.2,723.7 L599.5,721.7 L600.9,719.5 L602.3,717.7 L603.7,715.4 L605.1,713.1 L606.5,710.5 L607.8,708.4 L609.2,706.4 L610.6,704.3 L612.0,702.5 L613.4,701.0 L614.7,699.5 L616.1,697.4 L617.5,696.1 L618.9,695.0 L620.3,693.3 L621.6,692.2 L623.0,690.9 L624.4,689.5 L625.8,688.7 L627.2,687.3 L628.6,686.7 L629.9,685.6 L631.3,684.3 L632.7,683.5 L634.1,682.0 L635.5,681.2 L636.8,680.0 L638.2,678.9 L639.6,678.5 L641.0,677.0 L642.4,676.7 L643.7,675.5 L645.1,674.8 L646.5,673.5 L647.9,673.3 L649.3,672.3 L650.7,671.0 L652.0,670.3 L653.4,669.4 L654.8,668.8 L656.2,667.9 L657.6,667.8 L658.9,667.0 L660.3,666.5" fill="none" stroke="#000" stroke-width="4.0" stroke-linejoin="round" stroke-linecap="butt"/>
<path d="M672.8,667.3 L674.1,667.3 L675.5,667.4 L676.9,667.5 L678.1,668.1 L679.4,667.7 L680.6,668.2 L681.8,667.8 L683.0,668.2 L684.3,668.0 L685.5,668.1 L686.7,668.5 L687.9,668.5 L689.2,668.8 L690.4,668.3 L691.6,668.4 L692.9,668.4 L694.1,668.5 L695.3,669.2 L696.5,668.9 L697.8,669.0 L699.0,668.9 L700.2,669.3 L701.4,669.3 L702.7,669.0 L703.9,668.9 L705.1,669.1 L706.4,669.6 L707.6,669.6 L708.8,669.2 L710.0,669.3 L711.3,669.4 L712.5,669.8 L713.7,670.0 L715.0,669.7 L716.2,669.9 L717.4,669.9 L718.6,670.5 L719.9,670.3 L721.1,670.7 L722.3,670.3 L723.5,670.7 L724.8,670.7 L726.0,671.1 L727.2,670.8 L728.5,670.8 L729.7,671.3 L730.9,671.5 L732.1,671.3 L733.4,671.2 L734.6,671.2 L735.8,671.5 L737.1,671.9 L738.3,671.6 L739.5,671.8 L740.7,672.0 L742.0,671.9 L743.2,671.9 L744.5,672.2 L745.7,672.6 L747.0,672.6 L748.2,672.3 L749.5,672.7 L750.8,672.7 L752.0,672.6" fill="none" stroke="#000" stroke-width="7.5" stroke-opacity="0.8" stroke-linejoin="round" stroke-linecap="butt"/>
<path d="M672.8,664.3 L674.1,664.3 L675.5,664.4 L676.9,664.5 L678.1,665.1 L679.4,664.7 L680.6,665.2 L681.8,664.8 L683.0,665.2 L684.3,665.0 L685.5,665.1 L686.7,665.5 L687.9,665.5 L689.2,665.8 L690.4,665.3 L691.6,665.4 L692.9,665.4 L694.1,665.5 L695.3,666.2 L696.5,665.9 L697.8,666.0 L699.0,665.9 L700.2,666.3 L701.4,666.3 L702.7,666.0 L703.9,665.9 L705.1,666.1 L706.4,666.6 L707.6,666.6 L708.8,666.2 L710.0,666.3 L711.3,666.4 L712.5,666.8 L713.7,667.0 L715.0,666.7 L716.2,666.9 L717.4,666.9 L718.6,667.5 L719.9,667.3 L721.1,667.7 L722.3,667.3 L723.5,667.7 L724.8,667.7 L726.0,668.1 L727.2,667.8 L728.5,667.8 L729.7,668.3 L730.9,668.5 L732.1,668.3 L733.4,668.2 L734.6,668.2 L735.8,668.5 L737.1,668.9 L738.3,668.6 L739.5,668.8 L740.7,669.0 L742.0,668.9 L743.2,668.9 L744.5,669.2 L745.7,669.6 L747.0,669.6 L748.2,669.3 L749.5,669.7 L750.8,669.7 L752.0,669.6 M672.8,670.3 L674.1,670.3 L675.5,670.4 L676.9,670.5 L678.1,671.1 L679.4,670.7 L680.6,671.2 L681.8,670.8 L683.0,671.2 L684.3,671.0 L685.5,671.1 L686.7,671.5 L687.9,671.5 L689.2,671.8 L690.4,671.3 L691.6,671.4 L692.9,671.4 L694.1,671.5 L695.3,672.2 L696.5,671.9 L697.8,672.0 L699.0,671.9 L700.2,672.3 L701.4,672.3 L702.7,672.0 L703.9,671.9 L705.1,672.1 L706.4,672.6 L707.6,672.6 L708.8,672.2 L710.0,672.3 L711.3,672.4 L712.5,672.8 L713.7,673.0 L715.0,672.7 L716.2,672.9 L717.4,672.9 L718.6,673.5 L719.9,673.3 L721.1,673.7 L722.3,673.3 L723.5,673.7 L724.8,673.7 L726.0,674.1 L727.2,673.8 L728.5,673.8 L729.7,674.3 L730.9,674.5 L732.1,674.3 L733.4,674.2 L734.6,674.2 L735.8,674.5 L737.1,674.9 L738.3,674.6 L739.5,674.8 L740.7,675.0 L742.0,674.9 L743.2,674.9 L744.5,675.2 L745.7,675.6 L747.0,675.6 L748.2,675.3 L749.5,675.7 L750.8,675.7 L752.0,675.6" fill="none" stroke="#000" stroke-width="1.1" stroke-opacity="0.85"/>
<path d="M788.5,756.1 L789.0,753.9 L790.6,751.6 L792.1,751.3 L793.6,750.5 L795.0,749.3 L796.4,750.3 L797.8,750.7 L799.2,750.8 L800.6,752.0 L802.0,751.7 L803.3,751.9 L804.7,752.1 L806.1,752.4 L807.5,752.2 L808.9,752.7 L810.2,752.9 L811.6,752.8 L813.0,753.2 L814.4,753.2 L815.8,753.5 L817.1,753.2 L818.5,753.5 L819.9,753.7 L821.3,753.5 L822.7,754.2 L824.1,754.1 L825.4,753.8 L826.8,754.3 L828.2,754.3 L829.6,754.6 L831.0,755.0 L832.3,755.6 L833.7,755.8 L835.1,757.2 L836.5,758.1 L837.9,758.8 L839.2,760.4 L840.6,760.0 L842.0,760.3 L843.4,761.0 L844.8,760.8 L846.2,761.1 L847.5,761.4 L848.9,761.4 L850.3,761.6 L851.7,762.4 L853.1,763.1 L854.4,763.5 L855.8,764.7 L857.2,764.6 L858.6,764.6 L860.0,765.1 L861.3,765.6 L862.7,765.4 L864.1,765.1 L865.5,765.1 L866.9,764.8 L868.3,765.1 L869.6,765.1 L871.0,765.0 L872.4,765.1 L873.8,765.4 L875.2,766.2 L876.5,766.7 L877.9,766.9 L879.2,766.7 L880.6,766.8 L881.9,767.6 L883.2,767.3 L884.6,767.4 L886.0,766.9 L887.5,766.2 L889.0,765.4 L890.4,764.1 L891.7,762.8 L893.1,761.7 L894.5,760.5 L895.9,759.8 L897.3,758.8 L898.6,757.9 L900.0,757.6 L901.4,756.6 L902.8,756.6 L904.2,756.0 L905.5,755.9 L906.9,755.5 L908.3,755.1 L909.7,754.8 L911.1,754.2 L912.5,753.8 L913.8,754.1 L915.2,753.5 L916.6,753.2 L917.8,753.6 L919.1,753.3 L920.3,752.8 L921.5,753.0 L922.7,752.6 L924.0,753.0 L925.2,752.4 L926.4,752.8 L927.6,752.4 L928.9,752.1 L930.1,752.3 L931.3,752.7 L932.6,752.5 L933.8,752.1 L935.0,752.3 L936.2,752.2 L937.5,752.1 L938.7,752.4 L939.9,752.4 L941.2,752.0 L942.4,752.2 L943.6,752.3 L944.8,752.3 L946.1,751.7 L947.3,751.5 L948.5,752.1 L949.7,751.6 L951.1,751.2 L952.5,751.4 L953.9,750.7 L955.3,750.7 L956.7,750.9 L958.0,750.8 L959.4,751.1 L960.8,751.1 L962.0,751.6 L963.3,751.4 L964.5,751.6 L965.7,752.2 L966.9,752.0 L968.2,752.2 L969.4,752.5 L970.6,752.3 L971.8,752.7 L973.1,753.4 L974.3,754.0 L975.5,753.9 L976.8,754.5 L978.0,754.6 L979.2,755.3 L980.4,755.6 L981.7,756.1 L982.9,756.4 L984.3,757.1 L985.7,758.3 L987.0,758.9 L988.4,759.3 L989.7,759.7 L991.1,760.3 L992.4,760.9 L993.7,761.5 L995.0,762.4 L997.3,751.7 L998.9,744.8 L1000.6,738.7 L1002.0,738.9 L1003.5,739.3 L1005.0,739.8 L1006.4,740.5 L1007.8,742.0 L1009.1,743.2 L1010.5,744.2 L1011.9,745.0 L1013.3,747.0 L1014.7,748.4 L1016.0,749.2 L1017.4,750.3 L1018.8,750.8 L1020.2,750.8 L1021.6,751.8 L1023.0,751.0 L1024.3,750.2 L1025.7,748.9 L1027.1,748.7 L1028.5,747.0 L1029.9,745.9 L1031.2,745.4 L1032.6,743.9 L1034.0,743.3 L1035.4,743.1 L1036.8,742.9 L1038.1,742.3 L1039.5,742.4 L1040.9,741.9 L1042.3,741.3 L1043.7,741.0 L1045.0,740.6 L1046.4,741.0 L1047.8,740.3 L1049.2,740.5 L1050.6,740.1 L1052.0,739.9 L1053.3,739.5 L1054.4,739.5" fill="none" stroke="#ef7f7f" stroke-width="2.8" stroke-linejoin="round" stroke-linecap="round"/>
<path d="M788.5,753.7 L788.5,758.5 M786.9,753.7 L790.1,753.7 M786.9,758.5 L790.1,758.5 M792.1,749.4 L792.1,753.1 M790.5,749.4 L793.7,749.4 M790.5,753.1 L793.7,753.1 M795.0,747.0 L795.0,751.6 M793.4,747.0 L796.6,747.0 M793.4,751.6 L796.6,751.6 M797.8,748.1 L797.8,753.2 M796.2,748.1 L799.4,748.1 M796.2,753.2 L799.4,753.2 M800.6,749.0 L800.6,755.0 M799.0,749.0 L802.2,749.0 M799.0,755.0 L802.2,755.0 M803.3,749.9 L803.3,753.9 M801.7,749.9 L804.9,749.9 M801.7,753.9 L804.9,753.9 M806.1,750.5 L806.1,754.4 M804.5,750.5 L807.7,750.5 M804.5,754.4 L807.7,754.4 M808.9,749.9 L808.9,755.5 M807.3,749.9 L810.5,749.9 M807.3,755.5 L810.5,755.5 M811.6,750.9 L811.6,754.7 M810.0,750.9 L813.2,750.9 M810.0,754.7 L813.2,754.7 M814.4,751.3 L814.4,755.2 M812.8,751.3 L816.0,751.3 M812.8,755.2 L816.0,755.2 M817.1,750.9 L817.1,755.6 M815.5,750.9 L818.7,750.9 M815.5,755.6 L818.7,755.6 M819.9,751.4 L819.9,755.9 M818.3,751.4 L821.5,751.4 M818.3,755.9 L821.5,755.9 M822.7,751.2 L822.7,757.3 M821.1,751.2 L824.3,751.2 M821.1,757.3 L824.3,757.3 M825.4,752.1 L825.4,755.6 M823.8,752.1 L827.0,752.1 M823.8,755.6 L827.0,755.6 M828.2,751.4 L828.2,757.2 M826.6,751.4 L829.8,751.4 M826.6,757.2 L829.8,757.2 M831.0,752.7 L831.0,757.3 M829.4,752.7 L832.6,752.7 M829.4,757.3 L832.6,757.3 M833.7,753.9 L833.7,757.7 M832.1,753.9 L835.3,753.9 M832.1,757.7 L835.3,757.7 M836.5,756.1 L836.5,760.1 M834.9,756.1 L838.1,756.1 M834.9,760.1 L838.1,760.1 M839.2,757.4 L839.2,763.3 M837.6,757.4 L840.8,757.4 M837.6,763.3 L840.8,763.3 M842.0,758.4 L842.0,762.2 M840.4,758.4 L843.6,758.4 M840.4,762.2 L843.6,762.2 M844.8,758.5 L844.8,763.1 M843.2,758.5 L846.4,758.5 M843.2,763.1 L846.4,763.1 M847.5,759.6 L847.5,763.1 M845.9,759.6 L849.1,759.6 M845.9,763.1 L849.1,763.1 M850.3,759.3 L850.3,764.0 M848.7,759.3 L851.9,759.3 M848.7,764.0 L851.9,764.0 M853.1,760.4 L853.1,765.7 M851.5,760.4 L854.7,760.4 M851.5,765.7 L854.7,765.7 M855.8,762.0 L855.8,767.4 M854.2,762.0 L857.4,762.0 M854.2,767.4 L857.4,767.4 M858.6,762.5 L858.6,766.8 M857.0,762.5 L860.2,762.5 M857.0,766.8 L860.2,766.8 M861.3,763.3 L861.3,767.9 M859.7,763.3 L862.9,763.3 M859.7,767.9 L862.9,767.9 M864.1,762.3 L864.1,768.0 M862.5,762.3 L865.7,762.3 M862.5,768.0 L865.7,768.0 M866.9,761.9 L866.9,767.7 M865.3,761.9 L868.5,761.9 M865.3,767.7 L868.5,767.7 M869.6,762.8 L869.6,767.4 M868.0,762.8 L871.2,762.8 M868.0,767.4 L871.2,767.4 M872.4,763.4 L872.4,766.9 M870.8,763.4 L874.0,763.4 M870.8,766.9 L874.0,766.9 M875.2,763.2 L875.2,769.2 M873.6,763.2 L876.8,763.2 M873.6,769.2 L876.8,769.2 M877.9,764.7 L877.9,769.1 M876.3,764.7 L879.5,764.7 M876.3,769.1 L879.5,769.1 M880.6,764.5 L880.6,769.2 M879.0,764.5 L882.2,764.5 M879.0,769.2 L882.2,769.2 M883.2,765.6 L883.2,769.1 M881.6,765.6 L884.8,765.6 M881.6,769.1 L884.8,769.1 M886.0,765.2 L886.0,768.6 M884.4,765.2 L887.6,765.2 M884.4,768.6 L887.6,768.6 M889.0,763.6 L889.0,767.3 M887.4,763.6 L890.6,763.6 M887.4,767.3 L890.6,767.3 M891.7,760.4 L891.7,765.3 M890.1,760.4 L893.3,760.4 M890.1,765.3 L893.3,765.3 M894.5,758.5 L894.5,762.6 M892.9,758.5 L896.1,758.5 M892.9,762.6 L896.1,762.6 M897.3,756.1 L897.3,761.6 M895.7,756.1 L898.9,756.1 M895.7,761.6 L898.9,761.6 M900.0,755.7 L900.0,759.4 M898.4,755.7 L901.6,755.7 M898.4,759.4 L901.6,759.4 M902.8,754.0 L902.8,759.2 M901.2,754.0 L904.4,754.0 M901.2,759.2 L904.4,759.2 M905.5,754.2 L905.5,757.6 M903.9,754.2 L907.1,754.2 M903.9,757.6 L907.1,757.6 M908.3,752.9 L908.3,757.2 M906.7,752.9 L909.9,752.9 M906.7,757.2 L909.9,757.2 M911.1,751.2 L911.1,757.2 M909.5,751.2 L912.7,751.2 M909.5,757.2 L912.7,757.2 M913.8,752.0 L913.8,756.1 M912.2,752.0 L915.4,752.0 M912.2,756.1 L915.4,756.1 M916.6,751.1 L916.6,755.3 M915.0,751.1 L918.2,751.1 M915.0,755.3 L918.2,755.3 M920.3,751.0 L920.3,754.5 M918.7,751.0 L921.9,751.0 M918.7,754.5 L921.9,754.5 M924.0,750.1 L924.0,755.9 M922.4,750.1 L925.6,750.1 M922.4,755.9 L925.6,755.9 M927.6,750.1 L927.6,754.8 M926.0,750.1 L929.2,750.1 M926.0,754.8 L929.2,754.8 M931.3,750.7 L931.3,754.7 M929.7,750.7 L932.9,750.7 M929.7,754.7 L932.9,754.7 M935.0,749.8 L935.0,754.7 M933.4,749.8 L936.6,749.8 M933.4,754.7 L936.6,754.7 M938.7,750.4 L938.7,754.5 M937.1,750.4 L940.3,750.4 M937.1,754.5 L940.3,754.5 M942.4,749.3 L942.4,755.1 M940.8,749.3 L944.0,749.3 M940.8,755.1 L944.0,755.1 M946.1,749.4 L946.1,754.0 M944.5,749.4 L947.7,749.4 M944.5,754.0 L947.7,754.0 M949.7,749.8 L949.7,753.3 M948.1,749.8 L951.3,749.8 M948.1,753.3 L951.3,753.3 M952.5,749.4 L952.5,753.3 M950.9,749.4 L954.1,749.4 M950.9,753.3 L954.1,753.3 M955.3,749.0 L955.3,752.5 M953.7,749.0 L956.9,749.0 M953.7,752.5 L956.9,752.5 M958.0,748.0 L958.0,753.5 M956.4,748.0 L959.6,748.0 M956.4,753.5 L959.6,753.5 M960.8,749.3 L960.8,752.9 M959.2,749.3 L962.4,749.3 M959.2,752.9 L962.4,752.9 M964.5,749.3 L964.5,754.0 M962.9,749.3 L966.1,749.3 M962.9,754.0 L966.1,754.0 M968.2,749.7 L968.2,754.8 M966.6,749.7 L969.8,749.7 M966.6,754.8 L969.8,754.8 M971.8,750.8 L971.8,754.5 M970.2,750.8 L973.4,750.8 M970.2,754.5 L973.4,754.5 M975.5,751.4 L975.5,756.5 M973.9,751.4 L977.1,751.4 M973.9,756.5 L977.1,756.5 M979.2,752.7 L979.2,757.9 M977.6,752.7 L980.8,752.7 M977.6,757.9 L980.8,757.9 M982.9,753.4 L982.9,759.4 M981.3,753.4 L984.5,753.4 M981.3,759.4 L984.5,759.4 M985.7,755.3 L985.7,761.3 M984.1,755.3 L987.3,755.3 M984.1,761.3 L987.3,761.3 M988.4,756.3 L988.4,762.4 M986.8,756.3 L990.0,756.3 M986.8,762.4 L990.0,762.4 M991.1,757.8 L991.1,762.7 M989.5,757.8 L992.7,757.8 M989.5,762.7 L992.7,762.7 M993.7,759.1 L993.7,763.8 M992.1,759.1 L995.3,759.1 M992.1,763.8 L995.3,763.8 M997.3,749.4 L997.3,754.0 M995.7,749.4 L998.9,749.4 M995.7,754.0 L998.9,754.0 M1000.6,736.8 L1000.6,740.6 M999.0,736.8 L1002.2,736.8 M999.0,740.6 L1002.2,740.6 M1003.5,736.8 L1003.5,741.8 M1001.9,736.8 L1005.1,736.8 M1001.9,741.8 L1005.1,741.8 M1006.4,737.4 L1006.4,743.6 M1004.8,737.4 L1008.0,737.4 M1004.8,743.6 L1008.0,743.6 M1009.1,740.8 L1009.1,745.6 M1007.5,740.8 L1010.7,740.8 M1007.5,745.6 L1010.7,745.6 M1011.9,742.1 L1011.9,747.9 M1010.3,742.1 L1013.5,742.1 M1010.3,747.9 L1013.5,747.9 M1014.7,746.4 L1014.7,750.5 M1013.1,746.4 L1016.3,746.4 M1013.1,750.5 L1016.3,750.5 M1017.4,748.1 L1017.4,752.5 M1015.8,748.1 L1019.0,748.1 M1015.8,752.5 L1019.0,752.5 M1020.2,748.5 L1020.2,753.1 M1018.6,748.5 L1021.8,748.5 M1018.6,753.1 L1021.8,753.1 M1023.0,748.0 L1023.0,754.1 M1021.4,748.0 L1024.6,748.0 M1021.4,754.1 L1024.6,754.1 M1025.7,746.7 L1025.7,751.1 M1024.1,746.7 L1027.3,746.7 M1024.1,751.1 L1027.3,751.1 M1028.5,744.2 L1028.5,749.7 M1026.9,744.2 L1030.1,744.2 M1026.9,749.7 L1030.1,749.7 M1031.2,743.5 L1031.2,747.3 M1029.6,743.5 L1032.8,743.5 M1029.6,747.3 L1032.8,747.3 M1034.0,740.6 L1034.0,746.1 M1032.4,740.6 L1035.6,740.6 M1032.4,746.1 L1035.6,746.1 M1036.8,740.5 L1036.8,745.2 M1035.2,740.5 L1038.4,740.5 M1035.2,745.2 L1038.4,745.2 M1039.5,739.3 L1039.5,745.4 M1037.9,739.3 L1041.1,739.3 M1037.9,745.4 L1041.1,745.4 M1042.3,739.6 L1042.3,743.0 M1040.7,739.6 L1043.9,739.6 M1040.7,743.0 L1043.9,743.0 M1045.0,738.6 L1045.0,742.6 M1043.4,738.6 L1046.6,738.6 M1043.4,742.6 L1046.6,742.6 M1047.8,737.4 L1047.8,743.2 M1046.2,737.4 L1049.4,737.4 M1046.2,743.2 L1049.4,743.2 M1050.6,737.8 L1050.6,742.4 M1049.0,737.8 L1052.2,737.8 M1049.0,742.4 L1052.2,742.4 M1053.3,737.4 L1053.3,741.6 M1051.7,737.4 L1054.9,737.4 M1051.7,741.6 L1054.9,741.6" fill="none" stroke="#ef7f7f" stroke-width="0.9"/>
<path d="M788.5,641.2 L789.0,638.4 L790.6,635.8 L792.1,637.7 L793.6,639.9 L795.0,642.4 L796.4,641.7 L797.8,641.9 L799.2,641.7 L800.6,640.9 L802.0,641.1 L803.3,640.6 L804.7,640.5 L806.1,640.4 L807.5,640.3 L808.9,639.7 L810.2,639.8 L811.6,639.6 L813.0,639.7 L814.4,638.9 L815.8,639.4 L817.1,638.8 L818.5,638.6 L819.9,638.8 L821.3,638.9 L822.7,638.9 L824.1,638.3 L825.4,638.4 L826.8,637.7 L828.2,638.2 L829.6,637.2 L831.0,636.8 L832.3,636.0 L833.7,635.4 L835.1,634.2 L836.5,633.5 L837.9,632.4 L839.2,631.5 L840.9,630.4 L842.6,629.0 L843.9,629.8 L845.3,629.9 L846.7,631.0 L848.1,631.1 L849.4,630.8 L850.7,629.7 L852.0,629.0 L853.2,628.3 L854.5,627.3 L855.8,626.5 L857.2,626.7 L858.6,626.7 L860.0,626.0 L861.3,626.1 L862.7,626.2 L864.1,626.7 L865.5,627.0 L866.9,626.5 L868.3,626.7 L869.6,626.2 L871.0,626.5 L872.4,626.5 L873.8,626.1 L875.2,625.8 L876.5,625.2 L877.9,625.0 L879.2,624.8 L880.6,624.3 L881.9,624.0 L883.2,624.2 L884.6,623.4 L886.0,624.5 L887.5,625.2 L889.0,625.9 L890.4,627.0 L891.7,627.9 L893.1,628.6 L894.5,629.7 L895.9,630.6 L897.3,631.3 L898.6,632.2 L900.0,633.5 L901.4,634.2 L902.8,635.2 L904.2,635.7 L905.5,636.6 L906.9,636.7 L908.3,637.2 L909.7,637.7 L911.1,637.6 L912.5,637.7 L913.8,638.2 L915.2,638.2 L916.6,638.5 L917.8,638.3 L919.1,638.5 L920.3,638.6 L921.5,639.0 L922.7,638.7 L924.0,638.8 L925.2,639.4 L926.4,639.3 L927.6,639.1 L928.9,639.8 L930.1,639.6 L931.3,640.0 L932.6,639.8 L933.8,639.8 L935.0,639.8 L936.2,639.7 L937.5,640.3 L938.7,640.1 L939.9,640.0 L941.2,640.0 L942.4,640.4 L943.6,640.7 L944.8,640.4 L946.1,640.8 L947.3,640.7 L948.5,640.7 L949.7,640.9 L951.0,641.0 L952.2,641.2 L953.4,640.6 L954.7,640.7 L955.9,640.8 L957.1,640.7 L958.3,640.9 L959.6,641.1 L960.8,641.0 L962.0,641.0 L963.3,640.5 L964.5,640.9 L965.7,640.6 L966.9,639.9 L968.2,639.8 L969.4,640.0 L970.6,639.4 L971.8,639.6 L973.1,638.7 L974.3,638.7 L975.5,638.3 L976.8,637.8 L978.0,637.5 L979.2,637.2 L980.4,636.8 L981.7,635.8 L982.9,635.7 L984.3,634.6 L985.7,634.2 L987.0,633.0 L988.4,632.1 L989.8,631.4 L991.2,630.7 L992.6,630.2 L993.9,629.5 L996.2,630.2 L997.8,640.3 L999.5,650.2 L1001.7,653.2 L1003.3,651.5 L1005.0,650.2 L1006.4,649.1 L1007.8,648.5 L1009.1,647.9 L1010.5,646.8 L1011.9,645.6 L1013.3,644.2 L1014.7,643.2 L1016.0,642.6 L1017.4,641.2 L1018.8,640.3 L1020.2,639.9 L1021.6,638.9 L1023.0,639.6 L1024.3,639.9 L1025.7,640.5 L1027.1,641.0 L1028.5,642.6 L1029.9,643.8 L1031.2,644.5 L1032.6,646.2 L1034.0,647.0 L1035.4,647.5 L1036.8,647.9 L1038.1,648.6 L1039.5,649.7 L1040.9,649.4 L1042.3,649.7 L1043.7,650.2 L1045.0,650.9 L1046.4,651.2 L1047.8,651.2 L1049.2,651.5 L1050.6,651.6 L1052.0,651.4 L1053.3,651.9 L1054.4,652.2" fill="none" stroke="#0f7d7d" stroke-width="2.8" stroke-linejoin="round" stroke-linecap="round"/>
<path d="M788.5,638.6 L788.5,643.8 M786.9,638.6 L790.1,638.6 M786.9,643.8 L790.1,643.8 M792.1,635.0 L792.1,640.3 M790.5,635.0 L793.7,635.0 M790.5,640.3 L793.7,640.3 M795.0,639.6 L795.0,645.1 M793.4,639.6 L796.6,639.6 M793.4,645.1 L796.6,645.1 M797.8,639.3 L797.8,644.6 M796.2,639.3 L799.4,639.3 M796.2,644.6 L799.4,644.6 M800.6,639.0 L800.6,642.7 M799.0,639.0 L802.2,639.0 M799.0,642.7 L802.2,642.7 M803.3,638.4 L803.3,642.9 M801.7,638.4 L804.9,638.4 M801.7,642.9 L804.9,642.9 M806.1,637.4 L806.1,643.4 M804.5,637.4 L807.7,637.4 M804.5,643.4 L807.7,643.4 M808.9,637.1 L808.9,642.3 M807.3,637.1 L810.5,637.1 M807.3,642.3 L810.5,642.3 M811.6,637.7 L811.6,641.6 M810.0,637.7 L813.2,637.7 M810.0,641.6 L813.2,641.6 M814.4,636.6 L814.4,641.1 M812.8,636.6 L816.0,636.6 M812.8,641.1 L816.0,641.1 M817.1,635.8 L817.1,641.8 M815.5,635.8 L818.7,635.8 M815.5,641.8 L818.7,641.8 M819.9,636.8 L819.9,640.9 M818.3,636.8 L821.5,636.8 M818.3,640.9 L821.5,640.9 M822.7,637.0 L822.7,640.7 M821.1,637.0 L824.3,637.0 M821.1,640.7 L824.3,640.7 M825.4,635.6 L825.4,641.3 M823.8,635.6 L827.0,635.6 M823.8,641.3 L827.0,641.3 M828.2,635.6 L828.2,640.8 M826.6,635.6 L829.8,635.6 M826.6,640.8 L829.8,640.8 M831.0,634.6 L831.0,639.0 M829.4,634.6 L832.6,634.6 M829.4,639.0 L832.6,639.0 M833.7,633.0 L833.7,637.7 M832.1,633.0 L835.3,633.0 M832.1,637.7 L835.3,637.7 M836.5,631.5 L836.5,635.6 M834.9,631.5 L838.1,631.5 M834.9,635.6 L838.1,635.6 M839.2,628.8 L839.2,634.1 M837.6,628.8 L840.8,628.8 M837.6,634.1 L840.8,634.1 M842.6,626.9 L842.6,631.1 M841.0,626.9 L844.2,626.9 M841.0,631.1 L844.2,631.1 M845.3,627.5 L845.3,632.4 M843.7,627.5 L846.9,627.5 M843.7,632.4 L846.9,632.4 M848.1,628.1 L848.1,634.1 M846.5,628.1 L849.7,628.1 M846.5,634.1 L849.7,634.1 M852.0,626.4 L852.0,631.6 M850.4,626.4 L853.6,626.4 M850.4,631.6 L853.6,631.6 M855.8,624.4 L855.8,628.7 M854.2,624.4 L857.4,624.4 M854.2,628.7 L857.4,628.7 M858.6,624.8 L858.6,628.5 M857.0,624.8 L860.2,624.8 M857.0,628.5 L860.2,628.5 M861.3,623.7 L861.3,628.5 M859.7,623.7 L862.9,623.7 M859.7,628.5 L862.9,628.5 M864.1,625.0 L864.1,628.4 M862.5,625.0 L865.7,625.0 M862.5,628.4 L865.7,628.4 M866.9,623.8 L866.9,629.3 M865.3,623.8 L868.5,623.8 M865.3,629.3 L868.5,629.3 M869.6,623.9 L869.6,628.6 M868.0,623.9 L871.2,623.9 M868.0,628.6 L871.2,628.6 M872.4,624.2 L872.4,628.8 M870.8,624.2 L874.0,624.2 M870.8,628.8 L874.0,628.8 M875.2,623.7 L875.2,627.9 M873.6,623.7 L876.8,623.7 M873.6,627.9 L876.8,627.9 M877.9,622.3 L877.9,627.7 M876.3,622.3 L879.5,622.3 M876.3,627.7 L879.5,627.7 M880.6,622.0 L880.6,626.6 M879.0,622.0 L882.2,622.0 M879.0,626.6 L882.2,626.6 M883.2,621.9 L883.2,626.5 M881.6,621.9 L884.8,621.9 M881.6,626.5 L884.8,626.5 M886.0,622.6 L886.0,626.5 M884.4,622.6 L887.6,622.6 M884.4,626.5 L887.6,626.5 M889.0,624.1 L889.0,627.7 M887.4,624.1 L890.6,624.1 M887.4,627.7 L890.6,627.7 M891.7,626.1 L891.7,629.6 M890.1,626.1 L893.3,626.1 M890.1,629.6 L893.3,629.6 M894.5,627.7 L894.5,631.7 M892.9,627.7 L896.1,627.7 M892.9,631.7 L896.1,631.7 M897.3,628.5 L897.3,634.0 M895.7,628.5 L898.9,628.5 M895.7,634.0 L898.9,634.0 M900.0,630.9 L900.0,636.1 M898.4,630.9 L901.6,630.9 M898.4,636.1 L901.6,636.1 M902.8,633.3 L902.8,637.2 M901.2,633.3 L904.4,633.3 M901.2,637.2 L904.4,637.2 M905.5,634.8 L905.5,638.3 M903.9,634.8 L907.1,634.8 M903.9,638.3 L907.1,638.3 M908.3,635.1 L908.3,639.2 M906.7,635.1 L909.9,635.1 M906.7,639.2 L909.9,639.2 M911.1,634.9 L911.1,640.2 M909.5,634.9 L912.7,634.9 M909.5,640.2 L912.7,640.2 M913.8,636.1 L913.8,640.2 M912.2,636.1 L915.4,636.1 M912.2,640.2 L915.4,640.2 M916.6,636.2 L916.6,640.8 M915.0,636.2 L918.2,636.2 M915.0,640.8 L918.2,640.8 M920.3,636.7 L920.3,640.4 M918.7,636.7 L921.9,636.7 M918.7,640.4 L921.9,640.4 M924.0,636.0 L924.0,641.6 M922.4,636.0 L925.6,636.0 M922.4,641.6 L925.6,641.6 M927.6,636.6 L927.6,641.6 M926.0,636.6 L929.2,636.6 M926.0,641.6 L929.2,641.6 M931.3,637.7 L931.3,642.3 M929.7,637.7 L932.9,637.7 M929.7,642.3 L932.9,642.3 M935.0,636.7 L935.0,642.9 M933.4,636.7 L936.6,636.7 M933.4,642.9 L936.6,642.9 M938.7,637.7 L938.7,642.4 M937.1,637.7 L940.3,637.7 M937.1,642.4 L940.3,642.4 M942.4,638.3 L942.4,642.4 M940.8,638.3 L944.0,638.3 M940.8,642.4 L944.0,642.4 M946.1,638.1 L946.1,643.4 M944.5,638.1 L947.7,638.1 M944.5,643.4 L947.7,643.4 M949.7,637.9 L949.7,643.9 M948.1,637.9 L951.3,637.9 M948.1,643.9 L951.3,643.9 M953.4,638.0 L953.4,643.1 M951.8,638.0 L955.0,638.0 M951.8,643.1 L955.0,643.1 M957.1,637.8 L957.1,643.7 M955.5,637.8 L958.7,637.8 M955.5,643.7 L958.7,643.7 M960.8,638.5 L960.8,643.5 M959.2,638.5 L962.4,638.5 M959.2,643.5 L962.4,643.5 M964.5,638.8 L964.5,643.0 M962.9,638.8 L966.1,638.8 M962.9,643.0 L966.1,643.0 M968.2,637.2 L968.2,642.4 M966.6,637.2 L969.8,637.2 M966.6,642.4 L969.8,642.4 M971.8,637.8 L971.8,641.4 M970.2,637.8 L973.4,637.8 M970.2,641.4 L973.4,641.4 M975.5,635.2 L975.5,641.4 M973.9,635.2 L977.1,635.2 M973.9,641.4 L977.1,641.4 M979.2,634.8 L979.2,639.6 M977.6,634.8 L980.8,634.8 M977.6,639.6 L980.8,639.6 M982.9,633.9 L982.9,637.4 M981.3,633.9 L984.5,633.9 M981.3,637.4 L984.5,637.4 M985.7,632.1 L985.7,636.3 M984.1,632.1 L987.3,632.1 M984.1,636.3 L987.3,636.3 M988.4,629.6 L988.4,634.7 M986.8,629.6 L990.0,629.6 M986.8,634.7 L990.0,634.7 M991.2,627.8 L991.2,633.6 M989.6,627.8 L992.8,627.8 M989.6,633.6 L992.8,633.6 M993.9,626.5 L993.9,632.5 M992.3,626.5 L995.5,626.5 M992.3,632.5 L995.5,632.5 M997.8,638.1 L997.8,642.5 M996.2,638.1 L999.4,638.1 M996.2,642.5 L999.4,642.5 M1001.7,650.3 L1001.7,656.2 M1000.1,650.3 L1003.3,650.3 M1000.1,656.2 L1003.3,656.2 M1005.0,647.8 L1005.0,652.6 M1003.4,647.8 L1006.6,647.8 M1003.4,652.6 L1006.6,652.6 M1007.8,646.0 L1007.8,651.0 M1006.2,646.0 L1009.4,646.0 M1006.2,651.0 L1009.4,651.0 M1010.5,643.9 L1010.5,649.7 M1008.9,643.9 L1012.1,643.9 M1008.9,649.7 L1012.1,649.7 M1013.3,641.5 L1013.3,646.9 M1011.7,641.5 L1014.9,641.5 M1011.7,646.9 L1014.9,646.9 M1016.0,640.1 L1016.0,645.1 M1014.4,640.1 L1017.6,640.1 M1014.4,645.1 L1017.6,645.1 M1018.8,638.6 L1018.8,642.0 M1017.2,638.6 L1020.4,638.6 M1017.2,642.0 L1020.4,642.0 M1021.6,636.7 L1021.6,641.0 M1020.0,636.7 L1023.2,636.7 M1020.0,641.0 L1023.2,641.0 M1024.3,637.2 L1024.3,642.6 M1022.7,637.2 L1025.9,637.2 M1022.7,642.6 L1025.9,642.6 M1027.1,638.8 L1027.1,643.3 M1025.5,638.8 L1028.7,638.8 M1025.5,643.3 L1028.7,643.3 M1029.9,642.0 L1029.9,645.5 M1028.3,642.0 L1031.5,642.0 M1028.3,645.5 L1031.5,645.5 M1032.6,643.3 L1032.6,649.1 M1031.0,643.3 L1034.2,643.3 M1031.0,649.1 L1034.2,649.1 M1035.4,645.3 L1035.4,649.7 M1033.8,645.3 L1037.0,645.3 M1033.8,649.7 L1037.0,649.7 M1038.1,645.9 L1038.1,651.3 M1036.5,645.9 L1039.7,645.9 M1036.5,651.3 L1039.7,651.3 M1040.9,647.3 L1040.9,651.6 M1039.3,647.3 L1042.5,647.3 M1039.3,651.6 L1042.5,651.6 M1043.7,648.0 L1043.7,652.4 M1042.1,648.0 L1045.3,648.0 M1042.1,652.4 L1045.3,652.4 M1046.4,648.7 L1046.4,653.7 M1044.8,648.7 L1048.0,648.7 M1044.8,653.7 L1048.0,653.7 M1049.2,649.1 L1049.2,653.8 M1047.6,649.1 L1050.8,649.1 M1047.6,653.8 L1050.8,653.8 M1052.0,648.4 L1052.0,654.4 M1050.4,648.4 L1053.6,648.4 M1050.4,654.4 L1053.6,654.4" fill="none" stroke="#0f7d7d" stroke-width="0.9"/>
<path d="M788.5,749.5 L788.6,749.0 L789.9,748.6 L791.2,748.2 L792.5,747.7 L793.8,747.3 L795.0,746.9 L796.3,746.7 L797.5,746.7 L798.7,745.9 L800.0,745.5 L801.2,745.8 L802.4,745.2 L803.6,745.0 L804.9,745.1 L806.1,744.4 L807.3,744.7 L808.6,744.2 L809.8,743.7 L811.0,744.1 L812.2,743.7 L813.5,743.2 L814.7,743.5 L815.9,743.2 L817.1,743.0 L818.4,742.9 L819.6,743.1 L820.8,742.3 L822.1,742.9 L823.3,742.6 L824.5,742.2 L825.7,742.4 L827.0,742.2 L828.2,742.3 L829.4,742.3 L830.7,742.2 L831.9,741.8 L833.1,742.0 L834.3,741.9 L835.6,742.2 L836.8,742.3 L838.0,742.2 L839.2,742.0 L840.5,741.7 L841.7,742.1 L842.9,741.7 L844.2,742.2 L845.4,741.6 L846.6,742.2 L847.8,741.5 L849.1,742.0 L850.3,741.6 L851.5,741.7 L852.8,741.5 L854.0,741.4 L855.2,741.4 L856.4,741.6 L857.7,741.2 L858.9,741.1 L860.1,741.4 L861.3,740.9 L862.6,740.9 L863.8,740.9 L865.0,740.8 L866.3,740.5 L867.5,740.8 L868.7,740.5 L869.9,740.1 L871.2,740.2 L872.4,739.9 L873.6,739.9 L874.9,739.5 L876.1,739.4 L877.3,739.5 L878.5,739.4 L879.8,738.9 L881.0,738.8 L882.2,738.6 L883.4,738.5 L884.8,738.2 L886.2,737.1 L887.6,737.0 L889.0,736.3 L890.4,735.7 L891.7,734.7 L893.1,733.4 L894.5,732.6 L895.9,732.2 L897.3,730.9 L898.6,730.2 L900.0,728.9 L901.4,728.1 L902.8,726.9 L904.2,725.8 L905.5,724.4 L906.9,723.7 L908.3,722.4 L909.7,721.1 L911.1,719.7 L912.5,718.2 L913.8,716.9 L915.2,716.1 L916.6,714.4 L918.0,713.2 L919.4,712.2 L920.7,710.5 L922.1,709.6 L923.5,707.8 L924.9,707.0 L926.3,705.3 L927.6,703.9 L929.0,702.9 L930.4,701.9 L931.8,700.1 L933.2,699.2 L934.6,698.1 L935.9,696.3 L937.3,695.4 L938.7,694.1 L940.1,693.1 L941.5,692.3 L942.8,690.9 L944.2,689.7 L945.6,688.5 L947.0,687.8 L948.4,686.3 L949.7,685.5 L951.1,684.8 L952.5,683.7 L953.9,682.9 L955.3,681.4 L956.7,680.7 L958.0,679.7 L959.4,678.4 L960.8,677.6 L962.2,676.7 L963.6,675.7 L964.9,675.1 L966.3,674.1 L967.7,673.7 L969.1,672.2 L970.5,671.6 L971.8,670.7 L973.2,669.4 L974.6,669.2 L976.0,668.4 L977.4,667.3 L978.8,666.5 L980.1,665.9 L981.5,664.9 L982.9,663.8 L984.3,663.7 L985.7,662.5 L987.0,662.2 L988.4,661.6 L989.8,661.2 L991.2,660.4 L992.6,660.1 L993.9,659.3 L995.6,659.3 L997.3,658.6 L998.5,659.1 L999.8,659.6 L1001.1,660.1 L1002.4,660.6 L1003.7,661.0 L1005.0,661.1 L1006.2,661.0 L1007.4,661.5 L1008.7,661.7 L1009.9,662.0 L1011.1,661.8 L1012.4,662.5 L1013.6,662.2 L1014.8,662.9 L1016.0,663.2 L1017.3,663.0 L1018.5,663.0 L1019.7,663.3 L1021.0,663.0 L1022.2,663.5 L1023.4,663.7 L1024.6,663.8 L1025.9,663.8 L1027.1,663.9 L1028.3,664.2 L1029.5,663.9 L1030.8,663.9 L1032.0,664.5 L1033.2,663.9 L1034.5,664.2 L1035.7,664.6 L1036.9,664.8 L1038.1,664.8 L1039.4,664.5 L1040.6,665.0 L1041.8,664.7 L1043.1,665.0 L1044.3,665.2 L1045.5,665.6 L1046.7,665.1 L1048.0,665.3 L1049.2,665.4 L1050.6,665.5 L1052.0,665.5 L1053.3,665.8 L1054.4,666.0" fill="none" stroke="#000" stroke-width="2.4" stroke-linejoin="round" stroke-linecap="round"/>
<path d="M883.4,738.5 L884.8,738.2 L886.2,737.1 L887.6,737.0 L889.0,736.3 L890.4,735.7 L891.7,734.7 L893.1,733.4 L894.5,732.6 L895.9,732.2 L897.3,730.9 L898.6,730.2 L900.0,728.9 L901.4,728.1 L902.8,726.9 L904.2,725.8 L905.5,724.4 L906.9,723.7 L908.3,722.4 L909.7,721.1 L911.1,719.7 L912.5,718.2 L913.8,716.9 L915.2,716.1 L916.6,714.4 L918.0,713.2 L919.4,712.2 L920.7,710.5 L922.1,709.6 L923.5,707.8 L924.9,707.0 L926.3,705.3 L927.6,703.9 L929.0,702.9 L930.4,701.9 L931.8,700.1 L933.2,699.2 L934.6,698.1 L935.9,696.3 L937.3,695.4 L938.7,694.1 L940.1,693.1 L941.5,692.3 L942.8,690.9 L944.2,689.7 L945.6,688.5 L947.0,687.8 L948.4,686.3 L949.7,685.5 L951.1,684.8 L952.5,683.7 L953.9,682.9 L955.3,681.4 L956.7,680.7 L958.0,679.7 L959.4,678.4 L960.8,677.6 L962.2,676.7 L963.6,675.7 L964.9,675.1 L966.3,674.1 L967.7,673.7 L969.1,672.2 L970.5,671.6 L971.8,670.7 L973.2,669.4 L974.6,669.2 L976.0,668.4 L977.4,667.3 L978.8,666.5 L980.1,665.9 L981.5,664.9 L982.9,663.8 L984.3,663.7 L985.7,662.5 L987.0,662.2 L988.4,661.6 L989.8,661.2 L991.2,660.4 L992.6,660.1 L993.9,659.3 L995.6,659.3 L997.3,658.6 L998.5,659.1 L999.8,659.6 L1001.1,660.1 L1002.4,660.6 L1003.7,661.0 L1005.0,661.1 L1006.2,661.0 L1007.4,661.5 L1008.7,661.7 L1009.9,662.0 L1011.1,661.8 L1012.4,662.5 L1013.6,662.2 L1014.8,662.9 L1016.0,663.2 L1017.3,663.0 L1018.5,663.0 L1019.7,663.3 L1021.0,663.0 L1022.2,663.5 L1023.4,663.7 L1024.6,663.8 L1025.9,663.8 L1027.1,663.9 L1028.3,664.2 L1029.5,663.9 L1030.8,663.9 L1032.0,664.5 L1033.2,663.9 L1034.5,664.2 L1035.7,664.6 L1036.9,664.8 L1038.1,664.8 L1039.4,664.5 L1040.6,665.0 L1041.8,664.7 L1043.1,665.0 L1044.3,665.2 L1045.5,665.6 L1046.7,665.1 L1048.0,665.3 L1049.2,665.4 L1050.6,665.5 L1052.0,665.5 L1053.3,665.8 L1054.4,666.0" fill="none" stroke="#000" stroke-width="5.6" stroke-linejoin="round" stroke-linecap="butt"/>
<text transform="translate(79.6,272.0) rotate(-90)" font-size="28.5"><tspan fill="#1b8e8e" font-style="italic">lys2</tspan><tspan fill="#1b8e8e">&#916;</tspan><tspan fill="#de6a6a">-</tspan><tspan fill="#de6a6a" font-style="italic">ade8</tspan><tspan fill="#de6a6a">&#916;</tspan></text>
<text transform="translate(112.9,278.0) rotate(-90)" font-size="29.5">Population (%)</text>
<text transform="translate(79.3,518.5) rotate(-90)" font-size="28.5"><tspan fill="#1b8e8e" font-style="italic">trp2</tspan><tspan fill="#1b8e8e">&#916;</tspan><tspan fill="#de6a6a">-</tspan><tspan fill="#de6a6a" font-style="italic">trp4</tspan><tspan fill="#de6a6a">&#916;</tspan></text>
<text transform="translate(112.9,533.0) rotate(-90)" font-size="29.5">Population (%)</text>
<text transform="translate(79.0,797.5) rotate(-90)" font-size="28.5"><tspan fill="#1b8e8e" font-style="italic">met14</tspan><tspan fill="#1b8e8e">&#916;</tspan><tspan fill="#de6a6a">-</tspan><tspan fill="#de6a6a" font-style="italic">trp4</tspan><tspan fill="#de6a6a">&#916;</tspan></text>
<text transform="translate(112.9,799.3) rotate(-90)" font-size="29.5">Population (%)</text>
<text transform="translate(1118.7,147.0) rotate(90)" font-size="28.5">OD<tspan font-size="20" dy="7.2">700nm</tspan></text>
<text transform="translate(1116.5,400.3) rotate(90)" font-size="28.5">OD<tspan font-size="20" dy="7.2">700nm</tspan></text>
<text transform="translate(1115.3,651.6) rotate(90)" font-size="28.5">OD<tspan font-size="20" dy="7.2">700nm</tspan></text>
<text x="245.2" y="863.0" font-size="29.3">Time (h)</text>
<text x="573.2" y="861.8" font-size="29.3">Time (h)</text>
<text x="888.0" y="861.8" font-size="29.6">Time (h)</text>
<rect x="1443.00" y="43.40" width="44.00" height="48.50" fill="#8e9ccb"/>
<rect x="1486.70" y="43.40" width="43.50" height="48.50" fill="#a3afd3"/>
<rect x="1529.90" y="43.40" width="44.00" height="48.50" fill="#9eaad1"/>
<rect x="1594.30" y="43.40" width="43.20" height="48.50" fill="#e0e2e8"/>
<rect x="1637.20" y="43.40" width="43.20" height="48.50" fill="#e0e2e8"/>
<rect x="1680.10" y="43.40" width="45.10" height="48.50" fill="#8a97c7"/>
<rect x="1745.10" y="43.40" width="43.20" height="48.50" fill="#cdd1e0"/>
<rect x="1788.00" y="43.40" width="43.20" height="48.50" fill="#c3c9dd"/>
<rect x="1830.90" y="43.40" width="45.10" height="48.50" fill="#d0d3e1"/>
<rect x="1443.00" y="91.60" width="44.00" height="48.50" fill="#d8dbe4"/>
<rect x="1486.70" y="91.60" width="43.50" height="48.50" fill="#c9cedf"/>
<rect x="1529.90" y="91.60" width="44.00" height="48.50" fill="#edc4c6"/>
<rect x="1594.30" y="91.60" width="43.20" height="48.50" fill="#ee8282"/>
<rect x="1637.20" y="91.60" width="43.20" height="48.50" fill="#edbcbd"/>
<rect x="1680.10" y="91.60" width="45.10" height="48.50" fill="#94a1cc"/>
<rect x="1745.10" y="91.60" width="43.20" height="48.50" fill="#ec2126"/>
<rect x="1788.00" y="91.60" width="43.20" height="48.50" fill="#ed5153"/>
<rect x="1830.90" y="91.60" width="45.10" height="48.50" fill="#ee7f80"/>
<rect x="1443.00" y="139.80" width="44.00" height="48.50" fill="#ebd7da"/>
<rect x="1486.70" y="139.80" width="43.50" height="48.50" fill="#edb4b6"/>
<rect x="1529.90" y="139.80" width="44.00" height="48.50" fill="#edb0b2"/>
<rect x="1594.30" y="139.80" width="43.20" height="48.50" fill="#edcdd0"/>
<rect x="1637.20" y="139.80" width="43.20" height="48.50" fill="#ee9092"/>
<rect x="1680.10" y="139.80" width="45.10" height="48.50" fill="#8f9cca"/>
<rect x="1745.10" y="139.80" width="43.20" height="48.50" fill="#edbcbe"/>
<rect x="1788.00" y="139.80" width="43.20" height="48.50" fill="#ed9294"/>
<rect x="1830.90" y="139.80" width="45.10" height="48.50" fill="#edaeb0"/>
<rect x="1443.00" y="188.00" width="44.00" height="48.50" fill="#8f9dcb"/>
<rect x="1486.70" y="188.00" width="43.50" height="48.50" fill="#8e9ccb"/>
<rect x="1529.90" y="188.00" width="44.00" height="48.50" fill="#9aa7cf"/>
<rect x="1594.30" y="188.00" width="43.20" height="48.50" fill="#e3e4ea"/>
<rect x="1637.20" y="188.00" width="43.20" height="48.50" fill="#e5e6ea"/>
<rect x="1680.10" y="188.00" width="45.10" height="48.50" fill="#8e9bca"/>
<rect x="1745.10" y="188.00" width="43.20" height="48.50" fill="#d1d5e2"/>
<rect x="1788.00" y="188.00" width="43.20" height="48.50" fill="#b1bad7"/>
<rect x="1830.90" y="188.00" width="45.10" height="48.50" fill="#b3bcd8"/>
<rect x="1443.00" y="236.20" width="44.00" height="48.50" fill="#7d8cc3"/>
<rect x="1486.70" y="236.20" width="43.50" height="48.50" fill="#3a50a4"/>
<rect x="1529.90" y="236.20" width="44.00" height="48.50" fill="#98a5ce"/>
<rect x="1594.30" y="236.20" width="43.20" height="48.50" fill="#e7e7ea"/>
<rect x="1637.20" y="236.20" width="43.20" height="48.50" fill="#ebebec"/>
<rect x="1680.10" y="236.20" width="45.10" height="48.50" fill="#7787bf"/>
<rect x="1745.10" y="236.20" width="43.20" height="48.50" fill="#d1d5e2"/>
<rect x="1788.00" y="236.20" width="43.20" height="48.50" fill="#b9c1da"/>
<rect x="1830.90" y="236.20" width="45.10" height="48.50" fill="#c7cbde"/>
<rect x="1443.00" y="284.40" width="44.00" height="48.50" fill="#99a6cf"/>
<rect x="1486.70" y="284.40" width="43.50" height="48.50" fill="#97a5cf"/>
<rect x="1529.90" y="284.40" width="44.00" height="48.50" fill="#a2aed2"/>
<rect x="1594.30" y="284.40" width="43.20" height="48.50" fill="#d3d8e3"/>
<rect x="1637.20" y="284.40" width="43.20" height="48.50" fill="#dcdfe7"/>
<rect x="1680.10" y="284.40" width="45.10" height="48.50" fill="#6374b5"/>
<rect x="1745.10" y="284.40" width="43.20" height="48.50" fill="#cbcfdf"/>
<rect x="1788.00" y="284.40" width="43.20" height="48.50" fill="#b0b9d7"/>
<rect x="1830.90" y="284.40" width="45.10" height="48.50" fill="#a9b2d4"/>
<rect x="1443.00" y="332.60" width="44.00" height="48.50" fill="#98a5ce"/>
<rect x="1486.70" y="332.60" width="43.50" height="48.50" fill="#97a4ce"/>
<rect x="1529.90" y="332.60" width="44.00" height="48.50" fill="#9ba8cf"/>
<rect x="1594.30" y="332.60" width="43.20" height="48.50" fill="#e7e8eb"/>
<rect x="1637.20" y="332.60" width="43.20" height="48.50" fill="#e5e6ea"/>
<rect x="1680.10" y="332.60" width="45.10" height="48.50" fill="#95a2cd"/>
<rect x="1745.10" y="332.60" width="43.20" height="48.50" fill="#d0d4e2"/>
<rect x="1788.00" y="332.60" width="43.20" height="48.50" fill="#a6b0d3"/>
<rect x="1830.90" y="332.60" width="45.10" height="48.50" fill="#b5bdd8"/>
<rect x="1443.00" y="380.80" width="44.00" height="48.50" fill="#8e9bca"/>
<rect x="1486.70" y="380.80" width="43.50" height="48.50" fill="#8390c4"/>
<rect x="1529.90" y="380.80" width="44.00" height="48.50" fill="#9aa7cf"/>
<rect x="1594.30" y="380.80" width="43.20" height="48.50" fill="#dde0e8"/>
<rect x="1637.20" y="380.80" width="43.20" height="48.50" fill="#dde0e8"/>
<rect x="1680.10" y="380.80" width="45.10" height="48.50" fill="#8592c6"/>
<rect x="1745.10" y="380.80" width="43.20" height="48.50" fill="#cdd1e0"/>
<rect x="1788.00" y="380.80" width="43.20" height="48.50" fill="#b2bbd7"/>
<rect x="1830.90" y="380.80" width="45.10" height="48.50" fill="#c7cbde"/>
<rect x="1443.00" y="429.00" width="44.00" height="48.50" fill="#8895c8"/>
<rect x="1486.70" y="429.00" width="43.50" height="48.50" fill="#8592c6"/>
<rect x="1529.90" y="429.00" width="44.00" height="48.50" fill="#9aa7cf"/>
<rect x="1594.30" y="429.00" width="43.20" height="48.50" fill="#e3e4ea"/>
<rect x="1637.20" y="429.00" width="43.20" height="48.50" fill="#e1e3e9"/>
<rect x="1680.10" y="429.00" width="45.10" height="48.50" fill="#8391c5"/>
<rect x="1745.10" y="429.00" width="43.20" height="48.50" fill="#c5cade"/>
<rect x="1788.00" y="429.00" width="43.20" height="48.50" fill="#a9b3d5"/>
<rect x="1830.90" y="429.00" width="45.10" height="48.50" fill="#c0c6dc"/>
<rect x="1443.00" y="477.20" width="44.00" height="48.50" fill="#a9b3d5"/>
<rect x="1486.70" y="477.20" width="43.50" height="48.50" fill="#aab4d5"/>
<rect x="1529.90" y="477.20" width="44.00" height="48.50" fill="#a8b2d4"/>
<rect x="1594.30" y="477.20" width="43.20" height="48.50" fill="#dfe1e8"/>
<rect x="1637.20" y="477.20" width="43.20" height="48.50" fill="#dcdfe7"/>
<rect x="1680.10" y="477.20" width="45.10" height="48.50" fill="#6b7cb8"/>
<rect x="1745.10" y="477.20" width="43.20" height="48.50" fill="#e6e7ea"/>
<rect x="1788.00" y="477.20" width="43.20" height="48.50" fill="#b6bed9"/>
<rect x="1830.90" y="477.20" width="45.10" height="48.50" fill="#c0c6dc"/>
<rect x="1443.00" y="525.40" width="44.00" height="48.50" fill="#a6b0d3"/>
<rect x="1486.70" y="525.40" width="43.50" height="48.50" fill="#a7b1d4"/>
<rect x="1529.90" y="525.40" width="44.00" height="48.50" fill="#a5afd3"/>
<rect x="1594.30" y="525.40" width="43.20" height="48.50" fill="#dfe1e8"/>
<rect x="1637.20" y="525.40" width="43.20" height="48.50" fill="#dadee7"/>
<rect x="1680.10" y="525.40" width="45.10" height="48.50" fill="#6778b7"/>
<rect x="1745.10" y="525.40" width="43.20" height="48.50" fill="#e5e6ea"/>
<rect x="1788.00" y="525.40" width="43.20" height="48.50" fill="#bcc3db"/>
<rect x="1830.90" y="525.40" width="45.10" height="48.50" fill="#c4c9dd"/>
<rect x="1443.00" y="573.60" width="44.00" height="48.50" fill="#a7b1d4"/>
<rect x="1486.70" y="573.60" width="43.50" height="48.50" fill="#b0b9d7"/>
<rect x="1529.90" y="573.60" width="44.00" height="48.50" fill="#b5bdd9"/>
<rect x="1594.30" y="573.60" width="43.20" height="48.50" fill="#e0e2e8"/>
<rect x="1637.20" y="573.60" width="43.20" height="48.50" fill="#e8e8eb"/>
<rect x="1680.10" y="573.60" width="45.10" height="48.50" fill="#6b7cb8"/>
<rect x="1745.10" y="573.60" width="43.20" height="48.50" fill="#e3e4ea"/>
<rect x="1788.00" y="573.60" width="43.20" height="48.50" fill="#bcc3db"/>
<rect x="1830.90" y="573.60" width="45.10" height="48.50" fill="#c0c6dc"/>
<rect x="1443.00" y="621.80" width="44.00" height="48.50" fill="#8392c6"/>
<rect x="1486.70" y="621.80" width="43.50" height="48.50" fill="#7786c0"/>
<rect x="1529.90" y="621.80" width="44.00" height="48.50" fill="#a5afd3"/>
<rect x="1594.30" y="621.80" width="43.20" height="48.50" fill="#e3e4ea"/>
<rect x="1637.20" y="621.80" width="43.20" height="48.50" fill="#e9e9eb"/>
<rect x="1680.10" y="621.80" width="45.10" height="48.50" fill="#6b7cb8"/>
<rect x="1745.10" y="621.80" width="43.20" height="48.50" fill="#e3e4ea"/>
<rect x="1788.00" y="621.80" width="43.20" height="48.50" fill="#bcc3db"/>
<rect x="1830.90" y="621.80" width="45.10" height="48.50" fill="#bec5dc"/>
<rect x="1443.00" y="670.00" width="44.00" height="48.50" fill="#a6b0d3"/>
<rect x="1486.70" y="670.00" width="43.50" height="48.50" fill="#a3aed3"/>
<rect x="1529.90" y="670.00" width="44.00" height="48.50" fill="#a2add2"/>
<rect x="1594.30" y="670.00" width="43.20" height="48.50" fill="#dddfe7"/>
<rect x="1637.20" y="670.00" width="43.20" height="48.50" fill="#dddfe7"/>
<rect x="1680.10" y="670.00" width="45.10" height="48.50" fill="#6676b6"/>
<rect x="1745.10" y="670.00" width="43.20" height="48.50" fill="#e3e4ea"/>
<rect x="1788.00" y="670.00" width="43.20" height="48.50" fill="#b0b9d7"/>
<rect x="1830.90" y="670.00" width="45.10" height="48.50" fill="#bcc3db"/>
<rect x="1443.00" y="718.20" width="44.00" height="48.50" fill="#a9b3d5"/>
<rect x="1486.70" y="718.20" width="43.50" height="48.50" fill="#b7bfda"/>
<rect x="1529.90" y="718.20" width="44.00" height="48.50" fill="#9eaad1"/>
<rect x="1594.30" y="718.20" width="43.20" height="48.50" fill="#dbdee7"/>
<rect x="1637.20" y="718.20" width="43.20" height="48.50" fill="#d3d7e3"/>
<rect x="1680.10" y="718.20" width="45.10" height="48.50" fill="#6d7db9"/>
<rect x="1745.10" y="718.20" width="43.20" height="48.50" fill="#e0e2e8"/>
<rect x="1788.00" y="718.20" width="43.20" height="48.50" fill="#a9b3d5"/>
<rect x="1830.90" y="718.20" width="45.10" height="48.50" fill="#c6cbde"/>
<rect x="1443.00" y="766.40" width="44.00" height="48.50" fill="#a9b3d5"/>
<rect x="1486.70" y="766.40" width="43.50" height="48.50" fill="#a8b2d4"/>
<rect x="1529.90" y="766.40" width="44.00" height="48.50" fill="#97a5ce"/>
<rect x="1594.30" y="766.40" width="43.20" height="48.50" fill="#dfe1e8"/>
<rect x="1637.20" y="766.40" width="43.20" height="48.50" fill="#e2e3e9"/>
<rect x="1680.10" y="766.40" width="45.10" height="48.50" fill="#7b8ac0"/>
<rect x="1745.10" y="766.40" width="43.20" height="48.50" fill="#d8dce6"/>
<rect x="1788.00" y="766.40" width="43.20" height="48.50" fill="#a6b0d3"/>
<rect x="1830.90" y="766.40" width="45.10" height="48.50" fill="#c6cbde"/>
<rect x="1443.00" y="814.60" width="44.00" height="50.00" fill="#b1bad7"/>
<rect x="1486.70" y="814.60" width="43.50" height="50.00" fill="#bec5dc"/>
<rect x="1529.90" y="814.60" width="44.00" height="50.00" fill="#b2bbd8"/>
<rect x="1594.30" y="814.60" width="43.20" height="50.00" fill="#e6e7ea"/>
<rect x="1637.20" y="814.60" width="43.20" height="50.00" fill="#e6e7ea"/>
<rect x="1680.10" y="814.60" width="45.10" height="50.00" fill="#8391c5"/>
<rect x="1745.10" y="814.60" width="43.20" height="50.00" fill="#e3e4ea"/>
<rect x="1788.00" y="814.60" width="43.20" height="50.00" fill="#bdc4dc"/>
<rect x="1830.90" y="814.60" width="45.10" height="50.00" fill="#c6cbde"/>
<text x="1451.3" y="29.0" font-size="29">Lys-Ade</text>
<text x="1599.2" y="29.0" font-size="28.8">Trp2-Trp4</text>
<text x="1758.1" y="29.0" font-size="29">Met-Trp4</text>
<text x="1428.0" y="72.6" font-size="27" text-anchor="end">Control</text>
<text x="1428.9" y="125.7" font-size="27" text-anchor="end" fill="#5a2283">FLO1<tspan font-size="18" dy="6.8">co</tspan></text>
<text x="1428.8" y="174.8" font-size="27" text-anchor="end" fill="#5a2283">FLO5<tspan font-size="18" dy="6.8">co</tspan></text>
<text x="1427.0" y="223.7" font-size="27" text-anchor="end" fill="#2f538e">AGA1&amp;2<tspan font-size="18" dy="6.8">co</tspan></text>
<text x="1423.8" y="271.8" font-size="27" text-anchor="end" fill="#2f538e">SAG1<tspan font-size="18" dy="6.8">co</tspan></text>
<text x="1439.6" y="320.7" font-size="27" text-anchor="end" fill="#2f538e">SAG1-AGA1&amp;2<tspan font-size="18" dy="6.8">co</tspan></text>
<text x="1430.8" y="369.8" font-size="27" text-anchor="end" fill="#92c283">AGA1&amp;2-Ac<tspan font-size="18" dy="6.8">co</tspan></text>
<text x="1430.8" y="417.5" font-size="27" text-anchor="end" fill="#92c283">AGA1&amp;2-An<tspan font-size="18" dy="6.8">co</tspan></text>
<text x="1431.9" y="466.7" font-size="27" text-anchor="end" fill="#92c283">AGA1&amp;2-Spy<tspan font-size="18" dy="6.8">co</tspan></text>
<text x="1430.5" y="514.9" font-size="27" text-anchor="end" fill="#9e7fa9">FLO5N<tspan font-size="18" dy="6.8">co</tspan></text>
<text x="1434.8" y="563.3" font-size="27" text-anchor="end" fill="#9e7fa9">FLO5N-Ac<tspan font-size="18" dy="6.8">co</tspan></text>
<text x="1434.8" y="612.5" font-size="27" text-anchor="end" fill="#9e7fa9">FLO5N-An<tspan font-size="18" dy="6.8">co</tspan></text>
<text x="1435.9" y="660.3" font-size="27" text-anchor="end" fill="#9e7fa9">FLO5N-Spy<tspan font-size="18" dy="6.8">co</tspan></text>
<text x="1430.5" y="709.9" font-size="27" text-anchor="end" fill="#0f7474">FLO5C<tspan font-size="18" dy="6.8">co</tspan></text>
<text x="1434.8" y="758.3" font-size="27" text-anchor="end" fill="#0f7474">FLO5C-Ac<tspan font-size="18" dy="6.8">co</tspan></text>
<text x="1434.8" y="806.8" font-size="27" text-anchor="end" fill="#0f7474">FLO5C-An<tspan font-size="18" dy="6.8">co</tspan></text>
<text x="1435.9" y="855.3" font-size="27" text-anchor="end" fill="#0f7474">FLO5C-Spy<tspan font-size="18" dy="6.8">co</tspan></text>
<text transform="translate(1457.5,894.4) rotate(-45)" font-size="24.5" text-anchor="middle">1:1</text>
<text transform="translate(1499.0,893.2) rotate(-45)" font-size="24.5" text-anchor="middle">1:10</text>
<text transform="translate(1549.1,895.0) rotate(-45)" font-size="24.5" text-anchor="middle">10:1</text>
<text transform="translate(1607.8,894.4) rotate(-45)" font-size="24.5" text-anchor="middle">1:1</text>
<text transform="translate(1650.4,893.2) rotate(-45)" font-size="24.5" text-anchor="middle">1:10</text>
<text transform="translate(1699.1,895.0) rotate(-45)" font-size="24.5" text-anchor="middle">10:1</text>
<text transform="translate(1764.4,894.6) rotate(-45)" font-size="24.5" text-anchor="middle">1:1</text>
<text transform="translate(1803.2,893.2) rotate(-45)" font-size="24.5" text-anchor="middle">1:10</text>
<text transform="translate(1851.0,893.5) rotate(-45)" font-size="24.5" text-anchor="middle">10:1</text>
<line x1="1219.8" y1="99.8" x2="1219.8" y2="154.9" stroke="#000" stroke-width="3.3" stroke-linecap="butt"/>
<path d="M1211.5,100.8 L1219.8,84.3 L1228.1,100.8 Z" fill="#000"/>
<path d="M1211.5,153.9 L1219.8,170.4 L1228.1,153.9 Z" fill="#000"/>
<line x1="1219.2" y1="194.5" x2="1219.2" y2="301.2" stroke="#000" stroke-width="3.3" stroke-linecap="butt"/>
<path d="M1210.9,195.5 L1219.2,179.0 L1227.5,195.5 Z" fill="#000"/>
<path d="M1210.9,300.2 L1219.2,316.7 L1227.5,300.2 Z" fill="#000"/>
<line x1="1219.2" y1="338.9" x2="1219.2" y2="830.6" stroke="#000" stroke-width="3.3" stroke-linecap="butt"/>
<path d="M1210.9,339.9 L1219.2,323.4 L1227.5,339.9 Z" fill="#000"/>
<path d="M1210.9,829.6 L1219.2,846.1 L1227.5,829.6 Z" fill="#000"/>
<text transform="translate(1200.2,121.3) rotate(-90)" font-size="22.1" text-anchor="middle">Strategy 1</text>
<text transform="translate(1200.2,249.0) rotate(-90)" font-size="22.1" text-anchor="middle">Strategy 2.1</text>
<text transform="translate(1203.2,577.3) rotate(-90)" font-size="22.1" text-anchor="middle">Strategy 2.2</text>
<defs><linearGradient id="cb" x1="0" y1="0" x2="0" y2="1"><stop offset="0" stop-color="#e8252a"/><stop offset="0.155" stop-color="#e5484b"/><stop offset="0.16" stop-color="#e66668"/><stop offset="0.34" stop-color="#e9a7a8"/><stop offset="0.52" stop-color="#ebe9ea"/><stop offset="0.70" stop-color="#a9b2d4"/><stop offset="0.89" stop-color="#5064aa"/><stop offset="1" stop-color="#3b4f9f"/></linearGradient></defs>
<rect x="1895.5" y="678.8" width="15.2" height="182.2" fill="url(#cb)" stroke="#222" stroke-width="1.2"/>
<line x1="1895.5" y1="706.5" x2="1900.5" y2="706.5" stroke="#333" stroke-width="1.6" stroke-linecap="butt"/>
<line x1="1905.5" y1="706.5" x2="1910.7" y2="706.5" stroke="#333" stroke-width="1.6" stroke-linecap="butt"/>
<line x1="1895.5" y1="774.2" x2="1900.5" y2="774.2" stroke="#333" stroke-width="1.6" stroke-linecap="butt"/>
<line x1="1905.5" y1="774.2" x2="1910.7" y2="774.2" stroke="#333" stroke-width="1.6" stroke-linecap="butt"/>
<line x1="1895.5" y1="841.3" x2="1900.5" y2="841.3" stroke="#333" stroke-width="1.6" stroke-linecap="butt"/>
<line x1="1905.5" y1="841.3" x2="1910.7" y2="841.3" stroke="#333" stroke-width="1.6" stroke-linecap="butt"/>
<text x="1920.2" y="712.3" font-size="22.5">1.5</text>
<text x="1920.2" y="783.8" font-size="22.5">1.0</text>
<text x="1920.2" y="853.4" font-size="22.5">0.5</text>
<text x="1883.9" y="665.6" font-size="25.3">OD<tspan font-size="16.2" dx="-0.6" dy="6.9">700nm</tspan></text>
</svg>
</body></html>
